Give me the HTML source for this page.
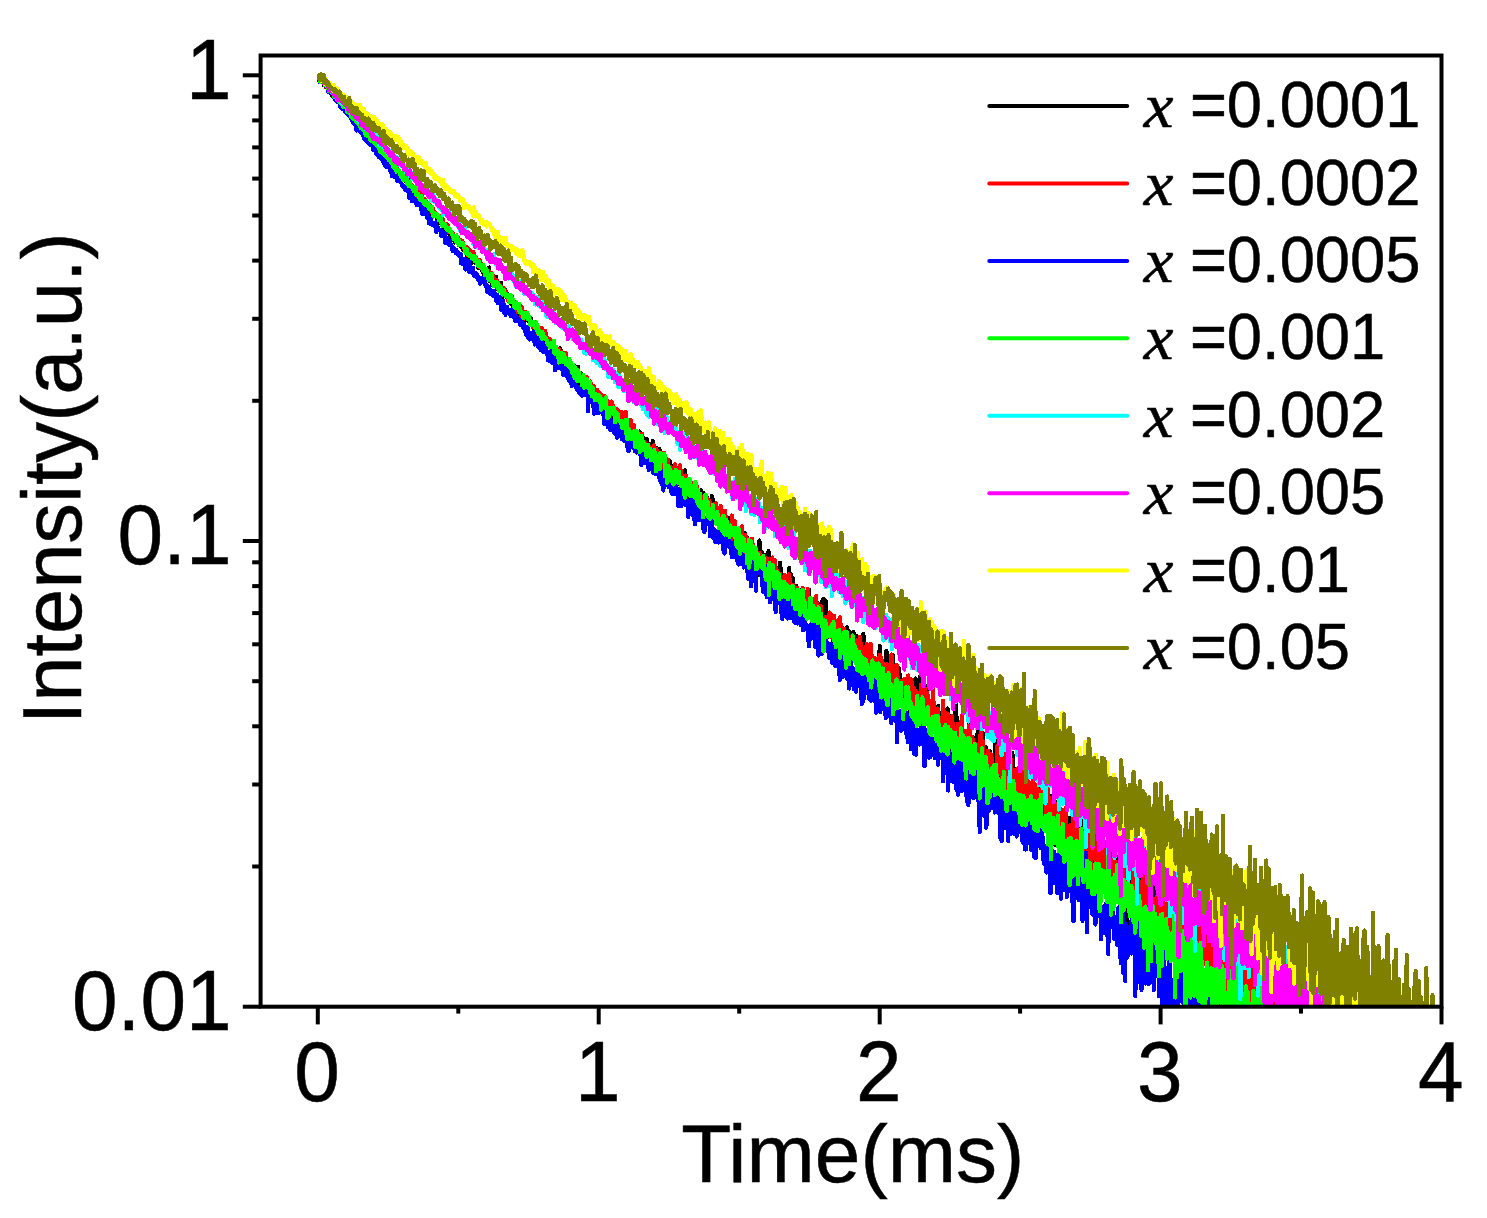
<!DOCTYPE html>
<html lang="en"><head><meta charset="utf-8"><title>Decay curves</title>
<style>
html,body{margin:0;padding:0;background:#fff;}
body{width:1487px;height:1218px;overflow:hidden;}
svg{display:block;}
text{font-family:"Liberation Sans",Arial,sans-serif;fill:#000;stroke:#000;stroke-width:0.5px;}
.it{font-family:"Liberation Serif","Times New Roman",serif;font-style:italic;}
</style></head><body>
<svg width="1487" height="1218" viewBox="0 0 1487 1218">
<rect width="1487" height="1218" fill="#fff"/>
<defs><clipPath id="cp"><rect x="260.6" y="55.5" width="1180.9" height="951.2"/></clipPath></defs>

<g clip-path="url(#cp)" fill="none" stroke-width="4.20" stroke-linejoin="round" stroke-linecap="round" shape-rendering="crispEdges">
<polyline points="318.9,75.3 319.5,75.3 320.0,76.2 320.6,79.4 321.2,79.8 321.7,80.8 322.3,79.8 322.9,81.4 323.4,80.9 324.0,85.5 324.5,81.0 325.1,84.2 325.7,83.7 326.2,85.6 326.8,86.6 327.4,86.0 327.9,86.1 328.5,88.4 329.0,88.9 329.6,88.3 330.2,91.4 330.7,93.1 331.3,90.8 331.8,93.1 332.4,95.8 333.0,94.7 333.5,94.8 334.1,96.6 334.7,97.8 335.2,96.0 335.8,95.3 336.3,97.8 336.9,99.3 337.5,98.2 338.0,98.3 338.6,100.6 339.2,99.9 339.7,99.8 340.3,102.5 340.8,104.1 341.4,102.9 342.0,103.7 342.5,103.0 343.1,107.6 343.6,107.2 344.2,108.2 344.8,110.3 345.3,108.0 345.9,108.0 346.5,110.7 347.0,107.9 347.6,109.5 348.1,110.5 348.7,111.5 349.3,111.3 349.8,115.7 350.4,113.2 350.9,113.9 351.5,118.5 352.1,115.6 352.6,117.3 353.2,116.2 353.8,119.0 354.3,118.9 354.9,119.0 355.4,121.7 356.0,119.9 356.6,121.7 357.1,121.4 357.7,123.8 358.3,121.7 358.8,123.2 359.4,125.2 359.9,124.5 360.5,124.1 361.1,123.9 361.6,130.3 362.2,126.8 362.7,128.1 363.3,129.8 363.9,132.0 364.4,128.8 365.0,133.8 365.6,131.3 366.1,130.7 366.7,136.5 367.2,134.8 367.8,137.3 368.4,135.2 368.9,133.7 369.5,133.5 370.1,140.8 370.6,139.4 371.2,137.8 371.7,136.9 372.3,139.6 372.9,142.4 373.4,141.2 374.0,142.4 374.5,143.4 375.1,145.0 375.7,143.7 376.2,144.5 376.8,145.9 377.4,146.8 377.9,149.4 378.5,148.6 379.0,146.2 379.6,149.4 380.2,152.4 380.7,148.0 381.3,150.1 381.9,147.9 382.4,152.3 383.0,153.9 383.5,156.4 384.1,152.0 384.7,150.4 385.2,157.3 385.8,157.6 386.3,156.0 386.9,159.3 387.5,159.0 388.0,159.8 388.6,159.4 389.2,158.4 389.7,161.1 390.3,160.1 390.8,163.3 391.4,162.5 392.0,167.9 392.5,167.2 393.1,163.7 393.6,167.0 394.2,165.4 394.8,166.1 395.3,165.3 395.9,167.0 396.5,167.3 397.0,170.1 397.6,171.9 398.1,172.6 398.7,172.8 399.3,174.7 399.8,174.3 400.4,174.1 401.0,174.1 401.5,175.9 402.1,179.7 402.6,176.7 403.2,176.8 403.8,175.8 404.3,177.5 404.9,180.5 405.4,181.3 406.0,176.7 406.6,179.8 407.1,178.4 407.7,178.5 408.3,184.9 408.8,183.2 409.4,183.7 409.9,184.2 410.5,184.9 411.1,186.2 411.6,186.9 412.2,191.0 412.8,189.0 413.3,190.8 413.9,189.7 414.4,191.6 415.0,190.1 415.6,190.3 416.1,192.0 416.7,192.7 417.2,193.8 417.8,195.6 418.4,195.7 418.9,197.0 419.5,195.9 420.1,197.3 420.6,196.8 421.2,201.4 421.7,197.6 422.3,201.6 422.9,202.2 423.4,201.8 424.0,203.2 424.6,202.1 425.1,204.6 425.7,206.3 426.2,206.5 426.8,202.7 427.4,206.0 427.9,209.2 428.5,207.4 429.0,211.4 429.6,205.0 430.2,212.7 430.7,209.1 431.3,209.6 431.9,214.5 432.4,211.5 433.0,210.7 433.5,212.4 434.1,213.6 434.7,212.7 435.2,215.1 435.8,215.4 436.4,217.1 436.9,216.1 437.5,220.2 438.0,217.1 438.6,220.6 439.2,222.6 439.7,220.0 440.3,217.8 440.8,220.0 441.4,224.0 442.0,221.9 442.5,225.2 443.1,225.1 443.7,225.3 444.2,231.5 444.8,226.4 445.3,229.9 445.9,229.8 446.5,232.3 447.0,233.1 447.6,232.4 448.1,229.0 448.7,227.7 449.3,232.3 449.8,230.4 450.4,234.2 451.0,238.8 451.5,234.6 452.1,234.5 452.6,237.3 453.2,236.2 453.8,236.2 454.3,240.3 454.9,242.5 455.5,240.1 456.0,240.8 456.6,241.8 457.1,239.2 457.7,238.2 458.3,244.0 458.8,241.9 459.4,241.9 459.9,243.1 460.5,242.9 461.1,247.0 461.6,244.9 462.2,242.4 462.8,246.0 463.3,250.1 463.9,247.7 464.4,246.7 465.0,249.5 465.6,252.5 466.1,247.8 466.7,255.4 467.3,251.6 467.8,253.6 468.4,257.2 468.9,251.7 469.5,254.5 470.1,259.0 470.6,255.1 471.2,258.4 471.7,262.8 472.3,260.3 472.9,258.5 473.4,258.1 474.0,259.9 474.6,260.9 475.1,260.4 475.7,262.8 476.2,259.8 476.8,263.1 477.4,263.3 477.9,263.3 478.5,268.2 479.1,267.9 479.6,262.6 480.2,266.3 480.7,268.6 481.3,267.6 481.9,270.4 482.4,269.0 483.0,272.1 483.5,270.2 484.1,275.9 484.7,268.6 485.2,274.2 485.8,277.8 486.4,274.7 486.9,275.7 487.5,274.9 488.0,279.1 488.6,275.5 489.2,267.5 489.7,281.3 490.3,277.5 490.8,279.9 491.4,279.1 492.0,285.4 492.5,284.1 493.1,280.3 493.7,282.3 494.2,278.3 494.8,285.4 495.3,283.5 495.9,276.6 496.5,287.4 497.0,288.5 497.6,286.6 498.2,287.3 498.7,285.4 499.3,288.0 499.8,291.2 500.4,289.0 501.0,282.8 501.5,287.2 502.1,299.6 502.6,292.5 503.2,295.3 503.8,291.6 504.3,294.5 504.9,289.1 505.5,292.5 506.0,293.3 506.6,295.9 507.1,297.2 507.7,296.7 508.3,294.6 508.8,297.4 509.4,300.6 510.0,296.5 510.5,300.2 511.1,301.7 511.6,304.4 512.2,304.4 512.8,305.2 513.3,312.5 513.9,301.5 514.4,303.5 515.0,306.4 515.6,303.3 516.1,305.7 516.7,306.5 517.3,315.9 517.8,309.6 518.4,307.9 518.9,305.3 519.5,305.2 520.1,307.1 520.6,315.6 521.2,319.5 521.8,311.5 522.3,313.8 522.9,311.5 523.4,315.5 524.0,315.1 524.6,321.1 525.1,315.6 525.7,319.0 526.2,317.1 526.8,317.4 527.4,319.8 527.9,319.1 528.5,320.8 529.1,319.0 529.6,320.4 530.2,324.4 530.7,325.1 531.3,318.4 531.9,324.8 532.4,322.0 533.0,324.5 533.6,328.2 534.1,329.4 534.7,327.3 535.2,327.5 535.8,326.9 536.4,333.7 536.9,332.1 537.5,331.1 538.0,326.3 538.6,339.9 539.2,331.3 539.7,335.1 540.3,332.5 540.9,336.2 541.4,334.0 542.0,330.7 542.5,335.3 543.1,335.7 543.7,336.5 544.2,340.9 544.8,337.2 545.3,340.3 545.9,343.0 546.5,341.0 547.0,342.3 547.6,339.6 548.2,342.9 548.7,345.2 549.3,339.2 549.8,341.3 550.4,341.0 551.0,343.9 551.5,346.9 552.1,348.6 552.7,348.8 553.2,345.2 553.8,348.7 554.3,354.9 554.9,350.5 555.5,355.9 556.0,351.0 556.6,356.5 557.1,357.3 557.7,353.0 558.3,354.4 558.8,360.7 559.4,352.7 560.0,348.3 560.5,362.0 561.1,350.7 561.6,360.4 562.2,360.3 562.8,359.8 563.3,365.2 563.9,355.6 564.5,359.2 565.0,364.5 565.6,363.3 566.1,368.7 566.7,364.9 567.3,360.7 567.8,371.4 568.4,367.1 568.9,365.5 569.5,362.7 570.1,362.2 570.6,369.7 571.2,371.5 571.8,367.5 572.3,371.3 572.9,371.7 573.4,366.9 574.0,365.1 574.6,371.3 575.1,373.8 575.7,371.3 576.3,382.0 576.8,374.9 577.4,379.8 577.9,366.6 578.5,373.8 579.1,376.8 579.6,378.8 580.2,389.3 580.7,376.3 581.3,373.2 581.9,383.6 582.4,378.3 583.0,378.8 583.6,389.1 584.1,379.1 584.7,378.0 585.2,383.3 585.8,385.2 586.4,382.2 586.9,392.9 587.5,386.4 588.0,382.9 588.6,393.6 589.2,384.4 589.7,391.2 590.3,399.3 590.9,391.1 591.4,395.6 592.0,390.5 592.5,397.8 593.1,388.5 593.7,397.1 594.2,392.8 594.8,397.7 595.4,397.1 595.9,390.9 596.5,395.9 597.0,399.4 597.6,404.0 598.2,393.5 598.7,396.1 599.3,401.5 599.8,399.4 600.4,406.0 601.0,406.5 601.5,406.2 602.1,401.2 602.7,402.0 603.2,407.5 603.8,401.1 604.3,401.4 604.9,404.8 605.5,401.3 606.0,408.2 606.6,407.9 607.2,405.7 607.7,408.7 608.3,405.2 608.8,415.8 609.4,403.4 610.0,414.6 610.5,412.1 611.1,418.8 611.6,409.5 612.2,406.8 612.8,408.4 613.3,410.1 613.9,422.6 614.5,419.2 615.0,418.2 615.6,421.2 616.1,411.4 616.7,416.6 617.3,418.2 617.8,416.2 618.4,424.1 619.0,424.5 619.5,424.9 620.1,418.4 620.6,419.8 621.2,419.1 621.8,417.2 622.3,430.4 622.9,426.7 623.4,423.6 624.0,432.1 624.6,428.3 625.1,420.8 625.7,420.9 626.3,421.6 626.8,427.5 627.4,429.4 627.9,423.2 628.5,431.4 629.1,428.2 629.6,423.6 630.2,433.1 630.8,435.0 631.3,432.3 631.9,429.6 632.4,430.8 633.0,433.1 633.6,431.5 634.1,444.0 634.7,440.4 635.2,435.3 635.8,442.0 636.4,444.9 636.9,444.7 637.5,443.6 638.1,440.1 638.6,445.4 639.2,438.9 639.7,431.5 640.3,442.2 640.9,434.9 641.4,440.9 642.0,449.4 642.5,445.1 643.1,449.8 643.7,440.4 644.2,452.0 644.8,438.5 645.4,443.2 645.9,458.9 646.5,443.1 647.0,439.4 647.6,453.3 648.2,443.6 648.7,460.5 649.3,448.9 649.9,460.9 650.4,448.7 651.0,462.8 651.5,468.7 652.1,450.9 652.7,440.8 653.2,457.9 653.8,450.1 654.3,454.8 654.9,458.0 655.5,453.0 656.0,447.6 656.6,465.3 657.2,455.0 657.7,456.8 658.3,468.2 658.8,450.5 659.4,449.1 660.0,467.0 660.5,451.4 661.1,461.9 661.7,463.8 662.2,454.4 662.8,462.6 663.3,462.6 663.9,456.0 664.5,457.9 665.0,460.8 665.6,475.7 666.1,477.4 666.7,461.1 667.3,474.4 667.8,468.2 668.4,476.5 669.0,471.4 669.5,479.0 670.1,461.3 670.6,478.4 671.2,473.2 671.8,474.2 672.3,466.0 672.9,483.3 673.5,474.8 674.0,476.5 674.6,472.4 675.1,473.3 675.7,479.8 676.3,475.9 676.8,480.3 677.4,475.5 677.9,479.7 678.5,483.9 679.1,480.3 679.6,478.4 680.2,467.1 680.8,485.0 681.3,480.4 681.9,473.6 682.4,497.4 683.0,495.7 683.6,492.5 684.1,485.8 684.7,470.3 685.2,483.7 685.8,479.0 686.4,488.8 686.9,504.8 687.5,504.3 688.1,482.3 688.6,488.3 689.2,498.8 689.7,483.3 690.3,501.6 690.9,484.3 691.4,482.8 692.0,498.0 692.6,500.9 693.1,488.4 693.7,501.9 694.2,489.3 694.8,503.8 695.4,490.8 695.9,496.0 696.5,500.2 697.0,503.9 697.6,496.7 698.2,512.1 698.7,501.3 699.3,502.7 699.9,496.0 700.4,509.8 701.0,490.3 701.5,504.3 702.1,510.7 702.7,494.0 703.2,492.8 703.8,505.7 704.4,511.2 704.9,505.4 705.5,510.9 706.0,508.8 706.6,496.7 707.2,505.0 707.7,507.3 708.3,506.4 708.8,509.8 709.4,504.1 710.0,504.4 710.5,513.6 711.1,510.8 711.7,495.9 712.2,509.7 712.8,514.5 713.3,499.9 713.9,514.3 714.5,522.8 715.0,510.7 715.6,522.4 716.2,520.1 716.7,514.8 717.3,518.5 717.8,523.7 718.4,522.7 719.0,523.6 719.5,511.7 720.1,525.6 720.6,525.1 721.2,507.4 721.8,526.1 722.3,512.2 722.9,513.9 723.5,524.8 724.0,534.7 724.6,521.6 725.1,520.5 725.7,519.0 726.3,525.9 726.8,518.5 727.4,517.7 728.0,535.9 728.5,518.5 729.1,527.9 729.6,533.9 730.2,532.7 730.8,517.6 731.3,524.3 731.9,545.5 732.4,531.9 733.0,534.1 733.6,534.9 734.1,538.0 734.7,545.8 735.3,529.0 735.8,542.9 736.4,539.1 736.9,541.5 737.5,543.0 738.1,532.6 738.6,535.7 739.2,544.2 739.7,546.9 740.3,543.8 740.9,533.7 741.4,540.4 742.0,540.2 742.6,544.9 743.1,544.9 743.7,541.9 744.2,558.5 744.8,532.8 745.4,551.3 745.9,550.1 746.5,536.4 747.1,545.2 747.6,547.1 748.2,552.5 748.7,560.8 749.3,547.7 749.9,540.7 750.4,557.2 751.0,540.5 751.5,560.1 752.1,557.5 752.7,548.5 753.2,552.9 753.8,548.2 754.4,559.8 754.9,562.7 755.5,570.1 756.0,565.2 756.6,564.8 757.2,568.2 757.7,554.9 758.3,563.1 758.9,574.6 759.4,540.5 760.0,566.2 760.5,570.2 761.1,551.2 761.7,552.3 762.2,571.0 762.8,574.2 763.3,570.9 763.9,554.7 764.5,566.4 765.0,571.0 765.6,565.3 766.2,556.3 766.7,577.5 767.3,569.8 767.8,578.6 768.4,551.2 769.0,554.4 769.5,561.5 770.1,570.5 770.7,564.8 771.2,588.1 771.8,568.9 772.3,582.7 772.9,583.2 773.5,578.5 774.0,576.2 774.6,569.3 775.1,568.8 775.7,572.9 776.3,583.3 776.8,570.7 777.4,577.6 778.0,567.8 778.5,585.3 779.1,602.1 779.6,582.8 780.2,562.6 780.8,576.1 781.3,582.1 781.9,573.9 782.4,577.5 783.0,578.4 783.6,587.0 784.1,582.6 784.7,582.1 785.3,589.7 785.8,594.4 786.4,584.3 786.9,578.1 787.5,581.3 788.1,583.1 788.6,583.5 789.2,567.8 789.8,586.6 790.3,580.8 790.9,574.2 791.4,590.0 792.0,588.8 792.6,583.0 793.1,578.4 793.7,590.0 794.2,590.1 794.8,593.0 795.4,604.7 795.9,585.6 796.5,597.5 797.1,611.0 797.6,597.7 798.2,612.2 798.7,606.3 799.3,598.0 799.9,606.6 800.4,590.3 801.0,612.7 801.6,598.1 802.1,596.1 802.7,589.2 803.2,594.2 803.8,600.5 804.4,602.3 804.9,604.1 805.5,594.5 806.0,610.4 806.6,600.7 807.2,606.6 807.7,604.2 808.3,609.2 808.9,589.5 809.4,613.8 810.0,606.2 810.5,606.5 811.1,604.1 811.7,606.0 812.2,606.7 812.8,602.4 813.4,625.2 813.9,611.8 814.5,623.6 815.0,610.8 815.6,624.2 816.2,622.6 816.7,614.8 817.3,602.6 817.8,610.1 818.4,613.1 819.0,604.0 819.5,625.5 820.1,637.1 820.7,621.6 821.2,620.7 821.8,607.7 822.3,600.5 822.9,632.2 823.5,598.7 824.0,606.8 824.6,613.6 825.2,618.2 825.7,600.9 826.3,621.8 826.8,627.5 827.4,622.3 828.0,637.1 828.5,620.2 829.1,626.0 829.6,622.4 830.2,622.7 830.8,636.6 831.3,615.0 831.9,637.2 832.5,619.8 833.0,644.0 833.6,625.4 834.1,637.3 834.7,629.5 835.3,636.6 835.8,652.7 836.4,642.2 836.9,631.2 837.5,626.5 838.1,647.3 838.6,654.7 839.2,642.3 839.8,636.3 840.3,640.9 840.9,643.2 841.4,627.7 842.0,627.1 842.6,629.7 843.1,646.5 843.7,636.9 844.3,640.1 844.8,653.0 845.4,630.7 845.9,638.8 846.5,644.9 847.1,627.2 847.6,633.7 848.2,633.4 848.7,630.6 849.3,635.6 849.9,655.9 850.4,647.4 851.0,634.3 851.6,652.3 852.1,644.6 852.7,641.6 853.2,632.1 853.8,633.9 854.4,638.2 854.9,649.3 855.5,639.0 856.1,643.2 856.6,650.6 857.2,636.2 857.7,645.0 858.3,658.2 858.9,638.5 859.4,654.0 860.0,645.9 860.5,668.5 861.1,653.0 861.7,663.2 862.2,664.0 862.8,674.8 863.4,634.0 863.9,656.8 864.5,653.4 865.0,645.2 865.6,658.0 866.2,652.0 866.7,672.3 867.3,656.2 867.9,663.1 868.4,654.1 869.0,657.8 869.5,675.1 870.1,680.9 870.7,672.0 871.2,654.1 871.8,657.7 872.3,658.5 872.9,685.5 873.5,694.1 874.0,670.8 874.6,668.1 875.2,671.6 875.7,661.9 876.3,667.9 876.8,679.5 877.4,676.6 878.0,666.0 878.5,667.3 879.1,669.3 879.7,646.2 880.2,672.3 880.8,668.7 881.3,681.4 881.9,674.8 882.5,665.8 883.0,665.8 883.6,674.0 884.1,668.6 884.7,672.6 885.3,695.2 885.8,713.2 886.4,651.0 887.0,666.3 887.5,676.2 888.1,695.9 888.6,690.9 889.2,662.7 889.8,710.5 890.3,681.5 890.9,669.1 891.4,677.3 892.0,671.2 892.6,681.2 893.1,655.4 893.7,692.4 894.3,696.8 894.8,678.6 895.4,666.8 895.9,683.2 896.5,671.7 897.1,689.5 897.6,697.6 898.2,669.4 898.8,668.1 899.3,668.9 899.9,690.8 900.4,699.7 901.0,700.3 901.6,689.8 902.1,681.2 902.7,682.5 903.2,705.5 903.8,686.9 904.4,689.4 904.9,689.0 905.5,690.8 906.1,693.3 906.6,684.8 907.2,690.4 907.7,689.8 908.3,700.9 908.9,688.8 909.4,695.1 910.0,720.1 910.6,689.2 911.1,698.2 911.7,685.2 912.2,698.0 912.8,697.7 913.4,694.6 913.9,697.6 914.5,703.2 915.0,720.4 915.6,678.5 916.2,718.6 916.7,703.8 917.3,692.8 917.9,696.3 918.4,694.7 919.0,692.9 919.5,687.8 920.1,699.1 920.7,671.5 921.2,715.8 921.8,701.3 922.4,708.8 922.9,711.5 923.5,702.0 924.0,689.3 924.6,714.9 925.2,715.4 925.7,698.8 926.3,701.4 926.8,686.1 927.4,696.8 928.0,706.4 928.5,713.6 929.1,707.5 929.7,712.6 930.2,728.1 930.8,711.3 931.3,714.0 931.9,715.2 932.5,718.1 933.0,693.9 933.6,705.5 934.1,703.2 934.7,722.2 935.3,728.0 935.8,719.1 936.4,713.2 937.0,720.8 937.5,719.3 938.1,706.1 938.6,714.3 939.2,730.8 939.8,724.2 940.3,727.6 940.9,717.6 941.5,735.1 942.0,723.0 942.6,712.9 943.1,721.3 943.7,733.7 944.3,730.4 944.8,721.6 945.4,717.7 945.9,713.9 946.5,726.3 947.1,742.0 947.6,708.5 948.2,722.2 948.8,721.4 949.3,723.1 949.9,740.6 950.4,731.8 951.0,725.0 951.6,716.2 952.1,728.4 952.7,772.9 953.3,733.1 953.8,726.2 954.4,715.4 954.9,722.7 955.5,702.9 956.1,715.3 956.6,716.6 957.2,721.8 957.7,752.0 958.3,723.9 958.9,727.3 959.4,742.0 960.0,728.4 960.6,730.9 961.1,742.6 961.7,738.6 962.2,740.9 962.8,735.1 963.4,743.9 963.9,732.1 964.5,765.4 965.1,743.5 965.6,763.0 966.2,747.0 966.7,734.8 967.3,741.4 967.9,743.6 968.4,741.8 969.0,723.9 969.5,758.3 970.1,733.0 970.7,764.9 971.2,751.1 971.8,743.3 972.4,757.2 972.9,743.7 973.5,737.6 974.0,763.3 974.6,748.8 975.2,753.2 975.7,775.5 976.3,751.6 976.9,760.3 977.4,733.4 978.0,762.3 978.5,730.0 979.1,758.6 979.7,728.2 980.2,745.5 980.8,747.1 981.3,743.1 981.9,742.4 982.5,736.7 983.0,733.2 983.6,759.8 984.2,772.8 984.7,794.7 985.3,761.8 985.8,747.3 986.4,752.6 987.0,756.5 987.5,763.2 988.1,767.6 988.6,763.2 989.2,754.8 989.8,785.2 990.3,751.4 990.9,781.6 991.5,763.9 992.0,770.8 992.6,767.6 993.1,777.6 993.7,779.6 994.3,767.2 994.8,779.6 995.4,734.6 996.0,771.2 996.5,775.0 997.1,774.0 997.6,781.8 998.2,803.4 998.8,771.3 999.3,764.2 999.9,790.1 1000.4,769.2 1001.0,786.7 1001.6,770.7 1002.1,765.9 1002.7,764.7 1003.3,765.8 1003.8,781.8 1004.4,761.0 1004.9,779.2 1005.5,768.8 1006.1,764.6 1006.6,778.6 1007.2,793.2 1007.8,767.2 1008.3,791.6 1008.9,788.8 1009.4,792.4 1010.0,766.0 1010.6,779.9 1011.1,811.5 1011.7,768.8 1012.2,752.6 1012.8,756.3 1013.4,788.0 1013.9,779.4 1014.5,774.1 1015.1,769.5 1015.6,781.4 1016.2,798.0 1016.7,772.7 1017.3,775.0 1017.9,803.0 1018.4,789.4 1019.0,781.0 1019.6,785.2 1020.1,778.5 1020.7,775.4 1021.2,779.3 1021.8,788.7 1022.4,807.3 1022.9,779.7 1023.5,770.0 1024.0,763.3 1024.6,790.1 1025.2,790.6 1025.7,771.4 1026.3,771.9 1026.9,786.9 1027.4,782.4 1028.0,803.6 1028.5,785.1 1029.1,805.6 1029.7,796.2 1030.2,796.4 1030.8,801.8 1031.3,827.8 1031.9,808.1 1032.5,792.0 1033.0,798.0 1033.6,803.3 1034.2,792.1 1034.7,789.1 1035.3,787.4 1035.8,811.4 1036.4,799.8 1037.0,805.4 1037.5,814.0 1038.1,824.2 1038.7,803.5 1039.2,815.5 1039.8,774.5 1040.3,805.0 1040.9,807.4 1041.5,810.4 1042.0,779.9 1042.6,819.6 1043.1,808.4 1043.7,818.0 1044.3,808.9 1044.8,808.1 1045.4,792.9 1046.0,830.1 1046.5,809.4 1047.1,787.5 1047.6,817.6 1048.2,813.2 1048.8,824.4 1049.3,853.6 1049.9,813.6 1050.5,796.2 1051.0,820.0 1051.6,842.4 1052.1,810.2 1052.7,813.4 1053.3,801.0 1053.8,802.7 1054.4,820.1 1054.9,810.8 1055.5,845.3 1056.1,801.9 1056.6,815.4 1057.2,803.3 1057.8,804.0 1058.3,823.8 1058.9,822.3 1059.4,833.8 1060.0,854.0 1060.6,823.5 1061.1,819.8 1061.7,839.2 1062.3,812.8 1062.8,822.1 1063.4,817.4 1063.9,836.3 1064.5,853.0 1065.1,814.3 1065.6,817.2 1066.2,828.2 1066.7,833.4 1067.3,831.7 1067.9,830.1 1068.4,836.3 1069.0,861.6 1069.6,818.1 1070.1,853.8 1070.7,835.6 1071.2,835.7 1071.8,827.6 1072.4,858.0 1072.9,815.0 1073.5,823.3 1074.1,822.1 1074.6,815.6 1075.2,847.0 1075.7,889.5 1076.3,830.4 1076.9,816.8 1077.4,819.3 1078.0,845.3 1078.5,838.8 1079.1,833.5 1079.7,868.3 1080.2,849.4 1080.8,849.4 1081.4,816.7 1081.9,850.6 1082.5,817.8 1083.0,841.1 1083.6,869.7 1084.2,810.4 1084.7,858.5 1085.3,833.8 1085.8,818.6 1086.4,852.7 1087.0,864.9 1087.5,829.5 1088.1,844.6 1088.7,866.5 1089.2,864.5 1089.8,853.4 1090.3,833.0 1090.9,852.8 1091.5,838.5 1092.0,824.5 1092.6,830.4 1093.2,828.5 1093.7,831.9 1094.3,878.6 1094.8,833.0 1095.4,846.9 1096.0,854.6 1096.5,871.3 1097.1,880.9 1097.6,872.9 1098.2,855.0 1098.8,875.0 1099.3,869.3 1099.9,866.4 1100.5,846.1 1101.0,862.0 1101.6,860.0 1102.1,837.6 1102.7,863.9 1103.3,849.6 1103.8,877.7 1104.4,854.8 1105.0,858.6 1105.5,858.2 1106.1,869.4 1106.6,879.8 1107.2,867.6 1107.8,871.0 1108.3,847.2 1108.9,849.6 1109.4,885.5 1110.0,854.9 1110.6,873.7 1111.1,858.6 1111.7,874.7 1112.3,893.2 1112.8,851.3 1113.4,860.6 1113.9,890.2 1114.5,903.5 1115.1,878.7 1115.6,890.9 1116.2,876.8 1116.8,860.9 1117.3,848.2 1117.9,878.2 1118.4,850.5 1119.0,854.2 1119.6,881.0 1120.1,904.5 1120.7,860.5 1121.2,864.9 1121.8,838.9 1122.4,852.9 1122.9,863.5 1123.5,850.0 1124.1,896.3 1124.6,874.7 1125.2,883.2 1125.7,851.0 1126.3,869.9 1126.9,941.0 1127.4,858.0 1128.0,897.2 1128.5,868.3 1129.1,890.3 1129.7,878.1 1130.2,872.1 1130.8,879.9 1131.4,901.1 1131.9,861.2 1132.5,877.9 1133.0,885.5 1133.6,873.7 1134.2,895.8 1134.7,856.1 1135.3,883.3 1135.9,881.3 1136.4,882.1 1137.0,905.4 1137.5,911.0 1138.1,885.8 1138.7,884.0 1139.2,868.1 1139.8,883.3 1140.3,911.9 1140.9,882.9 1141.5,878.4 1142.0,876.0 1142.6,887.7 1143.2,917.2 1143.7,874.8 1144.3,908.6 1144.8,885.5 1145.4,926.5 1146.0,883.3 1146.5,911.7 1147.1,878.9 1147.7,868.5 1148.2,878.5 1148.8,921.4 1149.3,917.4 1149.9,916.5 1150.5,888.9 1151.0,894.9 1151.6,898.7 1152.1,896.5 1152.7,892.3 1153.3,891.5 1153.8,874.8 1154.4,905.1 1155.0,900.9 1155.5,942.4 1156.1,931.5 1156.6,919.3 1157.2,929.7 1157.8,903.1 1158.3,889.3 1158.9,916.4 1159.5,917.8 1160.0,918.9 1160.6,907.3 1161.1,920.6 1161.7,902.9 1162.3,905.6 1162.8,905.3 1163.4,898.4 1163.9,912.0 1164.5,910.4 1165.1,883.1 1165.6,915.0 1166.2,900.1 1166.8,914.1 1167.3,924.4 1167.9,924.9 1168.4,932.7 1169.0,916.8 1169.6,929.3 1170.1,926.2 1170.7,896.6 1171.3,921.5 1171.8,898.9 1172.4,915.0 1172.9,904.7 1173.5,932.9 1174.1,918.6 1174.6,876.9 1175.2,907.1 1175.7,904.5 1176.3,918.9 1176.9,908.0 1177.4,948.0 1178.0,941.9 1178.6,917.2 1179.1,910.6 1179.7,934.4 1180.2,930.4 1180.8,934.4 1181.4,931.4 1181.9,953.0 1182.5,958.7 1183.0,930.8 1183.6,966.8 1184.2,950.3 1184.7,944.0 1185.3,952.9 1185.9,927.1 1186.4,941.2 1187.0,934.3 1187.5,954.1 1188.1,948.9 1188.7,924.4 1189.2,927.7 1189.8,944.6 1190.4,928.7 1190.9,932.6 1191.5,933.6 1192.0,907.9 1192.6,945.9 1193.2,930.1 1193.7,930.5 1194.3,944.0 1194.8,964.4 1195.4,926.9 1196.0,935.6 1196.5,940.2 1197.1,941.3 1197.7,941.8 1198.2,961.6 1198.8,937.5 1199.3,983.9 1199.9,944.8 1200.5,977.7 1201.0,952.6 1201.6,931.7 1202.2,951.7 1202.7,956.9 1203.3,937.0 1203.8,953.4 1204.4,956.9 1205.0,957.1 1205.5,920.1 1206.1,936.5 1206.6,940.5 1207.2,977.4 1207.8,938.7 1208.3,981.0 1208.9,942.5 1209.5,977.9 1210.0,915.7 1210.6,993.1 1211.1,929.9 1211.7,938.4 1212.3,997.3 1212.8,961.0 1213.4,927.5 1214.0,933.7 1214.5,996.6 1215.1,969.3 1215.6,985.4 1216.2,982.3 1216.8,973.7 1217.3,923.1 1217.9,957.3 1218.4,965.7 1219.0,968.7 1219.6,947.5 1220.1,947.5 1220.7,984.1 1221.3,933.0 1221.8,989.2 1222.4,970.4 1222.9,954.8 1223.5,930.1 1224.1,973.5 1224.6,959.8 1225.2,939.2 1225.7,953.5 1226.3,943.6 1226.9,945.8 1227.4,962.7 1228.0,955.1 1228.6,949.6 1229.1,970.6 1229.7,936.8 1230.2,1022.5 1230.8,993.7 1231.4,941.1 1231.9,962.7 1232.5,988.3 1233.1,964.8 1233.6,950.0 1234.2,987.7 1234.7,957.6 1235.3,978.1 1235.9,978.4 1236.4,977.8 1237.0,952.1 1237.5,1005.4 1238.1,986.5 1238.7,963.1 1239.2,1009.8 1239.8,1020.6 1240.4,966.5 1240.9,980.0 1241.5,984.1 1242.0,977.7 1242.6,1006.3 1243.2,921.9 1243.7,1007.7 1244.3,993.8 1244.9,1021.1 1245.4,994.3 1246.0,950.4 1246.5,984.4 1247.1,971.4 1247.7,998.0 1248.2,946.2 1248.8,982.9 1249.3,1020.6 1249.9,969.7 1250.5,997.6 1251.0,974.3 1251.6,985.8 1252.2,983.3 1252.7,986.9 1253.3,1014.6 1253.8,1032.6 1254.4,968.6 1255.0,995.6 1255.5,985.6 1256.1,1005.1 1256.7,1052.4 1257.2,1029.2 1257.8,962.1 1258.3,1016.0 1258.9,1005.5 1259.5,1037.3 1260.0,1010.5 1260.6,1006.8 1261.1,1003.3 1261.7,999.9 1262.3,1015.4 1262.8,1014.3 1263.4,999.8 1264.0,991.8 1264.5,1004.2 1265.1,960.2 1265.6,996.2 1266.2,997.8 1266.8,1020.3 1267.3,977.7 1267.9,1032.2 1268.5,1051.5 1269.0,1031.8 1269.6,989.2 1270.1,1038.1 1270.7,974.3 1271.3,1007.0 1271.8,1051.7 1272.4,1013.5 1272.9,965.2 1273.5,1032.7 1274.1,1047.2 1274.6,996.0 1275.2,977.5 1275.8,984.6 1276.3,1019.8 1276.9,1006.2 1277.4,1003.1 1278.0,982.7 1278.6,961.5 1279.1,1016.1 1279.7,981.1 1280.2,1023.7 1280.8,999.2 1281.4,1042.4 1281.9,1037.7 1282.5,1005.0 1283.1,1042.9 1283.6,994.0 1284.2,1033.3 1284.7,1015.9 1285.3,1020.8 1285.9,1028.5 1286.4,1015.9 1287.0,991.9 1287.6,948.3 1288.1,1057.1 1288.7,1013.2 1289.2,1026.9 1289.8,1049.8 1290.4,1015.0 1290.9,1049.8 1291.5,1026.0 1292.0,992.0 1292.6,1062.6 1293.2,1018.4 1293.7,1013.4 1294.3,1055.5 1294.9,1012.3 1295.4,1017.4 1296.0,1037.9 1296.5,996.1 1297.1,1062.6 1297.7,1011.4 1298.2,1036.5 1298.8,1062.6 1299.4,1035.8 1299.9,1041.5 1300.5,1009.1 1301.0,1062.6 1301.6,1038.3 1302.2,1046.8 1302.7,992.1 1303.3,1062.6 1303.8,1005.6 1304.4,1062.6 1305.0,1025.6 1305.5,1040.1 1306.1,1025.7 1306.7,1059.0 1307.2,1062.6 1307.8,1062.6 1308.3,1002.9 1308.9,1032.9 1309.5,1062.6 1310.0,1014.9 1310.6,1062.6 1311.2,1062.6 1311.7,1062.6 1312.3,1009.5 1312.8,990.8 1313.4,1062.6 1314.0,1035.1 1314.5,1016.6 1315.1,989.0 1315.6,1062.6 1316.2,1041.5 1316.8,1027.5 1317.3,1062.6 1317.9,1035.2 1318.5,1041.8 1319.0,1027.2 1319.6,1062.6 1320.1,1036.8 1320.7,1062.6 1321.3,1032.4 1321.8,1046.0 1322.4,1062.6 1322.9,1062.6 1323.5,1006.6 1324.1,1020.9 1324.6,1027.5 1325.2,1062.6 1325.8,1062.6 1326.3,1008.1 1326.9,1033.1 1327.4,1062.6 1328.0,1054.7 1328.6,1052.3 1329.1,1062.6 1329.7,1062.6 1330.3,1021.8 1330.8,1040.7 1331.4,1062.6 1331.9,1062.6 1332.5,1062.6 1333.1,1060.6 1333.6,1034.9 1334.2,1062.6 1334.7,1029.1 1335.3,1057.8 1335.9,1062.6 1336.4,1062.6 1337.0,1062.6 1337.6,1062.6 1338.1,1062.6 1338.7,1054.5 1339.2,1024.8 1339.8,1062.6 1340.4,1062.6 1340.9,1002.0 1341.5,1057.4 1342.1,1062.6 1342.6,1062.6 1343.2,1062.6 1343.7,1049.4 1344.3,1057.8 1344.9,1023.7 1345.4,1037.3 1346.0,1044.3 1346.5,1033.8 1347.1,1062.6 1347.7,1062.6 1348.2,1062.6 1348.8,1062.6 1349.4,1062.6 1349.9,1062.6 1350.5,1053.6 1351.0,1062.6 1351.6,1062.6 1352.2,1062.6 1352.7,1034.0 1353.3,1062.6 1353.9,1062.6 1354.4,1062.6 1355.0,1062.6 1355.5,1062.6 1356.1,1062.6 1356.7,1062.6 1357.2,1062.6 1357.8,1062.6 1358.3,1062.6 1358.9,1062.6 1359.5,1048.3 1360.0,1062.6 1360.6,1062.6 1361.2,1062.6 1361.7,1062.6 1362.3,1053.3 1362.8,1062.6 1363.4,1062.6 1364.0,1062.6 1364.5,1058.4 1365.1,1060.7 1365.7,1062.6 1366.2,1062.6 1366.8,1045.4 1367.3,1062.6 1367.9,1051.5 1368.5,1048.6 1369.0,1062.6 1369.6,1062.6 1370.1,1062.6 1370.7,1057.0 1371.3,1062.6 1371.8,1062.6 1372.4,1062.6 1373.0,1062.6 1373.5,1062.6 1374.1,1062.6 1374.6,1062.6 1375.2,1062.6 1375.8,1062.6 1376.3,1062.6 1376.9,1062.6 1377.4,1020.2 1378.0,1060.9 1378.6,1062.6 1379.1,1062.6 1379.7,1055.8 1380.3,1062.6 1380.8,1062.6 1381.4,1062.6 1381.9,1062.6 1382.5,1036.0 1383.1,1062.6 1383.6,1052.6 1384.2,1062.6 1384.8,1062.6 1385.3,1062.6 1385.9,1062.6 1386.4,1062.6 1387.0,1062.6 1387.6,1062.6 1388.1,1062.6 1388.7,1062.6 1389.2,1062.6 1389.8,1062.6 1390.4,1062.6 1390.9,1062.6 1391.5,1062.6 1392.1,1062.6 1392.6,1062.6 1393.2,1055.5 1393.7,1062.6 1394.3,1062.6 1394.9,1062.6 1395.4,1062.6 1396.0,1062.6 1396.6,1062.6 1397.1,1062.6 1397.7,1062.6 1398.2,1062.6 1398.8,1062.6 1399.4,1062.6 1399.9,1062.6 1400.5,1062.6 1401.0,1037.1 1401.6,1062.6 1402.2,1062.6 1402.7,1062.6 1403.3,1062.6 1403.9,1062.6 1404.4,1062.6 1405.0,1062.6 1405.5,1062.6 1406.1,1062.6 1406.7,1062.6 1407.2,1062.6 1407.8,1062.6 1408.4,1062.6 1408.9,1062.6 1409.5,1057.9 1410.0,1062.6 1410.6,1062.6 1411.2,1062.6 1411.7,1062.6 1412.3,1062.6 1412.8,1062.6 1413.4,1062.6 1414.0,1062.6 1414.5,1062.6 1415.1,1062.6 1415.7,1062.6 1416.2,1062.6 1416.8,1062.6 1417.3,1062.6 1417.9,1062.6 1418.5,1062.6 1419.0,1062.6 1419.6,1062.6 1420.1,1044.9 1420.7,1062.6 1421.3,1062.6 1421.8,1062.6 1422.4,1062.6 1423.0,1062.6 1423.5,1062.6 1424.1,1062.6 1424.6,1062.6 1425.2,1062.6 1425.8,1062.6 1426.3,1062.6 1426.9,1062.6 1427.5,1062.6 1428.0,1062.6 1428.6,1062.6 1429.1,1062.6 1429.7,1062.6 1430.3,1062.6 1430.8,1062.6 1431.4,1062.6 1431.9,1062.6 1432.5,1062.6 1433.1,1062.6 1433.6,1062.6 1434.2,1062.6" stroke="#000000"/>
<polyline points="318.9,75.3 319.5,76.0 320.0,77.1 320.6,77.7 321.2,77.3 321.7,81.4 322.3,81.4 322.9,82.9 323.4,82.0 324.0,81.4 324.5,83.3 325.1,83.3 325.7,86.9 326.2,85.0 326.8,87.0 327.4,84.3 327.9,86.1 328.5,86.7 329.0,88.6 329.6,88.4 330.2,89.0 330.7,90.9 331.3,91.8 331.8,92.0 332.4,93.3 333.0,93.9 333.5,94.2 334.1,95.4 334.7,94.2 335.2,97.8 335.8,95.4 336.3,97.9 336.9,98.5 337.5,100.2 338.0,99.3 338.6,100.1 339.2,100.2 339.7,101.8 340.3,101.6 340.8,100.1 341.4,102.5 342.0,104.5 342.5,103.2 343.1,105.2 343.6,104.9 344.2,105.6 344.8,107.6 345.3,110.3 345.9,108.8 346.5,108.3 347.0,110.2 347.6,109.8 348.1,109.7 348.7,112.4 349.3,110.7 349.8,110.8 350.4,112.2 350.9,112.8 351.5,113.5 352.1,112.6 352.6,116.0 353.2,117.0 353.8,116.8 354.3,119.5 354.9,121.1 355.4,120.8 356.0,119.8 356.6,120.3 357.1,123.7 357.7,124.9 358.3,123.3 358.8,123.8 359.4,124.3 359.9,124.0 360.5,123.9 361.1,125.9 361.6,126.0 362.2,129.1 362.7,129.9 363.3,128.5 363.9,128.6 364.4,129.2 365.0,130.0 365.6,130.4 366.1,131.0 366.7,135.3 367.2,134.5 367.8,133.5 368.4,134.0 368.9,137.6 369.5,134.5 370.1,137.4 370.6,137.8 371.2,137.7 371.7,137.7 372.3,141.5 372.9,138.7 373.4,140.7 374.0,142.5 374.5,142.5 375.1,145.9 375.7,144.4 376.2,143.8 376.8,145.8 377.4,145.9 377.9,146.3 378.5,146.6 379.0,145.9 379.6,148.1 380.2,149.1 380.7,148.6 381.3,147.0 381.9,151.2 382.4,150.6 383.0,154.4 383.5,150.7 384.1,152.4 384.7,152.0 385.2,154.7 385.8,156.9 386.3,154.7 386.9,155.5 387.5,158.6 388.0,160.2 388.6,157.9 389.2,159.5 389.7,156.0 390.3,161.5 390.8,162.1 391.4,162.1 392.0,165.1 392.5,164.6 393.1,161.4 393.6,164.8 394.2,166.2 394.8,167.9 395.3,165.7 395.9,166.2 396.5,167.5 397.0,169.1 397.6,168.7 398.1,169.3 398.7,171.6 399.3,170.2 399.8,175.2 400.4,174.5 401.0,173.6 401.5,174.0 402.1,176.3 402.6,174.6 403.2,174.2 403.8,175.8 404.3,176.8 404.9,176.5 405.4,177.8 406.0,180.9 406.6,180.1 407.1,178.4 407.7,182.9 408.3,181.7 408.8,183.1 409.4,184.5 409.9,185.4 410.5,184.3 411.1,184.6 411.6,185.2 412.2,188.7 412.8,187.5 413.3,187.2 413.9,186.9 414.4,188.0 415.0,188.4 415.6,188.6 416.1,189.7 416.7,193.0 417.2,192.3 417.8,194.2 418.4,197.6 418.9,197.1 419.5,191.6 420.1,197.5 420.6,200.0 421.2,197.9 421.7,195.1 422.3,198.4 422.9,198.3 423.4,200.1 424.0,200.4 424.6,198.9 425.1,200.3 425.7,202.4 426.2,201.4 426.8,201.8 427.4,204.6 427.9,204.5 428.5,205.1 429.0,207.4 429.6,205.0 430.2,207.8 430.7,209.3 431.3,211.8 431.9,211.7 432.4,207.6 433.0,212.8 433.5,210.8 434.1,212.8 434.7,212.0 435.2,212.5 435.8,215.5 436.4,215.3 436.9,215.3 437.5,216.0 438.0,216.9 438.6,218.0 439.2,217.0 439.7,216.5 440.3,218.5 440.8,221.5 441.4,220.1 442.0,221.3 442.5,221.3 443.1,219.5 443.7,223.8 444.2,224.1 444.8,226.4 445.3,225.9 445.9,227.1 446.5,223.8 447.0,226.8 447.6,229.1 448.1,225.2 448.7,231.9 449.3,228.4 449.8,228.8 450.4,230.3 451.0,232.5 451.5,232.9 452.1,234.0 452.6,232.5 453.2,239.1 453.8,236.3 454.3,235.7 454.9,237.8 455.5,240.8 456.0,238.4 456.6,240.1 457.1,237.8 457.7,237.3 458.3,240.5 458.8,245.1 459.4,242.2 459.9,244.3 460.5,241.8 461.1,240.4 461.6,243.7 462.2,241.0 462.8,242.6 463.3,244.8 463.9,248.5 464.4,247.0 465.0,250.8 465.6,246.4 466.1,248.8 466.7,246.9 467.3,249.7 467.8,254.9 468.4,250.2 468.9,250.2 469.5,249.4 470.1,255.3 470.6,255.9 471.2,254.5 471.7,257.4 472.3,258.7 472.9,258.7 473.4,251.8 474.0,259.0 474.6,260.5 475.1,259.9 475.7,259.6 476.2,257.6 476.8,258.9 477.4,259.8 477.9,262.0 478.5,262.4 479.1,264.7 479.6,267.2 480.2,260.3 480.7,266.2 481.3,263.7 481.9,267.1 482.4,267.3 483.0,268.0 483.5,271.3 484.1,269.1 484.7,268.8 485.2,268.4 485.8,269.7 486.4,269.2 486.9,271.4 487.5,272.7 488.0,277.7 488.6,275.1 489.2,271.2 489.7,274.9 490.3,274.0 490.8,276.9 491.4,278.5 492.0,273.1 492.5,277.5 493.1,275.6 493.7,278.3 494.2,280.8 494.8,285.9 495.3,281.2 495.9,285.6 496.5,287.7 497.0,280.4 497.6,282.2 498.2,283.0 498.7,285.0 499.3,285.8 499.8,285.4 500.4,286.6 501.0,287.4 501.5,286.5 502.1,294.6 502.6,287.4 503.2,291.5 503.8,288.7 504.3,288.6 504.9,293.9 505.5,290.7 506.0,291.4 506.6,295.5 507.1,295.7 507.7,294.9 508.3,301.1 508.8,297.5 509.4,296.6 510.0,298.7 510.5,302.1 511.1,299.8 511.6,295.9 512.2,297.0 512.8,301.1 513.3,303.3 513.9,302.1 514.4,302.6 515.0,304.9 515.6,304.7 516.1,303.0 516.7,302.9 517.3,311.8 517.8,304.0 518.4,306.7 518.9,304.8 519.5,308.3 520.1,307.8 520.6,305.5 521.2,317.6 521.8,306.8 522.3,310.9 522.9,316.5 523.4,319.3 524.0,312.4 524.6,316.4 525.1,311.9 525.7,314.5 526.2,316.0 526.8,313.8 527.4,316.4 527.9,315.7 528.5,316.1 529.1,318.0 529.6,317.4 530.2,318.0 530.7,324.2 531.3,322.0 531.9,322.2 532.4,323.5 533.0,327.3 533.6,325.3 534.1,323.6 534.7,324.6 535.2,321.8 535.8,327.9 536.4,328.1 536.9,329.1 537.5,329.0 538.0,330.4 538.6,334.4 539.2,329.2 539.7,328.1 540.3,328.4 540.9,334.9 541.4,333.1 542.0,328.4 542.5,334.1 543.1,333.6 543.7,335.5 544.2,333.1 544.8,333.8 545.3,330.9 545.9,336.3 546.5,337.0 547.0,342.2 547.6,340.6 548.2,342.0 548.7,341.7 549.3,345.0 549.8,338.7 550.4,345.5 551.0,342.5 551.5,347.4 552.1,343.6 552.7,340.7 553.2,348.0 553.8,345.4 554.3,347.2 554.9,346.9 555.5,347.1 556.0,350.7 556.6,350.1 557.1,351.8 557.7,353.1 558.3,354.9 558.8,349.3 559.4,354.8 560.0,351.4 560.5,352.4 561.1,357.5 561.6,352.2 562.2,358.4 562.8,354.6 563.3,352.8 563.9,359.8 564.5,361.1 565.0,361.8 565.6,352.9 566.1,361.4 566.7,364.7 567.3,359.0 567.8,362.6 568.4,362.8 568.9,366.4 569.5,371.0 570.1,366.9 570.6,368.5 571.2,371.0 571.8,369.9 572.3,370.1 572.9,365.3 573.4,366.2 574.0,367.4 574.6,371.4 575.1,374.4 575.7,370.0 576.3,370.1 576.8,369.0 577.4,372.9 577.9,373.9 578.5,373.1 579.1,377.8 579.6,378.0 580.2,373.8 580.7,380.8 581.3,377.5 581.9,375.2 582.4,377.7 583.0,377.6 583.6,383.5 584.1,380.8 584.7,381.9 585.2,379.5 585.8,380.8 586.4,382.7 586.9,377.0 587.5,382.2 588.0,385.7 588.6,387.4 589.2,386.0 589.7,388.5 590.3,381.5 590.9,385.8 591.4,389.5 592.0,391.4 592.5,393.5 593.1,391.3 593.7,386.3 594.2,388.5 594.8,392.4 595.4,392.3 595.9,400.3 596.5,391.3 597.0,395.5 597.6,390.3 598.2,396.6 598.7,398.3 599.3,396.3 599.8,400.0 600.4,393.3 601.0,397.7 601.5,398.0 602.1,398.6 602.7,401.8 603.2,399.2 603.8,400.9 604.3,395.6 604.9,402.5 605.5,401.8 606.0,405.5 606.6,405.8 607.2,406.1 607.7,400.5 608.3,405.7 608.8,402.8 609.4,408.1 610.0,409.1 610.5,415.9 611.1,405.5 611.6,401.4 612.2,410.8 612.8,404.8 613.3,407.6 613.9,414.3 614.5,409.1 615.0,416.3 615.6,414.4 616.1,409.0 616.7,413.7 617.3,419.7 617.8,409.8 618.4,420.6 619.0,417.3 619.5,418.6 620.1,418.4 620.6,421.8 621.2,425.7 621.8,411.9 622.3,424.0 622.9,424.3 623.4,431.5 624.0,421.3 624.6,417.0 625.1,417.1 625.7,412.1 626.3,417.8 626.8,422.8 627.4,425.0 627.9,419.7 628.5,426.3 629.1,425.9 629.6,431.5 630.2,427.5 630.8,420.2 631.3,429.3 631.9,427.9 632.4,440.8 633.0,425.0 633.6,429.7 634.1,425.8 634.7,431.4 635.2,436.8 635.8,439.7 636.4,432.0 636.9,434.9 637.5,439.7 638.1,436.3 638.6,439.4 639.2,434.0 639.7,439.6 640.3,443.9 640.9,439.3 641.4,442.1 642.0,433.6 642.5,442.8 643.1,447.4 643.7,442.2 644.2,443.7 644.8,441.9 645.4,442.7 645.9,449.1 646.5,445.1 647.0,446.0 647.6,451.7 648.2,449.3 648.7,446.3 649.3,455.4 649.9,453.5 650.4,451.2 651.0,450.0 651.5,447.8 652.1,457.3 652.7,449.9 653.2,449.0 653.8,445.3 654.3,455.1 654.9,458.1 655.5,461.7 656.0,452.2 656.6,449.3 657.2,459.3 657.7,454.3 658.3,452.9 658.8,453.0 659.4,460.0 660.0,455.5 660.5,459.3 661.1,464.3 661.7,458.9 662.2,458.9 662.8,466.0 663.3,459.6 663.9,452.7 664.5,470.4 665.0,459.9 665.6,459.5 666.1,464.2 666.7,463.4 667.3,467.0 667.8,459.5 668.4,471.6 669.0,468.1 669.5,478.0 670.1,466.9 670.6,467.3 671.2,478.4 671.8,474.8 672.3,468.5 672.9,474.0 673.5,478.3 674.0,485.8 674.6,471.4 675.1,464.1 675.7,476.7 676.3,472.7 676.8,473.4 677.4,476.5 677.9,476.1 678.5,476.6 679.1,482.3 679.6,465.7 680.2,465.2 680.8,477.8 681.3,470.9 681.9,484.9 682.4,482.3 683.0,475.8 683.6,488.4 684.1,489.8 684.7,481.5 685.2,494.6 685.8,475.5 686.4,481.0 686.9,484.2 687.5,482.5 688.1,491.4 688.6,492.2 689.2,483.2 689.7,483.2 690.3,488.0 690.9,489.5 691.4,492.7 692.0,483.0 692.6,499.1 693.1,496.2 693.7,495.0 694.2,501.0 694.8,500.5 695.4,499.4 695.9,488.8 696.5,485.2 697.0,493.5 697.6,504.9 698.2,499.8 698.7,497.8 699.3,499.1 699.9,500.2 700.4,495.9 701.0,510.2 701.5,503.0 702.1,499.2 702.7,497.0 703.2,499.9 703.8,501.9 704.4,503.3 704.9,506.8 705.5,503.2 706.0,505.3 706.6,508.7 707.2,498.7 707.7,499.3 708.3,508.5 708.8,503.5 709.4,500.9 710.0,506.5 710.5,507.9 711.1,506.3 711.7,519.2 712.2,518.5 712.8,507.8 713.3,509.8 713.9,504.3 714.5,515.3 715.0,506.8 715.6,507.6 716.2,503.2 716.7,519.3 717.3,517.2 717.8,514.2 718.4,514.8 719.0,522.7 719.5,520.7 720.1,525.6 720.6,505.7 721.2,519.5 721.8,519.7 722.3,523.8 722.9,520.6 723.5,516.8 724.0,523.8 724.6,522.6 725.1,510.7 725.7,518.3 726.3,522.7 726.8,527.2 727.4,525.4 728.0,530.2 728.5,524.8 729.1,530.9 729.6,531.8 730.2,530.5 730.8,535.1 731.3,528.1 731.9,515.5 732.4,534.1 733.0,541.1 733.6,526.0 734.1,532.8 734.7,521.3 735.3,531.1 735.8,528.5 736.4,539.2 736.9,544.9 737.5,536.8 738.1,532.3 738.6,542.1 739.2,547.3 739.7,541.6 740.3,541.3 740.9,541.2 741.4,540.0 742.0,526.3 742.6,540.7 743.1,544.5 743.7,548.8 744.2,537.8 744.8,553.1 745.4,535.1 745.9,544.4 746.5,554.3 747.1,544.3 747.6,546.7 748.2,539.2 748.7,556.6 749.3,546.4 749.9,548.4 750.4,543.2 751.0,556.5 751.5,554.8 752.1,538.6 752.7,547.6 753.2,561.0 753.8,550.2 754.4,557.7 754.9,557.6 755.5,561.6 756.0,548.3 756.6,558.4 757.2,554.3 757.7,555.6 758.3,566.4 758.9,561.9 759.4,553.0 760.0,568.4 760.5,557.3 761.1,560.1 761.7,555.9 762.2,556.2 762.8,555.9 763.3,561.2 763.9,560.5 764.5,567.3 765.0,566.8 765.6,558.1 766.2,568.2 766.7,558.5 767.3,559.2 767.8,571.2 768.4,563.0 769.0,572.4 769.5,565.5 770.1,573.3 770.7,566.6 771.2,568.2 771.8,576.7 772.3,557.5 772.9,564.8 773.5,582.2 774.0,569.8 774.6,575.4 775.1,560.2 775.7,574.1 776.3,571.7 776.8,576.0 777.4,571.2 778.0,579.4 778.5,582.4 779.1,580.3 779.6,580.3 780.2,574.0 780.8,578.1 781.3,582.1 781.9,582.4 782.4,586.4 783.0,580.0 783.6,595.3 784.1,583.4 784.7,574.8 785.3,585.5 785.8,588.0 786.4,583.9 786.9,591.0 787.5,590.4 788.1,581.3 788.6,590.7 789.2,574.2 789.8,583.9 790.3,588.7 790.9,592.8 791.4,590.9 792.0,605.6 792.6,588.6 793.1,584.9 793.7,587.5 794.2,594.8 794.8,588.3 795.4,588.7 795.9,594.5 796.5,591.7 797.1,587.7 797.6,592.1 798.2,598.4 798.7,596.2 799.3,595.8 799.9,608.7 800.4,597.1 801.0,599.4 801.6,614.6 802.1,611.8 802.7,588.1 803.2,600.1 803.8,592.2 804.4,604.5 804.9,592.0 805.5,599.0 806.0,608.4 806.6,602.1 807.2,593.9 807.7,589.0 808.3,602.1 808.9,609.4 809.4,613.0 810.0,602.5 810.5,600.1 811.1,607.2 811.7,609.5 812.2,603.5 812.8,606.2 813.4,607.4 813.9,621.9 814.5,613.5 815.0,598.5 815.6,612.2 816.2,595.8 816.7,610.3 817.3,615.7 817.8,612.0 818.4,610.2 819.0,620.4 819.5,613.8 820.1,619.1 820.7,606.2 821.2,620.4 821.8,616.7 822.3,629.4 822.9,628.9 823.5,619.7 824.0,626.4 824.6,622.2 825.2,618.8 825.7,616.9 826.3,632.3 826.8,623.4 827.4,617.6 828.0,628.1 828.5,633.5 829.1,629.3 829.6,612.6 830.2,624.9 830.8,614.1 831.3,628.3 831.9,617.7 832.5,638.2 833.0,629.4 833.6,627.3 834.1,615.5 834.7,625.4 835.3,621.1 835.8,633.2 836.4,633.6 836.9,621.4 837.5,620.7 838.1,622.6 838.6,623.3 839.2,637.0 839.8,617.3 840.3,632.5 840.9,624.7 841.4,629.1 842.0,649.5 842.6,651.6 843.1,649.3 843.7,637.2 844.3,628.7 844.8,639.8 845.4,631.8 845.9,648.8 846.5,644.3 847.1,647.1 847.6,640.1 848.2,650.2 848.7,642.1 849.3,637.1 849.9,646.0 850.4,650.1 851.0,647.0 851.6,653.8 852.1,652.8 852.7,638.4 853.2,642.6 853.8,657.8 854.4,648.6 854.9,643.1 855.5,640.9 856.1,642.6 856.6,640.4 857.2,649.1 857.7,649.4 858.3,651.7 858.9,641.4 859.4,643.8 860.0,637.1 860.5,642.7 861.1,659.0 861.7,665.2 862.2,665.0 862.8,661.2 863.4,649.1 863.9,666.7 864.5,672.8 865.0,657.2 865.6,649.6 866.2,650.3 866.7,643.7 867.3,658.0 867.9,663.0 868.4,661.4 869.0,670.9 869.5,665.6 870.1,649.7 870.7,643.8 871.2,650.8 871.8,659.3 872.3,664.4 872.9,660.8 873.5,680.2 874.0,659.0 874.6,657.8 875.2,666.0 875.7,665.2 876.3,681.0 876.8,659.7 877.4,660.2 878.0,692.8 878.5,673.0 879.1,665.4 879.7,654.9 880.2,677.0 880.8,670.2 881.3,657.9 881.9,666.7 882.5,673.2 883.0,675.6 883.6,671.9 884.1,679.7 884.7,664.4 885.3,681.3 885.8,669.0 886.4,666.3 887.0,664.4 887.5,674.1 888.1,675.3 888.6,672.9 889.2,675.5 889.8,667.1 890.3,678.0 890.9,661.0 891.4,654.5 892.0,684.2 892.6,675.3 893.1,690.0 893.7,673.2 894.3,676.6 894.8,682.7 895.4,690.9 895.9,681.5 896.5,664.9 897.1,668.7 897.6,679.8 898.2,689.4 898.8,684.4 899.3,692.1 899.9,697.9 900.4,694.6 901.0,680.7 901.6,683.9 902.1,685.6 902.7,698.1 903.2,701.6 903.8,679.6 904.4,692.5 904.9,679.0 905.5,697.1 906.1,681.8 906.6,688.9 907.2,695.6 907.7,696.1 908.3,675.4 908.9,684.5 909.4,695.9 910.0,692.4 910.6,709.5 911.1,679.4 911.7,682.7 912.2,699.7 912.8,692.0 913.4,724.6 913.9,688.3 914.5,693.3 915.0,695.8 915.6,691.0 916.2,696.4 916.7,709.2 917.3,707.0 917.9,702.5 918.4,692.9 919.0,701.5 919.5,708.8 920.1,699.4 920.7,715.4 921.2,684.7 921.8,701.3 922.4,714.4 922.9,703.6 923.5,695.5 924.0,701.0 924.6,687.8 925.2,721.3 925.7,692.7 926.3,708.3 926.8,700.1 927.4,693.0 928.0,721.5 928.5,724.2 929.1,714.2 929.7,727.8 930.2,732.1 930.8,711.0 931.3,701.2 931.9,717.5 932.5,708.4 933.0,680.4 933.6,710.9 934.1,717.7 934.7,716.7 935.3,711.4 935.8,718.9 936.4,709.8 937.0,714.8 937.5,708.5 938.1,716.4 938.6,719.2 939.2,728.3 939.8,733.6 940.3,722.7 940.9,724.2 941.5,717.9 942.0,722.0 942.6,725.6 943.1,700.7 943.7,719.5 944.3,711.2 944.8,734.2 945.4,714.1 945.9,713.0 946.5,720.5 947.1,734.6 947.6,713.6 948.2,733.9 948.8,743.3 949.3,744.5 949.9,727.2 950.4,733.4 951.0,720.8 951.6,722.6 952.1,716.3 952.7,726.8 953.3,729.6 953.8,731.1 954.4,739.9 954.9,740.8 955.5,740.3 956.1,730.8 956.6,742.5 957.2,735.0 957.7,723.8 958.3,761.3 958.9,744.8 959.4,746.6 960.0,736.7 960.6,753.1 961.1,744.7 961.7,715.7 962.2,753.3 962.8,740.0 963.4,737.4 963.9,743.2 964.5,753.5 965.1,730.9 965.6,762.6 966.2,752.4 966.7,745.0 967.3,749.8 967.9,731.7 968.4,747.5 969.0,725.6 969.5,745.4 970.1,730.2 970.7,741.9 971.2,749.5 971.8,750.4 972.4,737.3 972.9,754.2 973.5,749.3 974.0,758.0 974.6,772.8 975.2,744.7 975.7,744.2 976.3,764.6 976.9,746.8 977.4,754.9 978.0,774.2 978.5,763.5 979.1,746.7 979.7,743.3 980.2,750.4 980.8,727.1 981.3,751.7 981.9,764.1 982.5,772.9 983.0,741.4 983.6,762.4 984.2,761.8 984.7,767.2 985.3,767.6 985.8,763.0 986.4,754.5 987.0,754.1 987.5,756.6 988.1,750.7 988.6,766.5 989.2,773.0 989.8,762.6 990.3,786.2 990.9,753.9 991.5,757.9 992.0,758.1 992.6,776.4 993.1,770.2 993.7,765.0 994.3,777.0 994.8,778.4 995.4,768.9 996.0,765.5 996.5,775.0 997.1,757.1 997.6,745.6 998.2,762.7 998.8,771.5 999.3,773.5 999.9,753.4 1000.4,767.5 1001.0,764.7 1001.6,769.3 1002.1,778.6 1002.7,756.7 1003.3,775.9 1003.8,772.0 1004.4,799.4 1004.9,752.0 1005.5,766.9 1006.1,776.7 1006.6,785.1 1007.2,783.5 1007.8,797.0 1008.3,772.4 1008.9,788.0 1009.4,773.8 1010.0,774.0 1010.6,759.0 1011.1,777.5 1011.7,777.0 1012.2,775.2 1012.8,788.3 1013.4,784.4 1013.9,778.5 1014.5,769.9 1015.1,774.8 1015.6,786.4 1016.2,770.6 1016.7,788.6 1017.3,802.6 1017.9,768.2 1018.4,785.3 1019.0,791.2 1019.6,800.5 1020.1,791.8 1020.7,769.1 1021.2,788.4 1021.8,764.5 1022.4,788.3 1022.9,776.7 1023.5,789.2 1024.0,795.3 1024.6,795.5 1025.2,794.1 1025.7,805.8 1026.3,806.6 1026.9,788.5 1027.4,779.3 1028.0,791.7 1028.5,793.4 1029.1,805.2 1029.7,782.4 1030.2,783.8 1030.8,809.7 1031.3,795.6 1031.9,800.8 1032.5,815.3 1033.0,780.2 1033.6,785.2 1034.2,795.3 1034.7,783.7 1035.3,805.9 1035.8,797.2 1036.4,785.9 1037.0,804.8 1037.5,798.4 1038.1,813.9 1038.7,795.5 1039.2,790.4 1039.8,815.7 1040.3,813.9 1040.9,805.9 1041.5,789.9 1042.0,812.2 1042.6,816.7 1043.1,808.5 1043.7,794.9 1044.3,827.0 1044.8,810.8 1045.4,794.6 1046.0,810.3 1046.5,813.8 1047.1,801.2 1047.6,826.2 1048.2,789.2 1048.8,807.0 1049.3,817.7 1049.9,812.7 1050.5,815.0 1051.0,818.2 1051.6,830.3 1052.1,818.8 1052.7,837.9 1053.3,801.2 1053.8,831.3 1054.4,826.9 1054.9,828.2 1055.5,810.7 1056.1,822.0 1056.6,803.7 1057.2,826.2 1057.8,819.4 1058.3,822.5 1058.9,826.3 1059.4,809.7 1060.0,809.0 1060.6,808.5 1061.1,841.5 1061.7,820.6 1062.3,839.2 1062.8,840.1 1063.4,849.2 1063.9,838.5 1064.5,820.1 1065.1,811.6 1065.6,808.2 1066.2,840.1 1066.7,837.0 1067.3,826.9 1067.9,828.5 1068.4,828.1 1069.0,854.0 1069.6,834.1 1070.1,825.3 1070.7,829.6 1071.2,834.8 1071.8,843.0 1072.4,835.5 1072.9,816.0 1073.5,829.2 1074.1,823.2 1074.6,816.7 1075.2,850.9 1075.7,829.2 1076.3,832.2 1076.9,822.5 1077.4,842.0 1078.0,842.2 1078.5,848.4 1079.1,838.3 1079.7,844.7 1080.2,843.6 1080.8,838.0 1081.4,847.6 1081.9,855.3 1082.5,849.0 1083.0,851.4 1083.6,839.4 1084.2,830.0 1084.7,850.2 1085.3,880.3 1085.8,839.5 1086.4,848.2 1087.0,860.3 1087.5,851.6 1088.1,826.3 1088.7,869.6 1089.2,865.5 1089.8,851.3 1090.3,896.0 1090.9,857.6 1091.5,839.7 1092.0,845.6 1092.6,848.2 1093.2,858.0 1093.7,856.2 1094.3,821.5 1094.8,852.0 1095.4,838.6 1096.0,873.3 1096.5,853.3 1097.1,852.3 1097.6,855.5 1098.2,889.0 1098.8,864.2 1099.3,840.6 1099.9,852.4 1100.5,870.7 1101.0,849.3 1101.6,887.8 1102.1,854.0 1102.7,857.5 1103.3,871.0 1103.8,877.3 1104.4,887.3 1105.0,867.2 1105.5,842.6 1106.1,853.9 1106.6,860.2 1107.2,854.1 1107.8,874.9 1108.3,860.2 1108.9,911.7 1109.4,875.0 1110.0,875.4 1110.6,870.2 1111.1,872.2 1111.7,862.5 1112.3,879.6 1112.8,859.1 1113.4,875.4 1113.9,860.8 1114.5,871.4 1115.1,862.1 1115.6,867.8 1116.2,883.1 1116.8,872.5 1117.3,894.5 1117.9,875.4 1118.4,871.4 1119.0,881.0 1119.6,880.0 1120.1,864.9 1120.7,862.5 1121.2,860.3 1121.8,887.8 1122.4,886.3 1122.9,869.9 1123.5,869.1 1124.1,909.1 1124.6,856.1 1125.2,867.0 1125.7,901.6 1126.3,868.0 1126.9,890.1 1127.4,886.3 1128.0,899.5 1128.5,897.5 1129.1,891.6 1129.7,885.3 1130.2,903.5 1130.8,888.5 1131.4,898.4 1131.9,896.2 1132.5,902.1 1133.0,898.7 1133.6,868.2 1134.2,915.2 1134.7,910.9 1135.3,892.5 1135.9,899.4 1136.4,908.3 1137.0,887.3 1137.5,911.3 1138.1,894.2 1138.7,881.3 1139.2,887.1 1139.8,899.9 1140.3,896.1 1140.9,894.2 1141.5,888.6 1142.0,912.2 1142.6,880.4 1143.2,887.9 1143.7,873.5 1144.3,887.7 1144.8,885.6 1145.4,949.7 1146.0,907.9 1146.5,875.9 1147.1,896.6 1147.7,909.6 1148.2,893.2 1148.8,902.4 1149.3,898.4 1149.9,915.8 1150.5,897.5 1151.0,884.3 1151.6,902.7 1152.1,900.2 1152.7,918.0 1153.3,900.6 1153.8,914.5 1154.4,930.4 1155.0,915.7 1155.5,913.4 1156.1,902.1 1156.6,896.9 1157.2,914.4 1157.8,917.4 1158.3,902.9 1158.9,927.1 1159.5,918.6 1160.0,917.6 1160.6,917.0 1161.1,924.3 1161.7,891.9 1162.3,901.7 1162.8,919.0 1163.4,940.2 1163.9,925.3 1164.5,908.9 1165.1,950.9 1165.6,883.7 1166.2,920.5 1166.8,920.6 1167.3,910.6 1167.9,944.2 1168.4,920.2 1169.0,921.8 1169.6,911.4 1170.1,939.0 1170.7,913.6 1171.3,905.8 1171.8,919.5 1172.4,933.2 1172.9,938.8 1173.5,955.5 1174.1,935.2 1174.6,918.7 1175.2,904.6 1175.7,911.7 1176.3,909.8 1176.9,936.0 1177.4,935.8 1178.0,955.2 1178.6,940.8 1179.1,949.1 1179.7,934.8 1180.2,920.8 1180.8,933.6 1181.4,937.6 1181.9,922.0 1182.5,910.4 1183.0,917.1 1183.6,963.3 1184.2,908.5 1184.7,942.3 1185.3,960.2 1185.9,941.9 1186.4,921.1 1187.0,985.2 1187.5,917.4 1188.1,934.5 1188.7,929.6 1189.2,962.4 1189.8,948.6 1190.4,959.2 1190.9,922.1 1191.5,953.9 1192.0,935.4 1192.6,952.9 1193.2,971.5 1193.7,928.9 1194.3,924.7 1194.8,920.4 1195.4,953.7 1196.0,944.0 1196.5,934.1 1197.1,940.3 1197.7,942.7 1198.2,911.1 1198.8,954.3 1199.3,933.4 1199.9,957.3 1200.5,926.1 1201.0,953.6 1201.6,967.0 1202.2,937.7 1202.7,949.7 1203.3,957.7 1203.8,955.4 1204.4,962.9 1205.0,943.8 1205.5,947.4 1206.1,926.6 1206.6,966.1 1207.2,931.1 1207.8,945.5 1208.3,981.6 1208.9,931.3 1209.5,990.0 1210.0,948.1 1210.6,992.9 1211.1,953.0 1211.7,964.8 1212.3,963.5 1212.8,996.2 1213.4,973.6 1214.0,940.0 1214.5,949.5 1215.1,961.9 1215.6,963.5 1216.2,973.5 1216.8,937.5 1217.3,962.9 1217.9,944.0 1218.4,991.9 1219.0,993.7 1219.6,940.7 1220.1,981.0 1220.7,968.4 1221.3,956.7 1221.8,949.5 1222.4,954.8 1222.9,956.6 1223.5,939.1 1224.1,962.7 1224.6,951.8 1225.2,967.5 1225.7,965.8 1226.3,936.8 1226.9,974.5 1227.4,1024.0 1228.0,969.3 1228.6,967.7 1229.1,940.0 1229.7,979.4 1230.2,995.8 1230.8,970.9 1231.4,941.5 1231.9,981.0 1232.5,952.0 1233.1,966.0 1233.6,963.9 1234.2,993.2 1234.7,975.7 1235.3,993.9 1235.9,978.1 1236.4,992.8 1237.0,959.0 1237.5,990.6 1238.1,985.2 1238.7,1030.4 1239.2,1002.1 1239.8,939.2 1240.4,990.9 1240.9,1018.2 1241.5,984.4 1242.0,989.3 1242.6,995.5 1243.2,991.7 1243.7,995.9 1244.3,968.8 1244.9,1012.9 1245.4,983.4 1246.0,971.9 1246.5,1007.6 1247.1,947.8 1247.7,988.5 1248.2,992.2 1248.8,1002.3 1249.3,975.7 1249.9,1027.2 1250.5,980.5 1251.0,951.6 1251.6,985.9 1252.2,976.7 1252.7,1013.4 1253.3,978.4 1253.8,1010.9 1254.4,1004.1 1255.0,995.1 1255.5,959.3 1256.1,1008.6 1256.7,1041.5 1257.2,994.1 1257.8,981.6 1258.3,984.2 1258.9,993.3 1259.5,971.5 1260.0,980.9 1260.6,982.2 1261.1,1008.7 1261.7,1033.4 1262.3,968.8 1262.8,1020.1 1263.4,975.7 1264.0,978.1 1264.5,1028.6 1265.1,1016.8 1265.6,994.2 1266.2,983.7 1266.8,1025.5 1267.3,1010.7 1267.9,1028.3 1268.5,1033.4 1269.0,1003.9 1269.6,1017.0 1270.1,1056.5 1270.7,998.9 1271.3,1016.7 1271.8,1017.4 1272.4,1040.5 1272.9,994.5 1273.5,1003.6 1274.1,1004.2 1274.6,1012.6 1275.2,1003.9 1275.8,979.8 1276.3,1008.6 1276.9,1007.9 1277.4,1023.8 1278.0,999.9 1278.6,1019.9 1279.1,1031.8 1279.7,991.6 1280.2,1019.7 1280.8,1036.9 1281.4,1033.5 1281.9,1029.6 1282.5,1043.8 1283.1,988.1 1283.6,1005.9 1284.2,1052.8 1284.7,994.8 1285.3,1028.9 1285.9,1014.9 1286.4,1030.2 1287.0,1012.4 1287.6,1013.7 1288.1,1006.0 1288.7,1005.1 1289.2,1062.6 1289.8,1036.6 1290.4,1026.1 1290.9,1031.1 1291.5,1062.6 1292.0,1036.6 1292.6,1032.8 1293.2,1062.6 1293.7,1051.2 1294.3,1013.9 1294.9,1049.5 1295.4,1036.0 1296.0,1032.2 1296.5,1021.1 1297.1,1016.5 1297.7,1009.9 1298.2,1031.0 1298.8,1029.4 1299.4,1037.8 1299.9,1030.1 1300.5,1038.0 1301.0,1018.4 1301.6,1019.8 1302.2,1062.6 1302.7,1062.6 1303.3,1027.3 1303.8,1051.0 1304.4,1062.6 1305.0,1017.1 1305.5,1005.9 1306.1,1062.6 1306.7,1062.6 1307.2,1058.4 1307.8,1062.2 1308.3,1045.2 1308.9,1062.6 1309.5,1043.8 1310.0,1053.9 1310.6,1020.1 1311.2,1047.4 1311.7,1024.5 1312.3,1011.7 1312.8,1033.8 1313.4,1031.3 1314.0,1059.8 1314.5,1047.6 1315.1,998.0 1315.6,1017.0 1316.2,1048.3 1316.8,1060.0 1317.3,1054.2 1317.9,1025.0 1318.5,1062.6 1319.0,1045.6 1319.6,1062.6 1320.1,1019.6 1320.7,1062.6 1321.3,1031.7 1321.8,1061.8 1322.4,1054.3 1322.9,1016.8 1323.5,1055.9 1324.1,1039.3 1324.6,1046.9 1325.2,1062.6 1325.8,1058.6 1326.3,1034.2 1326.9,1049.6 1327.4,1053.8 1328.0,1062.6 1328.6,1023.0 1329.1,1062.6 1329.7,1018.5 1330.3,1056.2 1330.8,1043.9 1331.4,1062.6 1331.9,1059.5 1332.5,1062.6 1333.1,1061.1 1333.6,1034.3 1334.2,1055.0 1334.7,1058.1 1335.3,1040.9 1335.9,1062.6 1336.4,1062.6 1337.0,1062.6 1337.6,1039.4 1338.1,1062.6 1338.7,1028.5 1339.2,1019.8 1339.8,1062.6 1340.4,1062.6 1340.9,1062.6 1341.5,1038.9 1342.1,1062.6 1342.6,1054.2 1343.2,1062.6 1343.7,1062.6 1344.3,1062.6 1344.9,1044.2 1345.4,1062.6 1346.0,1062.6 1346.5,1038.4 1347.1,1062.6 1347.7,1062.6 1348.2,1062.6 1348.8,1062.6 1349.4,1062.6 1349.9,1062.6 1350.5,1062.6 1351.0,1062.6 1351.6,1062.6 1352.2,1062.6 1352.7,1057.9 1353.3,1062.6 1353.9,1030.7 1354.4,1051.4 1355.0,1062.6 1355.5,1062.6 1356.1,1062.6 1356.7,1050.9 1357.2,1062.6 1357.8,1046.7 1358.3,1062.6 1358.9,1062.6 1359.5,1062.4 1360.0,1042.2 1360.6,1062.6 1361.2,1037.1 1361.7,1062.6 1362.3,1062.6 1362.8,1062.6 1363.4,1052.0 1364.0,1062.6 1364.5,1046.7 1365.1,1062.6 1365.7,1041.7 1366.2,1062.6 1366.8,1033.9 1367.3,1062.6 1367.9,1062.6 1368.5,1062.6 1369.0,1062.6 1369.6,1062.6 1370.1,1062.6 1370.7,1062.6 1371.3,1062.6 1371.8,1062.6 1372.4,1062.5 1373.0,1062.6 1373.5,1062.6 1374.1,1062.6 1374.6,1062.6 1375.2,1062.6 1375.8,1062.6 1376.3,1062.6 1376.9,1062.6 1377.4,1062.6 1378.0,1062.6 1378.6,1062.6 1379.1,1062.6 1379.7,1062.6 1380.3,1062.6 1380.8,1062.6 1381.4,1062.6 1381.9,1062.6 1382.5,1062.6 1383.1,1062.6 1383.6,1062.6 1384.2,1062.6 1384.8,1062.6 1385.3,1062.6 1385.9,1062.6 1386.4,1062.6 1387.0,1062.6 1387.6,1062.6 1388.1,1062.6 1388.7,1062.6 1389.2,1062.6 1389.8,1062.6 1390.4,1062.6 1390.9,1062.6 1391.5,1062.6 1392.1,1062.6 1392.6,1062.6 1393.2,1062.6 1393.7,1062.6 1394.3,1062.6 1394.9,1060.9 1395.4,1062.6 1396.0,1062.6 1396.6,1062.6 1397.1,1062.6 1397.7,1062.0 1398.2,1062.6 1398.8,1062.6 1399.4,1062.6 1399.9,1062.6 1400.5,1062.6 1401.0,1062.6 1401.6,1062.6 1402.2,1062.6 1402.7,1062.6 1403.3,1062.6 1403.9,1062.6 1404.4,1062.6 1405.0,1062.6 1405.5,1062.6 1406.1,1062.6 1406.7,1062.6 1407.2,1062.6 1407.8,1062.6 1408.4,1062.6 1408.9,1062.6 1409.5,1062.6 1410.0,1062.6 1410.6,1062.6 1411.2,1062.6 1411.7,1062.6 1412.3,1062.6 1412.8,1062.6 1413.4,1062.6 1414.0,1062.6 1414.5,1062.6 1415.1,1062.6 1415.7,1062.6 1416.2,1062.6 1416.8,1062.6 1417.3,1062.6 1417.9,1062.6 1418.5,1062.6 1419.0,1062.6 1419.6,1062.6 1420.1,1062.6 1420.7,1062.6 1421.3,1062.6 1421.8,1062.6 1422.4,1062.6 1423.0,1062.6 1423.5,1062.6 1424.1,1062.6 1424.6,1062.6 1425.2,1062.6 1425.8,1062.6 1426.3,1062.6 1426.9,1062.6 1427.5,1062.6 1428.0,1062.6 1428.6,1062.6 1429.1,1062.6 1429.7,1062.6 1430.3,1062.6 1430.8,1062.6 1431.4,1062.6 1431.9,1062.6 1432.5,1062.6 1433.1,1062.6 1433.6,1062.6 1434.2,1062.6" stroke="#ff0000"/>
<polyline points="318.9,75.3 319.5,82.0 320.0,76.8 320.6,78.9 321.2,77.8 321.7,79.9 322.3,78.5 322.9,81.9 323.4,83.4 324.0,82.5 324.5,83.5 325.1,85.4 325.7,85.9 326.2,85.2 326.8,86.0 327.4,88.5 327.9,89.1 328.5,92.0 329.0,87.5 329.6,91.1 330.2,89.4 330.7,91.5 331.3,90.0 331.8,91.3 332.4,93.9 333.0,92.9 333.5,97.3 334.1,94.7 334.7,99.6 335.2,97.5 335.8,97.1 336.3,99.2 336.9,100.8 337.5,102.2 338.0,102.3 338.6,100.8 339.2,101.8 339.7,104.3 340.3,106.6 340.8,104.3 341.4,108.4 342.0,107.7 342.5,108.8 343.1,107.2 343.6,108.7 344.2,109.1 344.8,110.1 345.3,112.4 345.9,111.1 346.5,110.5 347.0,113.5 347.6,113.2 348.1,115.1 348.7,114.0 349.3,115.3 349.8,115.7 350.4,117.3 350.9,115.9 351.5,119.9 352.1,120.6 352.6,121.8 353.2,120.5 353.8,123.3 354.3,124.1 354.9,122.5 355.4,122.6 356.0,124.3 356.6,130.5 357.1,128.3 357.7,129.2 358.3,130.2 358.8,129.6 359.4,126.6 359.9,130.9 360.5,132.3 361.1,130.6 361.6,132.4 362.2,133.1 362.7,135.2 363.3,134.8 363.9,134.7 364.4,139.5 365.0,139.7 365.6,135.8 366.1,137.0 366.7,140.0 367.2,141.7 367.8,140.9 368.4,143.4 368.9,142.7 369.5,140.0 370.1,143.3 370.6,142.3 371.2,145.4 371.7,145.1 372.3,144.1 372.9,149.6 373.4,148.6 374.0,149.0 374.5,148.9 375.1,147.4 375.7,149.7 376.2,154.3 376.8,152.8 377.4,154.7 377.9,155.5 378.5,151.0 379.0,157.2 379.6,155.6 380.2,158.1 380.7,156.0 381.3,157.6 381.9,158.7 382.4,159.8 383.0,158.4 383.5,162.9 384.1,163.2 384.7,164.7 385.2,160.9 385.8,164.6 386.3,166.8 386.9,166.3 387.5,161.8 388.0,167.2 388.6,166.2 389.2,167.6 389.7,169.2 390.3,171.1 390.8,171.1 391.4,171.9 392.0,176.1 392.5,167.8 393.1,171.6 393.6,173.8 394.2,175.1 394.8,176.9 395.3,174.3 395.9,177.1 396.5,176.6 397.0,180.8 397.6,178.2 398.1,175.8 398.7,180.8 399.3,179.5 399.8,181.6 400.4,180.3 401.0,181.0 401.5,183.6 402.1,185.5 402.6,184.6 403.2,185.8 403.8,187.7 404.3,186.4 404.9,187.1 405.4,190.4 406.0,189.6 406.6,184.4 407.1,189.1 407.7,191.2 408.3,187.3 408.8,193.7 409.4,198.4 409.9,198.0 410.5,197.9 411.1,195.1 411.6,194.4 412.2,201.3 412.8,195.5 413.3,200.8 413.9,198.6 414.4,198.9 415.0,199.6 415.6,201.2 416.1,201.5 416.7,204.9 417.2,202.7 417.8,202.0 418.4,202.8 418.9,200.2 419.5,203.9 420.1,205.3 420.6,204.1 421.2,207.7 421.7,211.5 422.3,214.2 422.9,207.6 423.4,209.8 424.0,209.9 424.6,213.0 425.1,212.3 425.7,209.8 426.2,213.7 426.8,217.5 427.4,216.7 427.9,213.6 428.5,219.5 429.0,223.5 429.6,223.6 430.2,222.2 430.7,218.3 431.3,220.5 431.9,223.0 432.4,224.9 433.0,223.0 433.5,223.8 434.1,225.4 434.7,225.4 435.2,227.2 435.8,222.3 436.4,232.3 436.9,227.4 437.5,230.6 438.0,227.5 438.6,230.3 439.2,229.6 439.7,229.9 440.3,231.4 440.8,230.3 441.4,236.4 442.0,231.8 442.5,235.1 443.1,234.4 443.7,232.5 444.2,234.1 444.8,232.9 445.3,243.4 445.9,241.0 446.5,237.3 447.0,242.8 447.6,241.3 448.1,237.6 448.7,240.2 449.3,245.3 449.8,242.6 450.4,242.9 451.0,244.9 451.5,246.0 452.1,246.1 452.6,250.8 453.2,247.6 453.8,250.9 454.3,248.3 454.9,248.9 455.5,252.8 456.0,249.9 456.6,251.2 457.1,252.8 457.7,251.7 458.3,254.9 458.8,255.5 459.4,255.2 459.9,256.2 460.5,253.8 461.1,263.3 461.6,258.7 462.2,263.6 462.8,260.5 463.3,259.2 463.9,260.5 464.4,258.7 465.0,261.0 465.6,269.5 466.1,265.9 466.7,259.8 467.3,260.4 467.8,264.7 468.4,269.6 468.9,260.7 469.5,272.3 470.1,266.7 470.6,268.3 471.2,268.1 471.7,272.5 472.3,271.1 472.9,267.9 473.4,272.6 474.0,275.6 474.6,272.6 475.1,273.0 475.7,274.2 476.2,276.6 476.8,273.7 477.4,276.1 477.9,279.6 478.5,276.4 479.1,277.7 479.6,277.9 480.2,283.6 480.7,281.6 481.3,278.9 481.9,278.3 482.4,280.5 483.0,281.6 483.5,280.7 484.1,280.6 484.7,279.1 485.2,283.2 485.8,286.7 486.4,284.4 486.9,291.8 487.5,286.8 488.0,288.8 488.6,288.3 489.2,287.5 489.7,289.3 490.3,294.2 490.8,291.7 491.4,293.6 492.0,292.0 492.5,291.6 493.1,295.9 493.7,291.8 494.2,290.8 494.8,295.8 495.3,293.6 495.9,300.6 496.5,298.5 497.0,294.9 497.6,303.3 498.2,300.3 498.7,302.1 499.3,296.8 499.8,297.5 500.4,303.2 501.0,301.6 501.5,310.4 502.1,300.8 502.6,302.9 503.2,300.7 503.8,312.2 504.3,304.8 504.9,307.4 505.5,314.9 506.0,309.7 506.6,308.5 507.1,306.6 507.7,309.0 508.3,311.7 508.8,309.5 509.4,311.8 510.0,314.0 510.5,315.8 511.1,312.9 511.6,313.5 512.2,309.1 512.8,316.6 513.3,311.1 513.9,315.4 514.4,313.6 515.0,320.5 515.6,321.0 516.1,319.9 516.7,316.9 517.3,319.7 517.8,318.6 518.4,320.5 518.9,319.0 519.5,322.2 520.1,325.0 520.6,322.4 521.2,324.4 521.8,319.9 522.3,326.4 522.9,326.2 523.4,328.1 524.0,324.2 524.6,325.7 525.1,327.0 525.7,333.6 526.2,335.2 526.8,330.1 527.4,329.3 527.9,327.6 528.5,338.6 529.1,334.0 529.6,339.5 530.2,337.8 530.7,336.0 531.3,332.8 531.9,338.2 532.4,339.4 533.0,338.8 533.6,334.3 534.1,331.3 534.7,344.6 535.2,341.1 535.8,342.2 536.4,337.6 536.9,340.6 537.5,337.6 538.0,346.6 538.6,343.8 539.2,345.9 539.7,348.7 540.3,346.2 540.9,350.2 541.4,339.8 542.0,346.1 542.5,351.5 543.1,350.7 543.7,343.6 544.2,351.6 544.8,348.2 545.3,349.2 545.9,348.1 546.5,350.2 547.0,353.7 547.6,355.7 548.2,360.5 548.7,355.0 549.3,355.0 549.8,357.3 550.4,357.2 551.0,361.6 551.5,350.3 552.1,360.3 552.7,362.8 553.2,361.9 553.8,360.9 554.3,358.3 554.9,370.5 555.5,360.3 556.0,365.0 556.6,364.0 557.1,360.3 557.7,361.8 558.3,367.7 558.8,366.2 559.4,359.6 560.0,362.0 560.5,364.4 561.1,368.2 561.6,365.3 562.2,368.0 562.8,372.2 563.3,374.6 563.9,369.3 564.5,370.4 565.0,367.9 565.6,375.0 566.1,368.3 566.7,375.8 567.3,370.1 567.8,373.4 568.4,378.5 568.9,380.6 569.5,377.9 570.1,379.1 570.6,374.9 571.2,382.1 571.8,385.9 572.3,380.6 572.9,373.4 573.4,375.1 574.0,384.9 574.6,384.0 575.1,382.2 575.7,386.9 576.3,385.8 576.8,386.5 577.4,390.4 577.9,389.2 578.5,389.2 579.1,386.8 579.6,393.5 580.2,388.6 580.7,393.9 581.3,393.7 581.9,395.7 582.4,374.9 583.0,386.7 583.6,386.9 584.1,389.8 584.7,394.9 585.2,394.2 585.8,393.9 586.4,393.8 586.9,393.8 587.5,390.3 588.0,411.2 588.6,400.7 589.2,395.8 589.7,401.0 590.3,400.7 590.9,394.0 591.4,400.4 592.0,393.9 592.5,402.7 593.1,402.0 593.7,408.6 594.2,413.7 594.8,406.9 595.4,405.2 595.9,407.8 596.5,413.1 597.0,404.3 597.6,407.6 598.2,408.5 598.7,412.9 599.3,402.2 599.8,403.5 600.4,409.5 601.0,412.2 601.5,411.0 602.1,404.8 602.7,400.3 603.2,413.9 603.8,416.7 604.3,424.2 604.9,402.6 605.5,421.9 606.0,412.8 606.6,415.2 607.2,411.7 607.7,423.1 608.3,427.6 608.8,419.3 609.4,418.6 610.0,415.5 610.5,430.4 611.1,424.7 611.6,424.3 612.2,430.5 612.8,425.0 613.3,420.8 613.9,425.6 614.5,433.5 615.0,424.8 615.6,422.8 616.1,425.1 616.7,424.4 617.3,437.7 617.8,427.2 618.4,427.1 619.0,432.8 619.5,431.7 620.1,436.1 620.6,426.2 621.2,434.8 621.8,438.8 622.3,433.4 622.9,434.4 623.4,432.1 624.0,440.7 624.6,440.4 625.1,435.3 625.7,426.3 626.3,436.1 626.8,446.7 627.4,438.9 627.9,444.7 628.5,451.3 629.1,445.3 629.6,445.4 630.2,440.5 630.8,436.3 631.3,437.8 631.9,440.2 632.4,447.6 633.0,444.9 633.6,446.6 634.1,439.3 634.7,451.3 635.2,451.3 635.8,440.5 636.4,446.2 636.9,452.5 637.5,449.6 638.1,450.3 638.6,450.7 639.2,447.9 639.7,450.9 640.3,454.6 640.9,457.1 641.4,465.0 642.0,457.9 642.5,449.5 643.1,455.3 643.7,461.0 644.2,459.2 644.8,463.4 645.4,457.3 645.9,448.1 646.5,449.8 647.0,453.8 647.6,456.8 648.2,463.3 648.7,470.0 649.3,463.1 649.9,466.4 650.4,459.4 651.0,464.0 651.5,469.0 652.1,463.4 652.7,449.8 653.2,472.9 653.8,461.2 654.3,464.9 654.9,469.7 655.5,474.4 656.0,470.2 656.6,469.6 657.2,466.8 657.7,467.8 658.3,470.7 658.8,477.5 659.4,472.0 660.0,477.4 660.5,481.7 661.1,470.2 661.7,480.5 662.2,484.5 662.8,477.0 663.3,490.5 663.9,479.1 664.5,476.5 665.0,482.6 665.6,479.0 666.1,468.0 666.7,472.9 667.3,476.5 667.8,479.2 668.4,486.8 669.0,485.0 669.5,486.5 670.1,485.1 670.6,485.1 671.2,491.6 671.8,476.9 672.3,494.3 672.9,485.8 673.5,482.2 674.0,489.5 674.6,494.2 675.1,490.2 675.7,478.8 676.3,487.5 676.8,494.0 677.4,488.9 677.9,494.5 678.5,506.4 679.1,492.8 679.6,488.3 680.2,488.1 680.8,496.5 681.3,506.1 681.9,489.5 682.4,498.8 683.0,493.5 683.6,491.6 684.1,497.3 684.7,500.5 685.2,504.8 685.8,504.1 686.4,501.6 686.9,505.4 687.5,500.5 688.1,516.9 688.6,510.9 689.2,504.8 689.7,509.9 690.3,509.4 690.9,514.1 691.4,502.4 692.0,496.8 692.6,515.0 693.1,501.0 693.7,519.3 694.2,508.8 694.8,524.4 695.4,507.6 695.9,511.3 696.5,511.1 697.0,504.5 697.6,509.2 698.2,514.0 698.7,520.0 699.3,514.6 699.9,520.3 700.4,519.0 701.0,506.7 701.5,511.3 702.1,515.8 702.7,514.1 703.2,529.2 703.8,518.8 704.4,532.2 704.9,525.3 705.5,518.7 706.0,519.2 706.6,517.5 707.2,521.9 707.7,523.2 708.3,524.2 708.8,515.1 709.4,516.3 710.0,536.4 710.5,525.5 711.1,518.1 711.7,529.4 712.2,526.6 712.8,533.1 713.3,538.1 713.9,529.0 714.5,533.5 715.0,532.3 715.6,542.4 716.2,540.9 716.7,533.9 717.3,536.8 717.8,530.3 718.4,542.6 719.0,530.4 719.5,532.0 720.1,536.0 720.6,532.6 721.2,538.4 721.8,539.8 722.3,539.2 722.9,549.1 723.5,540.5 724.0,535.1 724.6,553.5 725.1,537.0 725.7,547.3 726.3,545.8 726.8,543.0 727.4,542.5 728.0,535.0 728.5,546.5 729.1,533.7 729.6,546.2 730.2,543.5 730.8,542.7 731.3,553.2 731.9,557.2 732.4,548.5 733.0,544.7 733.6,544.0 734.1,553.6 734.7,538.7 735.3,552.9 735.8,557.6 736.4,544.4 736.9,544.4 737.5,561.2 738.1,548.3 738.6,564.6 739.2,555.1 739.7,539.5 740.3,546.9 740.9,551.6 741.4,552.5 742.0,564.2 742.6,555.9 743.1,555.6 743.7,567.5 744.2,558.5 744.8,556.5 745.4,559.5 745.9,558.5 746.5,564.0 747.1,571.6 747.6,563.1 748.2,579.2 748.7,570.1 749.3,556.9 749.9,552.4 750.4,563.1 751.0,586.3 751.5,557.3 752.1,563.7 752.7,569.9 753.2,563.3 753.8,565.4 754.4,579.7 754.9,581.1 755.5,563.4 756.0,590.6 756.6,567.8 757.2,570.6 757.7,566.1 758.3,560.9 758.9,564.5 759.4,563.4 760.0,569.5 760.5,572.4 761.1,568.7 761.7,577.6 762.2,585.4 762.8,579.3 763.3,592.3 763.9,584.2 764.5,564.6 765.0,576.9 765.6,582.9 766.2,587.0 766.7,597.3 767.3,587.6 767.8,590.2 768.4,584.5 769.0,584.4 769.5,586.2 770.1,602.2 770.7,575.5 771.2,583.9 771.8,588.0 772.3,591.3 772.9,585.7 773.5,580.0 774.0,585.5 774.6,600.6 775.1,602.0 775.7,612.4 776.3,591.8 776.8,587.7 777.4,584.3 778.0,593.5 778.5,588.7 779.1,603.5 779.6,592.2 780.2,598.1 780.8,603.2 781.3,612.6 781.9,589.5 782.4,619.0 783.0,594.9 783.6,607.4 784.1,596.2 784.7,606.4 785.3,596.1 785.8,604.8 786.4,612.5 786.9,608.5 787.5,618.7 788.1,602.9 788.6,597.2 789.2,602.9 789.8,606.1 790.3,596.9 790.9,618.3 791.4,604.0 792.0,609.2 792.6,614.0 793.1,605.8 793.7,621.1 794.2,612.8 794.8,609.3 795.4,623.1 795.9,615.4 796.5,609.4 797.1,606.3 797.6,623.5 798.2,607.9 798.7,618.8 799.3,616.0 799.9,622.3 800.4,611.2 801.0,624.9 801.6,616.6 802.1,616.3 802.7,613.6 803.2,630.3 803.8,614.6 804.4,621.7 804.9,609.9 805.5,626.3 806.0,628.9 806.6,624.8 807.2,627.7 807.7,627.0 808.3,637.9 808.9,646.5 809.4,641.1 810.0,633.3 810.5,624.5 811.1,631.8 811.7,638.5 812.2,631.5 812.8,630.0 813.4,607.1 813.9,620.2 814.5,630.6 815.0,646.8 815.6,635.1 816.2,636.8 816.7,629.4 817.3,616.2 817.8,636.3 818.4,655.6 819.0,637.9 819.5,653.8 820.1,630.1 820.7,628.3 821.2,635.9 821.8,654.2 822.3,641.8 822.9,629.5 823.5,651.1 824.0,647.6 824.6,639.9 825.2,638.2 825.7,642.7 826.3,640.8 826.8,642.6 827.4,650.9 828.0,646.5 828.5,643.6 829.1,657.7 829.6,645.5 830.2,647.0 830.8,644.1 831.3,645.7 831.9,660.2 832.5,663.0 833.0,648.3 833.6,652.8 834.1,650.9 834.7,658.1 835.3,666.1 835.8,651.0 836.4,655.5 836.9,648.7 837.5,644.7 838.1,645.2 838.6,646.8 839.2,666.8 839.8,679.9 840.3,664.4 840.9,671.3 841.4,673.0 842.0,653.3 842.6,677.4 843.1,651.9 843.7,650.7 844.3,636.7 844.8,652.4 845.4,642.9 845.9,670.5 846.5,671.5 847.1,655.1 847.6,679.5 848.2,654.6 848.7,669.5 849.3,688.6 849.9,649.4 850.4,680.3 851.0,644.5 851.6,685.4 852.1,679.0 852.7,668.3 853.2,671.0 853.8,688.9 854.4,671.1 854.9,670.8 855.5,668.6 856.1,691.6 856.6,681.0 857.2,676.2 857.7,667.3 858.3,674.4 858.9,680.4 859.4,681.9 860.0,662.9 860.5,687.3 861.1,675.8 861.7,704.2 862.2,662.6 862.8,675.8 863.4,701.1 863.9,675.4 864.5,667.9 865.0,674.3 865.6,682.7 866.2,675.1 866.7,692.8 867.3,687.9 867.9,689.6 868.4,685.5 869.0,698.6 869.5,672.9 870.1,689.3 870.7,700.7 871.2,691.5 871.8,685.7 872.3,689.7 872.9,679.0 873.5,695.3 874.0,700.6 874.6,687.0 875.2,679.3 875.7,704.7 876.3,712.7 876.8,702.0 877.4,696.1 878.0,707.7 878.5,694.6 879.1,706.9 879.7,687.8 880.2,711.9 880.8,709.2 881.3,698.4 881.9,692.2 882.5,690.0 883.0,708.7 883.6,701.1 884.1,695.8 884.7,686.7 885.3,713.3 885.8,718.2 886.4,698.5 887.0,707.4 887.5,690.1 888.1,705.3 888.6,702.4 889.2,715.9 889.8,703.9 890.3,694.0 890.9,711.1 891.4,723.0 892.0,699.2 892.6,713.4 893.1,709.6 893.7,719.3 894.3,700.6 894.8,720.8 895.4,718.1 895.9,712.9 896.5,715.9 897.1,742.3 897.6,709.1 898.2,729.3 898.8,712.6 899.3,720.8 899.9,718.1 900.4,726.1 901.0,730.7 901.6,716.5 902.1,716.2 902.7,707.6 903.2,713.5 903.8,728.9 904.4,707.4 904.9,696.6 905.5,713.5 906.1,724.8 906.6,734.9 907.2,722.5 907.7,742.1 908.3,715.2 908.9,729.7 909.4,732.7 910.0,723.1 910.6,742.3 911.1,749.5 911.7,733.1 912.2,714.0 912.8,739.4 913.4,719.0 913.9,753.6 914.5,731.2 915.0,724.8 915.6,710.8 916.2,754.7 916.7,733.3 917.3,744.5 917.9,729.9 918.4,741.0 919.0,733.4 919.5,744.7 920.1,742.6 920.7,731.4 921.2,719.2 921.8,734.7 922.4,736.3 922.9,744.1 923.5,720.2 924.0,765.0 924.6,766.2 925.2,750.3 925.7,735.6 926.3,730.0 926.8,735.1 927.4,733.4 928.0,741.0 928.5,749.5 929.1,757.8 929.7,739.1 930.2,757.4 930.8,740.5 931.3,737.1 931.9,754.6 932.5,753.0 933.0,754.8 933.6,739.9 934.1,746.9 934.7,758.0 935.3,746.6 935.8,732.3 936.4,747.4 937.0,749.9 937.5,757.1 938.1,764.7 938.6,753.0 939.2,752.7 939.8,758.1 940.3,740.1 940.9,758.1 941.5,757.7 942.0,753.7 942.6,750.1 943.1,781.5 943.7,754.4 944.3,742.9 944.8,773.6 945.4,754.4 945.9,766.5 946.5,773.5 947.1,757.5 947.6,762.7 948.2,790.6 948.8,770.2 949.3,752.8 949.9,771.2 950.4,773.8 951.0,769.4 951.6,770.9 952.1,756.2 952.7,777.4 953.3,782.3 953.8,761.6 954.4,755.2 954.9,759.3 955.5,758.1 956.1,777.8 956.6,789.9 957.2,779.6 957.7,771.1 958.3,794.7 958.9,775.8 959.4,764.9 960.0,782.1 960.6,749.0 961.1,764.3 961.7,791.0 962.2,790.4 962.8,785.0 963.4,766.9 963.9,770.5 964.5,784.6 965.1,775.3 965.6,767.8 966.2,771.8 966.7,801.5 967.3,794.6 967.9,792.7 968.4,805.0 969.0,770.2 969.5,790.5 970.1,791.2 970.7,794.2 971.2,779.4 971.8,776.5 972.4,775.6 972.9,769.1 973.5,798.3 974.0,765.4 974.6,755.8 975.2,794.2 975.7,792.4 976.3,780.1 976.9,772.6 977.4,792.7 978.0,800.8 978.5,763.9 979.1,797.5 979.7,832.0 980.2,784.6 980.8,779.1 981.3,770.8 981.9,770.5 982.5,755.6 983.0,802.0 983.6,808.6 984.2,816.1 984.7,773.7 985.3,802.4 985.8,821.2 986.4,827.8 987.0,796.2 987.5,804.4 988.1,794.7 988.6,811.6 989.2,810.4 989.8,794.2 990.3,803.9 990.9,793.8 991.5,803.9 992.0,806.6 992.6,798.2 993.1,808.3 993.7,801.8 994.3,798.6 994.8,812.5 995.4,807.4 996.0,804.9 996.5,797.7 997.1,804.1 997.6,804.5 998.2,802.1 998.8,813.4 999.3,804.6 999.9,820.6 1000.4,837.9 1001.0,805.4 1001.6,841.1 1002.1,814.3 1002.7,792.2 1003.3,803.3 1003.8,828.6 1004.4,804.2 1004.9,811.5 1005.5,827.5 1006.1,817.2 1006.6,824.0 1007.2,821.3 1007.8,812.8 1008.3,841.2 1008.9,806.8 1009.4,792.3 1010.0,821.7 1010.6,834.3 1011.1,826.4 1011.7,804.3 1012.2,828.9 1012.8,815.4 1013.4,792.4 1013.9,833.7 1014.5,822.2 1015.1,832.4 1015.6,830.0 1016.2,823.4 1016.7,836.6 1017.3,819.7 1017.9,824.2 1018.4,811.1 1019.0,818.1 1019.6,822.8 1020.1,808.1 1020.7,832.1 1021.2,820.9 1021.8,839.9 1022.4,811.1 1022.9,842.3 1023.5,818.2 1024.0,843.2 1024.6,829.7 1025.2,849.6 1025.7,845.5 1026.3,848.9 1026.9,828.6 1027.4,827.8 1028.0,825.1 1028.5,830.6 1029.1,840.0 1029.7,827.8 1030.2,816.1 1030.8,844.1 1031.3,850.4 1031.9,831.2 1032.5,811.6 1033.0,841.7 1033.6,845.9 1034.2,857.2 1034.7,853.2 1035.3,857.2 1035.8,858.2 1036.4,828.3 1037.0,825.9 1037.5,843.2 1038.1,843.7 1038.7,833.7 1039.2,845.9 1039.8,845.1 1040.3,838.4 1040.9,848.4 1041.5,829.6 1042.0,804.6 1042.6,849.4 1043.1,845.7 1043.7,863.6 1044.3,858.0 1044.8,850.2 1045.4,845.7 1046.0,855.6 1046.5,872.5 1047.1,847.8 1047.6,862.7 1048.2,848.6 1048.8,858.9 1049.3,858.0 1049.9,857.7 1050.5,893.3 1051.0,839.2 1051.6,873.0 1052.1,853.2 1052.7,850.8 1053.3,869.0 1053.8,883.1 1054.4,852.1 1054.9,877.3 1055.5,863.4 1056.1,855.6 1056.6,871.0 1057.2,893.2 1057.8,875.6 1058.3,857.3 1058.9,879.1 1059.4,852.7 1060.0,893.1 1060.6,883.6 1061.1,898.6 1061.7,884.8 1062.3,846.3 1062.8,861.0 1063.4,875.1 1063.9,881.8 1064.5,854.1 1065.1,874.6 1065.6,890.1 1066.2,849.9 1066.7,897.2 1067.3,871.9 1067.9,865.3 1068.4,860.9 1069.0,846.6 1069.6,864.0 1070.1,889.9 1070.7,860.3 1071.2,874.2 1071.8,901.2 1072.4,899.2 1072.9,895.0 1073.5,921.4 1074.1,875.1 1074.6,873.6 1075.2,875.3 1075.7,898.4 1076.3,885.5 1076.9,865.9 1077.4,879.4 1078.0,888.8 1078.5,899.9 1079.1,888.2 1079.7,867.4 1080.2,888.2 1080.8,853.3 1081.4,852.0 1081.9,878.4 1082.5,921.0 1083.0,895.9 1083.6,871.2 1084.2,902.5 1084.7,905.4 1085.3,893.3 1085.8,852.4 1086.4,903.3 1087.0,932.5 1087.5,891.1 1088.1,889.8 1088.7,884.6 1089.2,896.4 1089.8,892.4 1090.3,907.3 1090.9,883.2 1091.5,900.5 1092.0,891.7 1092.6,914.6 1093.2,878.5 1093.7,898.0 1094.3,910.6 1094.8,902.6 1095.4,924.6 1096.0,915.6 1096.5,890.9 1097.1,895.2 1097.6,891.8 1098.2,894.5 1098.8,912.5 1099.3,906.1 1099.9,877.1 1100.5,911.1 1101.0,939.5 1101.6,910.6 1102.1,918.6 1102.7,913.5 1103.3,911.9 1103.8,932.5 1104.4,905.9 1105.0,917.1 1105.5,904.2 1106.1,928.5 1106.6,934.9 1107.2,924.6 1107.8,888.8 1108.3,954.1 1108.9,899.1 1109.4,919.9 1110.0,899.3 1110.6,927.6 1111.1,913.7 1111.7,914.7 1112.3,885.9 1112.8,924.9 1113.4,918.8 1113.9,938.6 1114.5,918.8 1115.1,939.4 1115.6,927.6 1116.2,919.0 1116.8,916.4 1117.3,945.0 1117.9,945.2 1118.4,907.4 1119.0,939.1 1119.6,926.0 1120.1,935.4 1120.7,962.9 1121.2,933.1 1121.8,934.0 1122.4,901.1 1122.9,972.7 1123.5,943.7 1124.1,922.5 1124.6,945.0 1125.2,981.2 1125.7,924.1 1126.3,933.0 1126.9,953.7 1127.4,957.5 1128.0,951.6 1128.5,934.8 1129.1,942.6 1129.7,952.8 1130.2,933.7 1130.8,921.5 1131.4,953.5 1131.9,913.7 1132.5,942.0 1133.0,931.8 1133.6,935.8 1134.2,934.8 1134.7,940.4 1135.3,996.0 1135.9,965.9 1136.4,930.1 1137.0,969.4 1137.5,945.8 1138.1,982.5 1138.7,962.0 1139.2,921.1 1139.8,945.6 1140.3,969.4 1140.9,965.0 1141.5,990.1 1142.0,943.8 1142.6,958.6 1143.2,939.8 1143.7,939.2 1144.3,961.7 1144.8,977.0 1145.4,983.6 1146.0,966.0 1146.5,957.7 1147.1,931.7 1147.7,980.4 1148.2,950.6 1148.8,983.9 1149.3,973.8 1149.9,945.9 1150.5,951.6 1151.0,974.6 1151.6,977.9 1152.1,941.7 1152.7,968.6 1153.3,972.0 1153.8,990.1 1154.4,918.1 1155.0,930.3 1155.5,956.3 1156.1,924.2 1156.6,957.7 1157.2,976.2 1157.8,957.4 1158.3,940.4 1158.9,996.2 1159.5,944.6 1160.0,946.0 1160.6,940.3 1161.1,961.0 1161.7,948.5 1162.3,1015.2 1162.8,974.1 1163.4,951.4 1163.9,961.7 1164.5,968.2 1165.1,1004.9 1165.6,979.0 1166.2,1019.2 1166.8,981.8 1167.3,969.3 1167.9,989.4 1168.4,967.1 1169.0,978.1 1169.6,959.3 1170.1,987.6 1170.7,1020.7 1171.3,1011.8 1171.8,999.4 1172.4,981.4 1172.9,979.6 1173.5,1000.4 1174.1,980.3 1174.6,999.4 1175.2,969.3 1175.7,1018.3 1176.3,959.1 1176.9,978.7 1177.4,995.2 1178.0,1013.3 1178.6,973.8 1179.1,1001.6 1179.7,972.5 1180.2,948.2 1180.8,984.1 1181.4,982.9 1181.9,976.3 1182.5,1002.5 1183.0,947.8 1183.6,995.1 1184.2,974.3 1184.7,982.6 1185.3,1005.4 1185.9,960.8 1186.4,982.7 1187.0,1008.2 1187.5,1008.5 1188.1,1045.4 1188.7,1020.7 1189.2,974.1 1189.8,974.2 1190.4,1018.2 1190.9,980.0 1191.5,972.6 1192.0,977.4 1192.6,967.5 1193.2,1049.5 1193.7,992.1 1194.3,1022.5 1194.8,982.1 1195.4,1017.8 1196.0,996.7 1196.5,979.1 1197.1,1043.9 1197.7,1017.9 1198.2,1020.0 1198.8,1003.2 1199.3,1047.0 1199.9,984.8 1200.5,960.8 1201.0,1012.4 1201.6,993.1 1202.2,1062.6 1202.7,1040.6 1203.3,991.7 1203.8,1001.3 1204.4,992.9 1205.0,978.2 1205.5,1008.2 1206.1,1017.7 1206.6,1024.5 1207.2,1009.9 1207.8,1062.6 1208.3,978.3 1208.9,1062.6 1209.5,1062.3 1210.0,1014.2 1210.6,993.1 1211.1,1003.2 1211.7,981.4 1212.3,1030.6 1212.8,1037.3 1213.4,1005.4 1214.0,1053.2 1214.5,1015.4 1215.1,1008.1 1215.6,1014.2 1216.2,1062.6 1216.8,1029.8 1217.3,1062.6 1217.9,1002.3 1218.4,1037.5 1219.0,1000.0 1219.6,992.8 1220.1,1062.6 1220.7,1003.5 1221.3,1017.1 1221.8,990.7 1222.4,1062.6 1222.9,1062.6 1223.5,1053.3 1224.1,1062.6 1224.6,1027.6 1225.2,1053.1 1225.7,1026.8 1226.3,1023.4 1226.9,1011.0 1227.4,1062.6 1228.0,1014.8 1228.6,1015.5 1229.1,1062.6 1229.7,1054.8 1230.2,1062.6 1230.8,1005.2 1231.4,1002.9 1231.9,1062.6 1232.5,1042.4 1233.1,1028.6 1233.6,1021.1 1234.2,1043.1 1234.7,998.5 1235.3,1062.6 1235.9,1019.1 1236.4,1040.5 1237.0,1035.4 1237.5,1062.6 1238.1,1062.6 1238.7,1061.3 1239.2,1032.5 1239.8,1062.6 1240.4,1062.6 1240.9,1052.7 1241.5,1048.8 1242.0,1062.6 1242.6,1052.7 1243.2,1037.8 1243.7,1044.2 1244.3,1025.1 1244.9,1018.7 1245.4,1053.0 1246.0,1062.6 1246.5,1062.6 1247.1,1025.4 1247.7,1044.0 1248.2,1026.2 1248.8,1062.6 1249.3,1052.0 1249.9,1062.6 1250.5,1062.6 1251.0,1062.6 1251.6,1062.6 1252.2,1044.5 1252.7,1036.6 1253.3,1052.5 1253.8,1062.6 1254.4,1006.6 1255.0,1018.4 1255.5,1032.5 1256.1,1057.8 1256.7,1026.9 1257.2,1062.6 1257.8,1062.6 1258.3,1045.8 1258.9,1059.8 1259.5,1035.2 1260.0,1062.6 1260.6,1057.7 1261.1,1062.6 1261.7,1062.6 1262.3,1054.1 1262.8,1062.6 1263.4,1062.6 1264.0,1062.6 1264.5,1062.6 1265.1,1062.6 1265.6,1062.6 1266.2,1062.6 1266.8,1062.6 1267.3,1036.0 1267.9,1016.2 1268.5,1041.1 1269.0,1000.3 1269.6,1062.6 1270.1,1062.6 1270.7,1062.6 1271.3,1062.6 1271.8,1062.6 1272.4,1051.1 1272.9,1054.5 1273.5,1049.5 1274.1,1062.6 1274.6,1062.6 1275.2,1062.6 1275.8,1062.6 1276.3,1053.2 1276.9,1062.6 1277.4,1062.6 1278.0,1062.6 1278.6,1054.3 1279.1,1062.6 1279.7,1062.6 1280.2,1062.6 1280.8,1062.6 1281.4,1062.6 1281.9,1062.6 1282.5,1062.6 1283.1,1062.6 1283.6,1050.2 1284.2,1062.6 1284.7,1062.6 1285.3,1062.6 1285.9,1062.6 1286.4,1062.6 1287.0,1062.6 1287.6,1062.6 1288.1,1062.6 1288.7,1059.1 1289.2,1062.6 1289.8,1062.6 1290.4,1062.6 1290.9,1062.6 1291.5,1060.4 1292.0,1062.6 1292.6,1062.6 1293.2,1062.6 1293.7,1052.0 1294.3,1062.6 1294.9,1062.6 1295.4,1062.6 1296.0,1062.6 1296.5,1062.6 1297.1,1062.6 1297.7,1062.6 1298.2,1062.6 1298.8,1052.1 1299.4,1062.6 1299.9,1062.6 1300.5,1062.6 1301.0,1062.6 1301.6,1062.6 1302.2,1062.6 1302.7,1062.6 1303.3,1062.6 1303.8,1062.6 1304.4,1062.6 1305.0,1062.6 1305.5,1062.6 1306.1,1055.9 1306.7,1062.6 1307.2,1062.6 1307.8,1062.6 1308.3,1062.6 1308.9,1062.6 1309.5,1062.6 1310.0,1062.6 1310.6,1062.6 1311.2,1062.6 1311.7,1048.0 1312.3,1062.6 1312.8,1062.6 1313.4,1062.6 1314.0,1062.6 1314.5,1062.6 1315.1,1062.6 1315.6,1062.6 1316.2,1062.6 1316.8,1062.6 1317.3,1062.6 1317.9,1062.6 1318.5,1062.6 1319.0,1062.6 1319.6,1020.8 1320.1,1062.6 1320.7,1062.6 1321.3,1062.6 1321.8,1062.6 1322.4,1062.6 1322.9,1062.6 1323.5,1062.6 1324.1,1062.6 1324.6,1062.6 1325.2,1062.6 1325.8,1062.6 1326.3,1062.6 1326.9,1062.6 1327.4,1062.6 1328.0,1062.6 1328.6,1062.6 1329.1,1062.6 1329.7,1062.6 1330.3,1062.6 1330.8,1062.6 1331.4,1062.6 1331.9,1062.6 1332.5,1062.6 1333.1,1062.6 1333.6,1062.6 1334.2,1062.6 1334.7,1062.6 1335.3,1062.6 1335.9,1062.6 1336.4,1062.6 1337.0,1062.6 1337.6,1062.6 1338.1,1062.6 1338.7,1062.6 1339.2,1062.6 1339.8,1062.6 1340.4,1062.6 1340.9,1062.6 1341.5,1062.6 1342.1,1062.6 1342.6,1062.6 1343.2,1062.6 1343.7,1062.6 1344.3,1062.6 1344.9,1062.6 1345.4,1062.6 1346.0,1062.6 1346.5,1062.6 1347.1,1062.6 1347.7,1062.6 1348.2,1062.6 1348.8,1062.6 1349.4,1062.6 1349.9,1062.6 1350.5,1062.6 1351.0,1062.6 1351.6,1062.6 1352.2,1062.6 1352.7,1062.6 1353.3,1062.6 1353.9,1062.6 1354.4,1062.6 1355.0,1062.6 1355.5,1062.6 1356.1,1062.6 1356.7,1062.6 1357.2,1062.6 1357.8,1062.6 1358.3,1062.6 1358.9,1062.6 1359.5,1062.6 1360.0,1062.6 1360.6,1062.6 1361.2,1062.6 1361.7,1062.6 1362.3,1062.6 1362.8,1062.6 1363.4,1062.6 1364.0,1062.6 1364.5,1062.6 1365.1,1062.6 1365.7,1062.6 1366.2,1062.6 1366.8,1062.6 1367.3,1062.6 1367.9,1062.6 1368.5,1062.6 1369.0,1062.6 1369.6,1062.6 1370.1,1062.6 1370.7,1062.6 1371.3,1062.6 1371.8,1062.6 1372.4,1062.6 1373.0,1062.6 1373.5,1062.6 1374.1,1062.6 1374.6,1062.6 1375.2,1062.6 1375.8,1062.6 1376.3,1062.6 1376.9,1062.6 1377.4,1062.6 1378.0,1062.6 1378.6,1062.6 1379.1,1062.6 1379.7,1062.6 1380.3,1062.6 1380.8,1062.6 1381.4,1062.6 1381.9,1062.6 1382.5,1062.6 1383.1,1062.6 1383.6,1062.6 1384.2,1062.6 1384.8,1062.6 1385.3,1062.6 1385.9,1062.6 1386.4,1062.6 1387.0,1062.6 1387.6,1062.6 1388.1,1062.6 1388.7,1062.6 1389.2,1062.6 1389.8,1062.6 1390.4,1062.6 1390.9,1062.6 1391.5,1062.6 1392.1,1062.6 1392.6,1062.6 1393.2,1062.6 1393.7,1062.6 1394.3,1062.6 1394.9,1062.6 1395.4,1062.6 1396.0,1062.6 1396.6,1062.6 1397.1,1062.6 1397.7,1062.6 1398.2,1062.6 1398.8,1062.6 1399.4,1062.6 1399.9,1062.6 1400.5,1062.6 1401.0,1062.6 1401.6,1062.6 1402.2,1062.6 1402.7,1062.6 1403.3,1062.6 1403.9,1062.6 1404.4,1062.6 1405.0,1062.6 1405.5,1062.6 1406.1,1062.6 1406.7,1062.6 1407.2,1062.6 1407.8,1062.6 1408.4,1062.6 1408.9,1062.6 1409.5,1062.6 1410.0,1062.6 1410.6,1062.6 1411.2,1062.6 1411.7,1062.6 1412.3,1062.6 1412.8,1062.6 1413.4,1062.6 1414.0,1062.6 1414.5,1062.6 1415.1,1062.6 1415.7,1062.6 1416.2,1062.6 1416.8,1062.6 1417.3,1062.6 1417.9,1062.6 1418.5,1062.6 1419.0,1062.6 1419.6,1062.6 1420.1,1062.6 1420.7,1062.6 1421.3,1062.6 1421.8,1062.6 1422.4,1062.6 1423.0,1062.6 1423.5,1062.6 1424.1,1062.6 1424.6,1062.6 1425.2,1062.6 1425.8,1062.6 1426.3,1062.6 1426.9,1062.6 1427.5,1062.6 1428.0,1062.6 1428.6,1062.6 1429.1,1062.6 1429.7,1062.6 1430.3,1062.6 1430.8,1062.6 1431.4,1062.6 1431.9,1062.6 1432.5,1062.6 1433.1,1062.6 1433.6,1062.6 1434.2,1062.6" stroke="#0000ff"/>
<polyline points="318.9,75.3 319.5,78.5 320.0,79.9 320.6,82.3 321.2,79.7 321.7,78.4 322.3,80.6 322.9,80.7 323.4,80.7 324.0,83.8 324.5,80.0 325.1,85.1 325.7,84.2 326.2,81.8 326.8,86.1 327.4,86.5 327.9,88.0 328.5,87.5 329.0,91.4 329.6,90.1 330.2,87.8 330.7,90.4 331.3,91.6 331.8,91.5 332.4,92.1 333.0,93.1 333.5,93.2 334.1,96.8 334.7,94.5 335.2,96.9 335.8,95.6 336.3,97.3 336.9,99.3 337.5,98.7 338.0,100.7 338.6,98.6 339.2,100.7 339.7,100.2 340.3,103.5 340.8,100.5 341.4,103.7 342.0,102.1 342.5,103.5 343.1,106.8 343.6,105.5 344.2,107.4 344.8,106.8 345.3,106.0 345.9,107.7 346.5,107.9 347.0,111.6 347.6,110.4 348.1,110.8 348.7,110.5 349.3,113.5 349.8,112.5 350.4,113.4 350.9,116.8 351.5,116.8 352.1,115.4 352.6,118.3 353.2,119.0 353.8,116.7 354.3,118.2 354.9,119.6 355.4,119.8 356.0,121.2 356.6,122.1 357.1,122.6 357.7,122.1 358.3,121.4 358.8,124.7 359.4,124.7 359.9,125.6 360.5,127.8 361.1,126.3 361.6,126.1 362.2,129.2 362.7,127.5 363.3,130.1 363.9,128.3 364.4,128.9 365.0,131.9 365.6,134.9 366.1,133.2 366.7,135.4 367.2,135.9 367.8,135.0 368.4,133.3 368.9,136.1 369.5,137.0 370.1,140.1 370.6,138.9 371.2,140.7 371.7,138.6 372.3,140.8 372.9,140.7 373.4,141.3 374.0,142.3 374.5,141.2 375.1,142.6 375.7,144.5 376.2,144.4 376.8,144.5 377.4,143.9 377.9,146.5 378.5,145.1 379.0,148.9 379.6,149.0 380.2,151.6 380.7,148.7 381.3,152.2 381.9,152.9 382.4,150.7 383.0,153.5 383.5,154.5 384.1,152.5 384.7,154.9 385.2,153.9 385.8,156.6 386.3,155.5 386.9,155.7 387.5,157.9 388.0,155.9 388.6,159.9 389.2,160.3 389.7,160.5 390.3,159.8 390.8,162.4 391.4,163.3 392.0,162.9 392.5,162.0 393.1,165.3 393.6,167.4 394.2,166.2 394.8,165.7 395.3,168.2 395.9,167.8 396.5,171.7 397.0,169.3 397.6,169.8 398.1,169.7 398.7,170.8 399.3,170.8 399.8,174.3 400.4,172.3 401.0,176.7 401.5,175.6 402.1,173.5 402.6,174.6 403.2,179.7 403.8,176.4 404.3,178.7 404.9,179.9 405.4,179.0 406.0,179.8 406.6,178.4 407.1,183.7 407.7,182.7 408.3,182.9 408.8,186.4 409.4,182.1 409.9,181.8 410.5,186.4 411.1,185.4 411.6,187.1 412.2,186.9 412.8,189.1 413.3,187.3 413.9,191.3 414.4,187.7 415.0,190.1 415.6,187.3 416.1,194.8 416.7,192.8 417.2,195.5 417.8,194.2 418.4,193.9 418.9,196.9 419.5,198.5 420.1,199.6 420.6,197.0 421.2,195.8 421.7,196.7 422.3,199.3 422.9,201.7 423.4,201.3 424.0,204.0 424.6,204.7 425.1,200.8 425.7,203.8 426.2,203.5 426.8,205.1 427.4,203.1 427.9,203.5 428.5,208.0 429.0,208.0 429.6,209.2 430.2,206.4 430.7,207.2 431.3,210.5 431.9,206.6 432.4,211.3 433.0,214.2 433.5,216.4 434.1,213.6 434.7,213.4 435.2,215.7 435.8,214.7 436.4,213.9 436.9,216.8 437.5,215.8 438.0,215.0 438.6,217.8 439.2,220.4 439.7,219.2 440.3,219.7 440.8,217.4 441.4,222.8 442.0,225.6 442.5,222.8 443.1,223.4 443.7,225.5 444.2,224.3 444.8,225.4 445.3,224.4 445.9,228.9 446.5,229.4 447.0,228.7 447.6,230.3 448.1,227.6 448.7,229.6 449.3,231.4 449.8,229.1 450.4,231.7 451.0,231.4 451.5,232.4 452.1,235.0 452.6,235.6 453.2,236.0 453.8,238.9 454.3,238.0 454.9,236.3 455.5,238.1 456.0,241.2 456.6,235.3 457.1,242.8 457.7,240.1 458.3,240.6 458.8,240.1 459.4,245.0 459.9,243.8 460.5,244.9 461.1,242.8 461.6,244.9 462.2,245.5 462.8,245.8 463.3,243.6 463.9,246.8 464.4,247.0 465.0,251.4 465.6,248.6 466.1,253.3 466.7,249.3 467.3,251.5 467.8,254.3 468.4,255.5 468.9,253.9 469.5,254.1 470.1,256.1 470.6,256.2 471.2,256.8 471.7,257.9 472.3,257.8 472.9,257.4 473.4,255.8 474.0,257.9 474.6,261.1 475.1,257.0 475.7,258.5 476.2,262.2 476.8,260.1 477.4,264.1 477.9,265.2 478.5,265.7 479.1,261.2 479.6,265.1 480.2,265.3 480.7,266.4 481.3,268.1 481.9,266.7 482.4,266.9 483.0,264.7 483.5,271.6 484.1,266.9 484.7,269.4 485.2,275.4 485.8,269.9 486.4,269.1 486.9,270.9 487.5,273.4 488.0,274.2 488.6,279.8 489.2,275.1 489.7,276.0 490.3,279.2 490.8,277.2 491.4,279.8 492.0,273.8 492.5,282.4 493.1,282.3 493.7,285.9 494.2,282.4 494.8,281.8 495.3,282.7 495.9,284.9 496.5,281.9 497.0,284.1 497.6,282.5 498.2,286.1 498.7,290.7 499.3,287.5 499.8,290.2 500.4,286.4 501.0,290.5 501.5,290.2 502.1,290.3 502.6,294.6 503.2,292.5 503.8,290.1 504.3,294.2 504.9,293.8 505.5,293.6 506.0,296.3 506.6,296.0 507.1,294.8 507.7,297.5 508.3,297.0 508.8,298.1 509.4,301.0 510.0,302.3 510.5,294.8 511.1,296.9 511.6,301.2 512.2,299.2 512.8,299.4 513.3,300.4 513.9,304.3 514.4,307.6 515.0,307.8 515.6,305.9 516.1,302.5 516.7,302.6 517.3,307.7 517.8,308.6 518.4,305.3 518.9,303.8 519.5,311.9 520.1,309.0 520.6,310.4 521.2,312.3 521.8,312.9 522.3,313.5 522.9,313.3 523.4,317.9 524.0,314.5 524.6,313.1 525.1,313.8 525.7,314.3 526.2,316.1 526.8,317.1 527.4,313.2 527.9,319.3 528.5,319.1 529.1,316.9 529.6,320.6 530.2,324.8 530.7,323.5 531.3,323.8 531.9,323.7 532.4,325.1 533.0,321.9 533.6,323.3 534.1,324.5 534.7,327.5 535.2,324.4 535.8,325.1 536.4,322.5 536.9,330.6 537.5,329.9 538.0,326.5 538.6,333.8 539.2,330.8 539.7,331.5 540.3,332.6 540.9,336.0 541.4,333.9 542.0,338.8 542.5,332.1 543.1,337.3 543.7,336.2 544.2,337.3 544.8,337.4 545.3,338.2 545.9,338.0 546.5,340.8 547.0,340.3 547.6,344.2 548.2,344.6 548.7,344.7 549.3,345.8 549.8,347.5 550.4,346.0 551.0,343.1 551.5,344.4 552.1,347.4 552.7,345.9 553.2,346.4 553.8,340.6 554.3,353.3 554.9,348.6 555.5,353.8 556.0,347.0 556.6,351.9 557.1,350.6 557.7,351.9 558.3,351.1 558.8,362.6 559.4,357.8 560.0,354.8 560.5,359.7 561.1,354.6 561.6,353.2 562.2,361.5 562.8,359.5 563.3,356.9 563.9,354.0 564.5,357.0 565.0,358.5 565.6,364.1 566.1,361.9 566.7,362.2 567.3,365.2 567.8,362.6 568.4,365.5 568.9,366.6 569.5,359.1 570.1,367.0 570.6,361.2 571.2,369.0 571.8,368.6 572.3,373.1 572.9,371.5 573.4,365.2 574.0,370.9 574.6,378.3 575.1,367.6 575.7,375.8 576.3,374.9 576.8,374.3 577.4,381.2 577.9,370.3 578.5,371.8 579.1,377.8 579.6,376.1 580.2,379.0 580.7,380.7 581.3,380.1 581.9,385.0 582.4,382.0 583.0,383.1 583.6,375.2 584.1,387.7 584.7,378.7 585.2,381.2 585.8,383.8 586.4,387.1 586.9,379.3 587.5,381.1 588.0,387.0 588.6,388.2 589.2,387.5 589.7,382.3 590.3,392.8 590.9,389.8 591.4,386.6 592.0,396.5 592.5,392.3 593.1,388.5 593.7,394.9 594.2,394.3 594.8,400.4 595.4,393.7 595.9,400.3 596.5,397.9 597.0,395.8 597.6,399.8 598.2,395.0 598.7,396.2 599.3,397.7 599.8,396.3 600.4,401.3 601.0,409.8 601.5,398.5 602.1,399.4 602.7,404.8 603.2,406.8 603.8,399.6 604.3,406.6 604.9,406.8 605.5,407.6 606.0,397.3 606.6,409.9 607.2,418.2 607.7,408.6 608.3,413.1 608.8,416.7 609.4,409.6 610.0,412.9 610.5,407.8 611.1,413.3 611.6,407.7 612.2,409.1 612.8,413.6 613.3,411.1 613.9,407.5 614.5,412.6 615.0,422.0 615.6,416.2 616.1,416.3 616.7,412.5 617.3,418.8 617.8,414.1 618.4,419.9 619.0,419.9 619.5,421.6 620.1,421.1 620.6,422.3 621.2,420.8 621.8,426.2 622.3,428.0 622.9,424.4 623.4,424.0 624.0,426.9 624.6,424.0 625.1,424.9 625.7,419.7 626.3,434.0 626.8,419.6 627.4,439.3 627.9,437.3 628.5,428.8 629.1,434.8 629.6,432.5 630.2,433.7 630.8,438.3 631.3,439.2 631.9,435.3 632.4,432.5 633.0,432.0 633.6,434.5 634.1,437.3 634.7,431.1 635.2,447.2 635.8,437.4 636.4,432.4 636.9,431.4 637.5,433.8 638.1,433.7 638.6,435.7 639.2,440.3 639.7,452.2 640.3,444.4 640.9,443.9 641.4,435.9 642.0,445.8 642.5,446.0 643.1,441.8 643.7,450.1 644.2,445.8 644.8,443.9 645.4,448.7 645.9,448.0 646.5,456.9 647.0,454.9 647.6,450.6 648.2,444.6 648.7,453.4 649.3,455.7 649.9,455.7 650.4,449.1 651.0,460.0 651.5,452.6 652.1,455.8 652.7,454.3 653.2,458.9 653.8,455.3 654.3,449.7 654.9,458.3 655.5,459.9 656.0,471.2 656.6,456.2 657.2,462.4 657.7,457.8 658.3,459.7 658.8,464.9 659.4,464.7 660.0,468.9 660.5,452.7 661.1,458.4 661.7,459.5 662.2,458.2 662.8,457.8 663.3,460.9 663.9,460.6 664.5,454.0 665.0,476.0 665.6,466.4 666.1,471.3 666.7,468.3 667.3,482.7 667.8,475.4 668.4,466.0 669.0,477.5 669.5,468.4 670.1,476.3 670.6,473.3 671.2,481.1 671.8,476.8 672.3,482.2 672.9,471.7 673.5,484.6 674.0,473.9 674.6,479.1 675.1,477.6 675.7,469.8 676.3,479.2 676.8,481.8 677.4,478.8 677.9,475.7 678.5,482.9 679.1,471.5 679.6,480.1 680.2,483.5 680.8,485.6 681.3,483.4 681.9,480.1 682.4,478.0 683.0,483.8 683.6,488.0 684.1,485.6 684.7,497.7 685.2,480.4 685.8,482.4 686.4,488.5 686.9,484.2 687.5,494.0 688.1,479.3 688.6,490.2 689.2,492.2 689.7,479.0 690.3,495.8 690.9,488.5 691.4,496.0 692.0,494.8 692.6,493.8 693.1,496.0 693.7,485.4 694.2,487.8 694.8,497.6 695.4,482.1 695.9,495.7 696.5,497.0 697.0,494.4 697.6,503.0 698.2,490.3 698.7,503.5 699.3,506.1 699.9,493.6 700.4,505.3 701.0,502.1 701.5,508.3 702.1,504.5 702.7,502.0 703.2,517.3 703.8,504.2 704.4,509.1 704.9,497.2 705.5,494.4 706.0,503.2 706.6,503.4 707.2,501.4 707.7,501.9 708.3,517.0 708.8,516.9 709.4,512.7 710.0,518.7 710.5,513.0 711.1,511.1 711.7,517.0 712.2,510.2 712.8,505.2 713.3,513.7 713.9,512.1 714.5,515.4 715.0,516.2 715.6,519.4 716.2,523.6 716.7,514.2 717.3,511.8 717.8,518.9 718.4,518.6 719.0,528.1 719.5,521.8 720.1,519.2 720.6,522.1 721.2,521.8 721.8,528.7 722.3,531.0 722.9,525.3 723.5,515.7 724.0,527.3 724.6,534.7 725.1,530.1 725.7,527.9 726.3,520.1 726.8,521.4 727.4,533.2 728.0,535.1 728.5,531.0 729.1,530.1 729.6,536.8 730.2,525.5 730.8,534.5 731.3,530.8 731.9,534.1 732.4,530.4 733.0,534.8 733.6,533.1 734.1,527.8 734.7,534.3 735.3,527.7 735.8,544.8 736.4,538.7 736.9,544.6 737.5,547.6 738.1,539.5 738.6,528.3 739.2,538.8 739.7,534.8 740.3,553.7 740.9,540.7 741.4,550.0 742.0,541.9 742.6,537.6 743.1,547.5 743.7,538.4 744.2,550.7 744.8,545.7 745.4,550.9 745.9,547.0 746.5,549.2 747.1,563.1 747.6,551.7 748.2,553.2 748.7,540.2 749.3,567.7 749.9,551.3 750.4,547.2 751.0,541.2 751.5,545.4 752.1,554.4 752.7,545.6 753.2,556.1 753.8,557.0 754.4,558.6 754.9,559.4 755.5,548.0 756.0,569.0 756.6,569.0 757.2,553.3 757.7,557.0 758.3,555.1 758.9,562.8 759.4,557.5 760.0,563.9 760.5,566.3 761.1,566.5 761.7,563.3 762.2,564.3 762.8,568.0 763.3,555.8 763.9,563.6 764.5,569.4 765.0,576.6 765.6,568.8 766.2,580.0 766.7,575.5 767.3,577.9 767.8,576.7 768.4,570.2 769.0,594.9 769.5,563.1 770.1,570.4 770.7,576.9 771.2,578.7 771.8,570.4 772.3,576.5 772.9,564.9 773.5,577.9 774.0,583.9 774.6,588.0 775.1,579.3 775.7,572.4 776.3,588.3 776.8,571.9 777.4,575.3 778.0,583.7 778.5,573.5 779.1,595.0 779.6,598.8 780.2,581.9 780.8,581.5 781.3,582.4 781.9,585.8 782.4,596.5 783.0,582.9 783.6,589.8 784.1,581.8 784.7,586.9 785.3,597.2 785.8,585.3 786.4,584.6 786.9,585.2 787.5,596.2 788.1,599.2 788.6,586.9 789.2,593.4 789.8,594.3 790.3,587.2 790.9,587.4 791.4,591.7 792.0,597.3 792.6,586.0 793.1,604.4 793.7,597.5 794.2,595.8 794.8,608.7 795.4,604.4 795.9,593.6 796.5,600.9 797.1,608.6 797.6,589.9 798.2,600.7 798.7,601.9 799.3,590.4 799.9,614.7 800.4,608.2 801.0,611.7 801.6,596.1 802.1,612.1 802.7,590.1 803.2,603.7 803.8,605.5 804.4,601.2 804.9,610.5 805.5,616.3 806.0,614.6 806.6,610.4 807.2,618.6 807.7,610.8 808.3,617.2 808.9,614.5 809.4,614.1 810.0,602.4 810.5,597.9 811.1,601.2 811.7,616.1 812.2,620.6 812.8,607.8 813.4,606.2 813.9,609.5 814.5,621.4 815.0,615.0 815.6,619.8 816.2,610.6 816.7,611.8 817.3,617.6 817.8,623.0 818.4,607.3 819.0,619.3 819.5,615.0 820.1,617.5 820.7,616.3 821.2,613.9 821.8,626.0 822.3,627.3 822.9,619.6 823.5,651.5 824.0,625.9 824.6,629.7 825.2,620.8 825.7,624.3 826.3,629.0 826.8,637.4 827.4,630.0 828.0,631.7 828.5,629.1 829.1,628.5 829.6,636.5 830.2,627.2 830.8,636.1 831.3,629.2 831.9,630.7 832.5,623.7 833.0,634.2 833.6,622.1 834.1,638.0 834.7,642.9 835.3,631.1 835.8,647.1 836.4,634.4 836.9,634.8 837.5,636.9 838.1,635.7 838.6,637.9 839.2,629.8 839.8,641.6 840.3,657.7 840.9,644.6 841.4,635.4 842.0,634.7 842.6,637.7 843.1,643.5 843.7,652.1 844.3,632.3 844.8,650.2 845.4,655.2 845.9,667.8 846.5,631.7 847.1,647.7 847.6,664.3 848.2,641.6 848.7,643.8 849.3,664.4 849.9,643.9 850.4,650.7 851.0,645.8 851.6,640.7 852.1,656.1 852.7,635.4 853.2,654.5 853.8,659.3 854.4,644.9 854.9,661.1 855.5,658.9 856.1,649.5 856.6,664.8 857.2,669.6 857.7,655.8 858.3,659.0 858.9,664.5 859.4,652.1 860.0,671.3 860.5,654.9 861.1,671.5 861.7,658.4 862.2,674.1 862.8,658.1 863.4,664.8 863.9,668.7 864.5,664.9 865.0,667.4 865.6,659.5 866.2,673.3 866.7,664.0 867.3,671.3 867.9,674.6 868.4,674.2 869.0,680.3 869.5,667.9 870.1,670.5 870.7,668.7 871.2,687.5 871.8,677.1 872.3,660.5 872.9,663.5 873.5,675.8 874.0,675.1 874.6,673.9 875.2,666.7 875.7,663.7 876.3,674.4 876.8,675.3 877.4,678.2 878.0,675.5 878.5,663.4 879.1,685.7 879.7,674.2 880.2,691.4 880.8,691.3 881.3,697.6 881.9,687.7 882.5,669.4 883.0,668.6 883.6,676.4 884.1,684.4 884.7,675.0 885.3,695.2 885.8,699.4 886.4,694.6 887.0,688.8 887.5,705.2 888.1,695.4 888.6,673.1 889.2,690.8 889.8,693.2 890.3,696.1 890.9,683.8 891.4,684.9 892.0,690.7 892.6,693.7 893.1,714.1 893.7,707.7 894.3,697.7 894.8,699.8 895.4,697.9 895.9,700.0 896.5,679.5 897.1,685.9 897.6,707.8 898.2,690.4 898.8,694.3 899.3,698.9 899.9,701.5 900.4,696.1 901.0,682.8 901.6,705.8 902.1,702.6 902.7,702.7 903.2,719.2 903.8,702.4 904.4,711.2 904.9,700.9 905.5,700.0 906.1,687.4 906.6,706.9 907.2,708.0 907.7,698.6 908.3,687.5 908.9,704.8 909.4,702.2 910.0,701.9 910.6,703.1 911.1,713.5 911.7,716.7 912.2,716.2 912.8,713.6 913.4,707.4 913.9,719.6 914.5,719.2 915.0,711.9 915.6,713.7 916.2,711.9 916.7,726.3 917.3,695.9 917.9,716.6 918.4,717.4 919.0,724.2 919.5,711.5 920.1,706.5 920.7,717.3 921.2,718.6 921.8,720.6 922.4,697.3 922.9,713.3 923.5,723.8 924.0,718.4 924.6,710.1 925.2,719.3 925.7,718.3 926.3,720.1 926.8,724.2 927.4,717.2 928.0,707.4 928.5,718.9 929.1,727.2 929.7,733.3 930.2,725.9 930.8,731.3 931.3,735.0 931.9,720.2 932.5,724.0 933.0,716.8 933.6,723.2 934.1,732.5 934.7,719.7 935.3,725.4 935.8,716.1 936.4,740.7 937.0,734.5 937.5,730.6 938.1,716.4 938.6,727.5 939.2,744.8 939.8,742.7 940.3,728.3 940.9,750.8 941.5,741.8 942.0,736.6 942.6,739.4 943.1,733.3 943.7,728.7 944.3,734.6 944.8,751.4 945.4,725.2 945.9,728.4 946.5,748.0 947.1,743.4 947.6,754.7 948.2,726.9 948.8,746.3 949.3,737.5 949.9,737.3 950.4,730.0 951.0,742.1 951.6,747.4 952.1,738.0 952.7,734.8 953.3,750.8 953.8,746.5 954.4,762.6 954.9,732.5 955.5,754.1 956.1,737.6 956.6,739.2 957.2,740.7 957.7,739.4 958.3,758.0 958.9,747.8 959.4,758.0 960.0,752.4 960.6,759.4 961.1,728.3 961.7,749.9 962.2,742.5 962.8,760.2 963.4,735.5 963.9,755.0 964.5,756.3 965.1,758.0 965.6,772.4 966.2,778.5 966.7,754.2 967.3,768.5 967.9,760.0 968.4,737.7 969.0,761.6 969.5,738.4 970.1,756.1 970.7,772.0 971.2,754.3 971.8,749.4 972.4,753.2 972.9,769.5 973.5,774.4 974.0,753.9 974.6,744.2 975.2,745.9 975.7,768.4 976.3,767.4 976.9,762.4 977.4,754.3 978.0,761.5 978.5,762.1 979.1,767.1 979.7,798.5 980.2,781.9 980.8,767.0 981.3,786.8 981.9,748.4 982.5,779.0 983.0,763.3 983.6,761.0 984.2,759.3 984.7,785.1 985.3,774.5 985.8,756.8 986.4,772.7 987.0,765.1 987.5,803.4 988.1,770.7 988.6,773.8 989.2,777.5 989.8,797.3 990.3,785.5 990.9,780.7 991.5,782.4 992.0,791.4 992.6,767.4 993.1,769.3 993.7,784.1 994.3,764.9 994.8,794.9 995.4,778.2 996.0,764.5 996.5,776.2 997.1,784.8 997.6,778.0 998.2,785.4 998.8,790.8 999.3,794.1 999.9,785.4 1000.4,787.8 1001.0,783.1 1001.6,796.9 1002.1,784.6 1002.7,777.7 1003.3,795.8 1003.8,772.0 1004.4,798.5 1004.9,799.0 1005.5,798.2 1006.1,806.1 1006.6,810.9 1007.2,806.7 1007.8,796.2 1008.3,803.5 1008.9,778.0 1009.4,797.2 1010.0,800.3 1010.6,802.7 1011.1,791.2 1011.7,795.8 1012.2,793.6 1012.8,788.4 1013.4,781.2 1013.9,809.3 1014.5,791.2 1015.1,798.9 1015.6,797.0 1016.2,807.2 1016.7,793.8 1017.3,794.4 1017.9,797.7 1018.4,811.5 1019.0,794.9 1019.6,814.7 1020.1,822.3 1020.7,795.3 1021.2,806.3 1021.8,824.7 1022.4,814.2 1022.9,806.3 1023.5,796.1 1024.0,810.2 1024.6,817.7 1025.2,821.2 1025.7,825.5 1026.3,811.1 1026.9,819.5 1027.4,803.6 1028.0,819.7 1028.5,799.7 1029.1,814.8 1029.7,812.4 1030.2,814.6 1030.8,815.5 1031.3,796.2 1031.9,823.4 1032.5,821.5 1033.0,818.7 1033.6,808.8 1034.2,828.9 1034.7,801.1 1035.3,829.7 1035.8,825.2 1036.4,817.9 1037.0,817.7 1037.5,831.4 1038.1,810.4 1038.7,800.5 1039.2,821.9 1039.8,813.4 1040.3,814.0 1040.9,794.5 1041.5,820.9 1042.0,818.7 1042.6,827.6 1043.1,820.6 1043.7,828.5 1044.3,830.1 1044.8,829.1 1045.4,816.3 1046.0,831.2 1046.5,817.9 1047.1,830.2 1047.6,815.3 1048.2,844.5 1048.8,844.2 1049.3,823.3 1049.9,813.8 1050.5,837.4 1051.0,859.4 1051.6,819.6 1052.1,827.5 1052.7,842.9 1053.3,817.8 1053.8,818.8 1054.4,842.9 1054.9,840.7 1055.5,828.3 1056.1,828.8 1056.6,821.2 1057.2,831.9 1057.8,815.5 1058.3,843.9 1058.9,851.2 1059.4,848.2 1060.0,850.7 1060.6,843.2 1061.1,852.8 1061.7,832.9 1062.3,828.7 1062.8,824.2 1063.4,850.8 1063.9,861.7 1064.5,850.5 1065.1,845.5 1065.6,852.9 1066.2,841.4 1066.7,841.6 1067.3,844.1 1067.9,860.5 1068.4,839.2 1069.0,861.7 1069.6,885.1 1070.1,854.1 1070.7,838.1 1071.2,853.9 1071.8,876.7 1072.4,860.0 1072.9,841.5 1073.5,854.6 1074.1,859.0 1074.6,874.7 1075.2,859.5 1075.7,868.4 1076.3,841.0 1076.9,856.3 1077.4,850.3 1078.0,884.0 1078.5,862.1 1079.1,851.9 1079.7,841.5 1080.2,846.8 1080.8,874.9 1081.4,829.0 1081.9,867.1 1082.5,869.4 1083.0,870.1 1083.6,881.9 1084.2,871.5 1084.7,876.8 1085.3,874.3 1085.8,878.1 1086.4,872.7 1087.0,860.6 1087.5,880.0 1088.1,887.5 1088.7,863.7 1089.2,872.4 1089.8,863.2 1090.3,885.8 1090.9,875.0 1091.5,885.6 1092.0,893.6 1092.6,882.1 1093.2,877.5 1093.7,872.1 1094.3,893.9 1094.8,867.3 1095.4,863.6 1096.0,873.9 1096.5,884.9 1097.1,891.6 1097.6,866.7 1098.2,892.2 1098.8,863.7 1099.3,908.9 1099.9,911.0 1100.5,876.6 1101.0,901.6 1101.6,870.0 1102.1,890.3 1102.7,892.0 1103.3,880.7 1103.8,870.7 1104.4,874.5 1105.0,889.0 1105.5,891.6 1106.1,876.1 1106.6,899.0 1107.2,902.1 1107.8,901.9 1108.3,847.3 1108.9,869.1 1109.4,882.3 1110.0,894.4 1110.6,882.5 1111.1,914.8 1111.7,894.4 1112.3,878.5 1112.8,888.6 1113.4,909.2 1113.9,893.4 1114.5,895.7 1115.1,874.5 1115.6,882.1 1116.2,891.7 1116.8,865.2 1117.3,901.8 1117.9,878.8 1118.4,888.6 1119.0,897.0 1119.6,903.4 1120.1,889.1 1120.7,876.2 1121.2,922.3 1121.8,896.5 1122.4,885.5 1122.9,910.7 1123.5,910.2 1124.1,880.3 1124.6,903.9 1125.2,906.5 1125.7,895.2 1126.3,897.5 1126.9,894.0 1127.4,894.4 1128.0,883.0 1128.5,898.0 1129.1,891.1 1129.7,916.4 1130.2,901.7 1130.8,913.4 1131.4,885.8 1131.9,901.9 1132.5,890.0 1133.0,910.6 1133.6,922.1 1134.2,897.4 1134.7,911.4 1135.3,932.7 1135.9,914.7 1136.4,922.6 1137.0,891.5 1137.5,913.0 1138.1,902.1 1138.7,905.1 1139.2,895.8 1139.8,906.8 1140.3,906.5 1140.9,908.5 1141.5,936.3 1142.0,915.7 1142.6,935.7 1143.2,936.1 1143.7,917.1 1144.3,947.7 1144.8,923.6 1145.4,906.4 1146.0,922.8 1146.5,911.5 1147.1,940.4 1147.7,924.9 1148.2,970.3 1148.8,944.0 1149.3,937.7 1149.9,901.6 1150.5,899.0 1151.0,961.3 1151.6,935.5 1152.1,941.5 1152.7,906.3 1153.3,917.3 1153.8,936.4 1154.4,918.9 1155.0,913.7 1155.5,942.8 1156.1,917.6 1156.6,924.2 1157.2,921.7 1157.8,962.6 1158.3,935.5 1158.9,976.5 1159.5,930.3 1160.0,948.7 1160.6,915.8 1161.1,914.8 1161.7,966.2 1162.3,914.1 1162.8,945.2 1163.4,923.1 1163.9,936.4 1164.5,944.9 1165.1,943.7 1165.6,948.2 1166.2,918.8 1166.8,939.9 1167.3,958.8 1167.9,931.8 1168.4,950.8 1169.0,935.1 1169.6,957.1 1170.1,938.8 1170.7,960.9 1171.3,959.1 1171.8,940.8 1172.4,932.4 1172.9,944.2 1173.5,948.7 1174.1,908.3 1174.6,950.3 1175.2,997.6 1175.7,939.8 1176.3,959.8 1176.9,977.6 1177.4,934.1 1178.0,937.7 1178.6,958.7 1179.1,961.4 1179.7,953.4 1180.2,936.7 1180.8,971.0 1181.4,932.6 1181.9,950.8 1182.5,948.4 1183.0,930.5 1183.6,961.2 1184.2,945.9 1184.7,956.6 1185.3,1018.9 1185.9,961.5 1186.4,958.7 1187.0,963.0 1187.5,939.9 1188.1,970.6 1188.7,953.1 1189.2,956.5 1189.8,955.3 1190.4,997.5 1190.9,972.9 1191.5,974.0 1192.0,938.4 1192.6,972.7 1193.2,955.8 1193.7,963.0 1194.3,995.7 1194.8,990.9 1195.4,964.6 1196.0,956.8 1196.5,943.0 1197.1,976.1 1197.7,997.4 1198.2,973.7 1198.8,1000.7 1199.3,949.3 1199.9,980.5 1200.5,975.7 1201.0,942.6 1201.6,968.0 1202.2,1002.8 1202.7,968.6 1203.3,990.9 1203.8,1004.1 1204.4,996.0 1205.0,1009.1 1205.5,970.2 1206.1,998.3 1206.6,989.4 1207.2,962.4 1207.8,986.3 1208.3,992.5 1208.9,980.7 1209.5,995.4 1210.0,982.8 1210.6,988.8 1211.1,968.4 1211.7,992.8 1212.3,1004.5 1212.8,994.6 1213.4,1036.0 1214.0,990.9 1214.5,972.7 1215.1,952.7 1215.6,981.7 1216.2,965.7 1216.8,1031.7 1217.3,964.8 1217.9,982.2 1218.4,968.2 1219.0,1002.4 1219.6,984.1 1220.1,989.3 1220.7,1002.6 1221.3,996.4 1221.8,966.1 1222.4,1029.5 1222.9,1002.9 1223.5,986.8 1224.1,969.7 1224.6,1021.8 1225.2,1028.0 1225.7,1046.1 1226.3,993.0 1226.9,1003.8 1227.4,1001.2 1228.0,1003.1 1228.6,1043.1 1229.1,980.3 1229.7,983.6 1230.2,1033.7 1230.8,1019.7 1231.4,1026.1 1231.9,1022.5 1232.5,969.3 1233.1,986.0 1233.6,1030.5 1234.2,967.0 1234.7,996.9 1235.3,1003.4 1235.9,1026.0 1236.4,1024.9 1237.0,1012.1 1237.5,954.2 1238.1,1033.8 1238.7,1026.3 1239.2,991.8 1239.8,1006.8 1240.4,1029.4 1240.9,959.2 1241.5,1017.6 1242.0,1026.6 1242.6,1017.8 1243.2,1001.5 1243.7,999.7 1244.3,993.9 1244.9,1008.5 1245.4,1025.2 1246.0,986.2 1246.5,1020.0 1247.1,1029.7 1247.7,1001.1 1248.2,992.2 1248.8,1028.9 1249.3,1029.8 1249.9,1023.2 1250.5,1037.8 1251.0,1029.0 1251.6,1004.2 1252.2,1007.1 1252.7,1062.6 1253.3,991.0 1253.8,993.4 1254.4,1050.7 1255.0,993.0 1255.5,1057.7 1256.1,993.9 1256.7,1038.1 1257.2,1014.2 1257.8,1021.0 1258.3,1012.6 1258.9,1060.2 1259.5,994.5 1260.0,1011.0 1260.6,1024.2 1261.1,1001.4 1261.7,1030.8 1262.3,986.5 1262.8,999.7 1263.4,987.6 1264.0,1049.4 1264.5,1026.3 1265.1,1062.6 1265.6,1028.0 1266.2,1052.8 1266.8,1055.3 1267.3,1014.8 1267.9,1038.4 1268.5,1011.8 1269.0,1062.6 1269.6,1058.1 1270.1,1032.1 1270.7,1062.6 1271.3,1062.6 1271.8,1043.1 1272.4,1062.6 1272.9,1034.1 1273.5,1062.6 1274.1,1027.0 1274.6,1062.6 1275.2,1012.5 1275.8,1062.6 1276.3,1019.6 1276.9,1062.6 1277.4,1016.3 1278.0,1050.6 1278.6,1062.6 1279.1,1035.0 1279.7,1062.6 1280.2,1055.7 1280.8,1052.6 1281.4,1031.5 1281.9,1062.6 1282.5,1037.7 1283.1,1062.6 1283.6,1062.6 1284.2,1041.6 1284.7,1023.8 1285.3,1053.7 1285.9,1061.5 1286.4,1043.9 1287.0,1041.4 1287.6,1062.6 1288.1,990.6 1288.7,1062.6 1289.2,1062.6 1289.8,1058.0 1290.4,1047.0 1290.9,1059.5 1291.5,1062.6 1292.0,1060.7 1292.6,1046.4 1293.2,1062.6 1293.7,1062.6 1294.3,1057.6 1294.9,1058.2 1295.4,1062.6 1296.0,1007.6 1296.5,1039.0 1297.1,1023.4 1297.7,1037.5 1298.2,1062.6 1298.8,1016.2 1299.4,1062.6 1299.9,1062.6 1300.5,1058.9 1301.0,1062.6 1301.6,1049.1 1302.2,1044.6 1302.7,1062.6 1303.3,1026.6 1303.8,1062.6 1304.4,1055.5 1305.0,1050.2 1305.5,1023.4 1306.1,1047.7 1306.7,1062.6 1307.2,1055.8 1307.8,1062.6 1308.3,1062.6 1308.9,1059.2 1309.5,1042.6 1310.0,1062.6 1310.6,1061.1 1311.2,1047.3 1311.7,1052.5 1312.3,1052.4 1312.8,1062.6 1313.4,1062.6 1314.0,1049.1 1314.5,1062.6 1315.1,1062.6 1315.6,1062.6 1316.2,1061.1 1316.8,1062.6 1317.3,1062.6 1317.9,1062.6 1318.5,1062.6 1319.0,1062.6 1319.6,1062.6 1320.1,1062.6 1320.7,1062.6 1321.3,1057.2 1321.8,1062.6 1322.4,1062.6 1322.9,1062.6 1323.5,1062.6 1324.1,1062.6 1324.6,1062.6 1325.2,1062.6 1325.8,1062.6 1326.3,1048.1 1326.9,1062.6 1327.4,1062.6 1328.0,1062.6 1328.6,1062.6 1329.1,1062.6 1329.7,1062.6 1330.3,1062.6 1330.8,1062.6 1331.4,1062.6 1331.9,1062.6 1332.5,1062.6 1333.1,1062.6 1333.6,1062.6 1334.2,1062.6 1334.7,1062.6 1335.3,1062.6 1335.9,1062.6 1336.4,1062.6 1337.0,1062.6 1337.6,1062.6 1338.1,1062.6 1338.7,1062.6 1339.2,1062.6 1339.8,1062.6 1340.4,1058.5 1340.9,1062.6 1341.5,1062.6 1342.1,1062.6 1342.6,1062.6 1343.2,1062.6 1343.7,1062.6 1344.3,1062.6 1344.9,1062.6 1345.4,1062.6 1346.0,1062.6 1346.5,1062.6 1347.1,1062.6 1347.7,1062.6 1348.2,1062.6 1348.8,1062.6 1349.4,1062.6 1349.9,1062.6 1350.5,1062.6 1351.0,1062.6 1351.6,1046.3 1352.2,1062.6 1352.7,1062.6 1353.3,1062.6 1353.9,1062.6 1354.4,1062.6 1355.0,1062.6 1355.5,1062.6 1356.1,1062.6 1356.7,1062.6 1357.2,1062.6 1357.8,1062.6 1358.3,1062.6 1358.9,1062.6 1359.5,1062.6 1360.0,1062.6 1360.6,1062.6 1361.2,1062.6 1361.7,1062.6 1362.3,1062.6 1362.8,1062.6 1363.4,1062.6 1364.0,1062.6 1364.5,1062.6 1365.1,1062.6 1365.7,1062.6 1366.2,1062.6 1366.8,1062.6 1367.3,1062.6 1367.9,1062.6 1368.5,1062.6 1369.0,1062.6 1369.6,1062.6 1370.1,1062.6 1370.7,1062.6 1371.3,1062.6 1371.8,1062.6 1372.4,1062.6 1373.0,1062.6 1373.5,1062.6 1374.1,1062.6 1374.6,1062.6 1375.2,1062.6 1375.8,1062.6 1376.3,1062.6 1376.9,1062.6 1377.4,1062.6 1378.0,1062.6 1378.6,1062.6 1379.1,1062.6 1379.7,1062.6 1380.3,1062.6 1380.8,1062.6 1381.4,1062.6 1381.9,1062.6 1382.5,1062.6 1383.1,1062.6 1383.6,1062.6 1384.2,1062.6 1384.8,1062.6 1385.3,1062.6 1385.9,1062.6 1386.4,1062.6 1387.0,1062.6 1387.6,1062.6 1388.1,1062.6 1388.7,1062.6 1389.2,1062.6 1389.8,1062.6 1390.4,1062.6 1390.9,1062.6 1391.5,1062.6 1392.1,1062.6 1392.6,1062.6 1393.2,1062.6 1393.7,1062.6 1394.3,1062.6 1394.9,1062.6 1395.4,1062.6 1396.0,1062.6 1396.6,1062.6 1397.1,1062.6 1397.7,1062.6 1398.2,1062.6 1398.8,1062.6 1399.4,1062.6 1399.9,1062.6 1400.5,1062.6 1401.0,1062.6 1401.6,1062.6 1402.2,1062.6 1402.7,1062.6 1403.3,1062.6 1403.9,1062.6 1404.4,1062.6 1405.0,1062.6 1405.5,1062.6 1406.1,1062.6 1406.7,1062.6 1407.2,1062.6 1407.8,1062.6 1408.4,1062.6 1408.9,1062.6 1409.5,1062.6 1410.0,1062.6 1410.6,1062.6 1411.2,1062.6 1411.7,1062.6 1412.3,1062.6 1412.8,1062.6 1413.4,1062.6 1414.0,1062.6 1414.5,1062.6 1415.1,1062.6 1415.7,1062.6 1416.2,1062.6 1416.8,1062.6 1417.3,1062.6 1417.9,1062.6 1418.5,1062.6 1419.0,1062.6 1419.6,1062.6 1420.1,1062.6 1420.7,1062.6 1421.3,1062.6 1421.8,1062.6 1422.4,1062.6 1423.0,1062.6 1423.5,1062.6 1424.1,1062.6 1424.6,1062.6 1425.2,1062.6 1425.8,1062.6 1426.3,1062.6 1426.9,1062.6 1427.5,1062.6 1428.0,1062.6 1428.6,1062.6 1429.1,1062.6 1429.7,1062.6 1430.3,1062.6 1430.8,1062.6 1431.4,1062.6 1431.9,1062.6 1432.5,1062.6 1433.1,1062.6 1433.6,1062.6 1434.2,1062.6" stroke="#00ff00"/>
<polyline points="318.9,75.3 319.5,78.4 320.0,77.2 320.6,79.0 321.2,78.2 321.7,78.4 322.3,82.1 322.9,79.3 323.4,82.2 324.0,79.1 324.5,81.5 325.1,83.9 325.7,83.5 326.2,84.1 326.8,84.5 327.4,83.6 327.9,85.4 328.5,84.4 329.0,86.5 329.6,88.2 330.2,90.7 330.7,91.4 331.3,89.5 331.8,89.4 332.4,88.9 333.0,92.5 333.5,92.1 334.1,94.0 334.7,94.0 335.2,97.3 335.8,93.6 336.3,96.3 336.9,95.9 337.5,95.8 338.0,96.5 338.6,99.6 339.2,96.0 339.7,97.7 340.3,98.7 340.8,101.0 341.4,103.0 342.0,103.7 342.5,102.2 343.1,102.2 343.6,104.1 344.2,101.0 344.8,103.8 345.3,103.4 345.9,104.1 346.5,107.7 347.0,105.2 347.6,106.6 348.1,109.8 348.7,107.4 349.3,107.5 349.8,108.2 350.4,108.7 350.9,113.0 351.5,111.9 352.1,112.9 352.6,112.6 353.2,113.2 353.8,112.2 354.3,113.4 354.9,116.4 355.4,114.4 356.0,113.9 356.6,116.5 357.1,119.9 357.7,119.1 358.3,119.0 358.8,121.9 359.4,120.2 359.9,122.5 360.5,119.9 361.1,120.7 361.6,122.5 362.2,124.9 362.7,123.1 363.3,125.2 363.9,125.9 364.4,123.7 365.0,127.2 365.6,128.8 366.1,126.0 366.7,125.0 367.2,125.9 367.8,127.8 368.4,126.3 368.9,130.8 369.5,127.4 370.1,128.1 370.6,132.6 371.2,132.0 371.7,135.3 372.3,135.5 372.9,133.5 373.4,136.9 374.0,135.3 374.5,135.5 375.1,136.6 375.7,135.9 376.2,134.9 376.8,138.4 377.4,137.6 377.9,137.4 378.5,141.2 379.0,142.2 379.6,145.7 380.2,141.6 380.7,141.1 381.3,142.7 381.9,140.6 382.4,142.2 383.0,143.9 383.5,145.9 384.1,147.9 384.7,146.9 385.2,146.8 385.8,148.4 386.3,149.4 386.9,150.1 387.5,148.9 388.0,153.6 388.6,151.8 389.2,151.8 389.7,151.3 390.3,151.9 390.8,154.1 391.4,155.3 392.0,156.9 392.5,153.5 393.1,155.1 393.6,156.3 394.2,158.5 394.8,159.8 395.3,156.4 395.9,159.0 396.5,158.8 397.0,157.1 397.6,163.5 398.1,162.7 398.7,161.4 399.3,161.5 399.8,165.0 400.4,163.9 401.0,165.4 401.5,166.0 402.1,164.9 402.6,165.8 403.2,164.7 403.8,166.3 404.3,165.3 404.9,170.0 405.4,168.4 406.0,172.3 406.6,173.3 407.1,173.4 407.7,170.3 408.3,171.8 408.8,175.7 409.4,171.0 409.9,172.2 410.5,174.9 411.1,175.6 411.6,175.8 412.2,178.5 412.8,172.8 413.3,178.4 413.9,178.5 414.4,179.3 415.0,180.5 415.6,181.5 416.1,179.9 416.7,183.3 417.2,183.6 417.8,183.8 418.4,181.4 418.9,185.3 419.5,185.9 420.1,184.1 420.6,187.3 421.2,186.5 421.7,184.8 422.3,186.3 422.9,187.6 423.4,185.5 424.0,189.6 424.6,190.6 425.1,193.3 425.7,190.6 426.2,190.1 426.8,193.1 427.4,189.0 427.9,191.1 428.5,191.9 429.0,196.5 429.6,194.3 430.2,194.7 430.7,199.8 431.3,196.6 431.9,197.6 432.4,201.1 433.0,197.4 433.5,195.1 434.1,198.1 434.7,201.8 435.2,201.2 435.8,199.2 436.4,203.5 436.9,201.9 437.5,203.1 438.0,203.4 438.6,201.2 439.2,207.8 439.7,203.3 440.3,205.6 440.8,206.9 441.4,210.5 442.0,207.3 442.5,209.3 443.1,214.9 443.7,212.3 444.2,212.6 444.8,212.8 445.3,212.7 445.9,213.7 446.5,209.6 447.0,211.1 447.6,214.0 448.1,211.7 448.7,210.8 449.3,214.6 449.8,218.9 450.4,216.0 451.0,214.5 451.5,220.0 452.1,218.6 452.6,217.3 453.2,217.4 453.8,218.6 454.3,220.2 454.9,221.8 455.5,223.3 456.0,220.7 456.6,221.4 457.1,224.9 457.7,226.0 458.3,222.5 458.8,223.6 459.4,227.8 459.9,230.2 460.5,227.1 461.1,226.2 461.6,226.4 462.2,227.2 462.8,232.8 463.3,229.9 463.9,231.4 464.4,232.7 465.0,226.1 465.6,232.2 466.1,232.2 466.7,234.0 467.3,232.4 467.8,231.9 468.4,235.6 468.9,235.5 469.5,237.0 470.1,238.8 470.6,237.5 471.2,236.9 471.7,238.2 472.3,239.3 472.9,243.5 473.4,239.1 474.0,240.0 474.6,237.6 475.1,242.9 475.7,245.2 476.2,246.9 476.8,244.6 477.4,243.9 477.9,243.7 478.5,248.4 479.1,246.6 479.6,243.6 480.2,246.3 480.7,247.7 481.3,248.4 481.9,251.7 482.4,251.8 483.0,250.4 483.5,246.9 484.1,247.6 484.7,251.2 485.2,249.9 485.8,250.9 486.4,249.8 486.9,254.6 487.5,252.9 488.0,251.9 488.6,257.6 489.2,255.3 489.7,255.1 490.3,255.3 490.8,255.6 491.4,255.9 492.0,255.5 492.5,255.1 493.1,258.0 493.7,254.3 494.2,261.1 494.8,261.0 495.3,260.3 495.9,263.5 496.5,265.7 497.0,265.9 497.6,260.5 498.2,265.4 498.7,267.6 499.3,260.4 499.8,264.6 500.4,265.5 501.0,268.9 501.5,266.4 502.1,268.9 502.6,267.6 503.2,268.8 503.8,269.9 504.3,269.3 504.9,272.6 505.5,272.0 506.0,273.5 506.6,271.1 507.1,270.8 507.7,271.1 508.3,278.5 508.8,270.0 509.4,275.3 510.0,275.6 510.5,276.0 511.1,276.6 511.6,273.8 512.2,277.2 512.8,277.3 513.3,276.2 513.9,275.8 514.4,282.3 515.0,283.3 515.6,285.7 516.1,286.2 516.7,281.1 517.3,282.1 517.8,283.0 518.4,282.6 518.9,283.2 519.5,281.5 520.1,280.7 520.6,287.7 521.2,282.3 521.8,283.9 522.3,289.3 522.9,287.3 523.4,289.4 524.0,293.3 524.6,289.3 525.1,294.3 525.7,290.4 526.2,293.8 526.8,292.5 527.4,290.0 527.9,292.4 528.5,295.3 529.1,293.1 529.6,292.4 530.2,292.2 530.7,297.6 531.3,292.9 531.9,296.9 532.4,298.4 533.0,294.3 533.6,296.3 534.1,296.7 534.7,298.7 535.2,304.5 535.8,298.9 536.4,299.1 536.9,301.5 537.5,297.2 538.0,301.9 538.6,298.2 539.2,300.1 539.7,305.7 540.3,306.6 540.9,305.7 541.4,305.5 542.0,304.0 542.5,308.1 543.1,309.9 543.7,301.7 544.2,307.9 544.8,307.8 545.3,304.3 545.9,309.3 546.5,316.7 547.0,309.3 547.6,312.9 548.2,308.9 548.7,317.4 549.3,312.3 549.8,311.1 550.4,309.9 551.0,311.6 551.5,312.3 552.1,315.4 552.7,316.0 553.2,319.4 553.8,314.3 554.3,313.2 554.9,316.3 555.5,321.1 556.0,323.2 556.6,321.2 557.1,315.7 557.7,320.3 558.3,324.1 558.8,322.8 559.4,320.0 560.0,324.8 560.5,324.8 561.1,325.5 561.6,327.1 562.2,319.4 562.8,327.9 563.3,325.3 563.9,323.2 564.5,327.4 565.0,328.8 565.6,328.6 566.1,328.7 566.7,329.9 567.3,331.1 567.8,331.5 568.4,330.5 568.9,326.2 569.5,333.1 570.1,330.1 570.6,333.5 571.2,336.4 571.8,337.5 572.3,333.6 572.9,339.0 573.4,334.3 574.0,337.2 574.6,331.7 575.1,340.4 575.7,334.5 576.3,334.1 576.8,336.3 577.4,341.0 577.9,338.8 578.5,340.0 579.1,341.4 579.6,338.7 580.2,342.2 580.7,341.8 581.3,339.8 581.9,343.9 582.4,345.2 583.0,344.0 583.6,346.7 584.1,353.0 584.7,347.8 585.2,347.3 585.8,351.0 586.4,353.8 586.9,347.0 587.5,351.0 588.0,347.5 588.6,348.5 589.2,345.7 589.7,349.2 590.3,348.7 590.9,347.8 591.4,353.7 592.0,349.6 592.5,349.8 593.1,360.2 593.7,358.3 594.2,354.8 594.8,350.3 595.4,357.5 595.9,361.2 596.5,362.8 597.0,357.0 597.6,357.8 598.2,361.3 598.7,358.6 599.3,361.4 599.8,356.9 600.4,366.1 601.0,363.5 601.5,358.6 602.1,365.1 602.7,366.5 603.2,365.0 603.8,358.3 604.3,364.2 604.9,360.8 605.5,369.4 606.0,367.4 606.6,364.9 607.2,366.9 607.7,370.3 608.3,377.0 608.8,367.6 609.4,367.3 610.0,368.9 610.5,377.3 611.1,376.9 611.6,374.4 612.2,376.6 612.8,369.5 613.3,377.9 613.9,375.7 614.5,379.1 615.0,382.1 615.6,372.4 616.1,376.0 616.7,379.8 617.3,377.6 617.8,386.6 618.4,372.9 619.0,383.3 619.5,387.3 620.1,384.5 620.6,380.1 621.2,381.5 621.8,379.5 622.3,379.9 622.9,383.0 623.4,379.7 624.0,391.5 624.6,383.0 625.1,383.5 625.7,384.5 626.3,387.0 626.8,389.1 627.4,389.9 627.9,394.9 628.5,390.6 629.1,384.9 629.6,384.0 630.2,392.2 630.8,393.0 631.3,393.4 631.9,392.4 632.4,392.4 633.0,391.0 633.6,387.7 634.1,402.5 634.7,399.0 635.2,397.1 635.8,395.9 636.4,394.6 636.9,389.5 637.5,401.2 638.1,395.1 638.6,398.7 639.2,398.6 639.7,398.1 640.3,396.4 640.9,400.0 641.4,405.8 642.0,399.6 642.5,400.0 643.1,409.4 643.7,401.3 644.2,404.1 644.8,405.0 645.4,404.4 645.9,398.0 646.5,413.3 647.0,405.7 647.6,415.4 648.2,407.5 648.7,404.1 649.3,416.8 649.9,404.2 650.4,407.6 651.0,410.8 651.5,411.6 652.1,411.4 652.7,411.5 653.2,412.5 653.8,408.2 654.3,409.8 654.9,418.0 655.5,409.6 656.0,406.8 656.6,408.2 657.2,414.6 657.7,423.8 658.3,419.4 658.8,418.1 659.4,418.4 660.0,425.5 660.5,416.3 661.1,415.5 661.7,426.5 662.2,424.2 662.8,425.9 663.3,421.5 663.9,416.9 664.5,432.8 665.0,415.9 665.6,419.2 666.1,430.6 666.7,417.2 667.3,419.8 667.8,423.3 668.4,424.8 669.0,431.3 669.5,425.1 670.1,432.0 670.6,428.2 671.2,424.0 671.8,431.3 672.3,433.2 672.9,428.0 673.5,426.5 674.0,426.8 674.6,433.2 675.1,425.9 675.7,425.2 676.3,435.4 676.8,431.3 677.4,443.8 677.9,436.1 678.5,441.1 679.1,435.7 679.6,440.0 680.2,449.6 680.8,434.9 681.3,443.7 681.9,433.1 682.4,432.3 683.0,437.1 683.6,441.0 684.1,439.9 684.7,449.1 685.2,441.7 685.8,437.8 686.4,439.6 686.9,449.2 687.5,436.6 688.1,442.2 688.6,450.3 689.2,443.5 689.7,451.4 690.3,449.5 690.9,447.2 691.4,438.4 692.0,435.8 692.6,457.2 693.1,449.9 693.7,451.0 694.2,447.2 694.8,449.3 695.4,455.0 695.9,450.6 696.5,456.4 697.0,457.9 697.6,450.9 698.2,453.5 698.7,458.3 699.3,452.0 699.9,458.3 700.4,460.9 701.0,457.8 701.5,454.3 702.1,461.6 702.7,451.0 703.2,460.6 703.8,458.2 704.4,456.0 704.9,460.8 705.5,464.9 706.0,463.0 706.6,457.2 707.2,456.1 707.7,460.0 708.3,466.5 708.8,470.0 709.4,468.2 710.0,468.2 710.5,464.8 711.1,466.7 711.7,471.5 712.2,463.7 712.8,472.3 713.3,468.2 713.9,473.5 714.5,463.8 715.0,467.9 715.6,469.6 716.2,465.0 716.7,466.4 717.3,479.8 717.8,471.6 718.4,479.3 719.0,477.3 719.5,476.9 720.1,483.4 720.6,482.7 721.2,475.5 721.8,475.9 722.3,474.1 722.9,478.5 723.5,480.5 724.0,480.6 724.6,481.1 725.1,484.4 725.7,479.8 726.3,486.5 726.8,487.5 727.4,491.1 728.0,481.9 728.5,487.3 729.1,485.2 729.6,483.7 730.2,490.2 730.8,484.2 731.3,485.6 731.9,486.5 732.4,498.4 733.0,481.5 733.6,484.9 734.1,485.0 734.7,479.0 735.3,495.7 735.8,478.8 736.4,491.7 736.9,485.7 737.5,484.6 738.1,498.1 738.6,490.8 739.2,496.5 739.7,490.9 740.3,502.9 740.9,484.6 741.4,492.5 742.0,497.0 742.6,501.3 743.1,488.7 743.7,500.2 744.2,492.9 744.8,505.4 745.4,495.4 745.9,510.9 746.5,497.6 747.1,506.4 747.6,507.1 748.2,495.8 748.7,497.7 749.3,506.2 749.9,507.7 750.4,497.0 751.0,513.6 751.5,506.4 752.1,509.7 752.7,505.6 753.2,506.6 753.8,507.8 754.4,514.9 754.9,506.2 755.5,505.3 756.0,511.5 756.6,498.9 757.2,512.7 757.7,510.3 758.3,498.9 758.9,513.2 759.4,512.6 760.0,521.9 760.5,512.9 761.1,516.2 761.7,512.1 762.2,521.4 762.8,507.6 763.3,512.3 763.9,510.5 764.5,518.9 765.0,528.6 765.6,515.4 766.2,518.3 766.7,521.8 767.3,509.0 767.8,517.8 768.4,519.2 769.0,517.8 769.5,518.9 770.1,519.0 770.7,517.1 771.2,521.9 771.8,526.0 772.3,529.0 772.9,522.8 773.5,521.6 774.0,520.2 774.6,531.0 775.1,536.3 775.7,536.4 776.3,518.0 776.8,524.0 777.4,528.5 778.0,530.8 778.5,515.6 779.1,524.7 779.6,525.8 780.2,534.4 780.8,523.9 781.3,534.6 781.9,537.6 782.4,524.1 783.0,531.2 783.6,529.5 784.1,544.6 784.7,537.6 785.3,541.4 785.8,534.7 786.4,537.4 786.9,537.4 787.5,543.0 788.1,529.3 788.6,547.8 789.2,536.5 789.8,540.3 790.3,533.8 790.9,547.7 791.4,534.9 792.0,547.9 792.6,541.0 793.1,544.6 793.7,528.3 794.2,553.4 794.8,549.5 795.4,558.3 795.9,553.4 796.5,548.0 797.1,549.9 797.6,553.7 798.2,553.1 798.7,550.5 799.3,548.7 799.9,538.9 800.4,547.8 801.0,551.3 801.6,554.1 802.1,547.5 802.7,543.7 803.2,555.0 803.8,547.1 804.4,550.6 804.9,569.9 805.5,542.1 806.0,549.2 806.6,566.1 807.2,570.7 807.7,555.7 808.3,561.2 808.9,554.6 809.4,561.4 810.0,550.6 810.5,563.6 811.1,557.0 811.7,555.8 812.2,563.0 812.8,555.1 813.4,561.0 813.9,562.4 814.5,564.3 815.0,581.0 815.6,571.2 816.2,551.6 816.7,567.5 817.3,571.1 817.8,567.2 818.4,567.8 819.0,552.3 819.5,575.4 820.1,572.9 820.7,563.7 821.2,582.0 821.8,581.2 822.3,579.1 822.9,575.4 823.5,563.5 824.0,561.8 824.6,568.1 825.2,558.4 825.7,586.9 826.3,565.6 826.8,578.8 827.4,570.7 828.0,576.7 828.5,585.9 829.1,567.4 829.6,565.8 830.2,574.7 830.8,583.2 831.3,563.2 831.9,596.1 832.5,577.0 833.0,585.7 833.6,584.8 834.1,572.9 834.7,583.9 835.3,573.7 835.8,579.6 836.4,571.9 836.9,575.5 837.5,576.7 838.1,583.2 838.6,584.4 839.2,591.8 839.8,581.7 840.3,580.1 840.9,591.2 841.4,583.6 842.0,592.9 842.6,587.8 843.1,596.3 843.7,588.4 844.3,581.1 844.8,587.4 845.4,603.6 845.9,585.6 846.5,593.6 847.1,582.1 847.6,586.8 848.2,587.4 848.7,595.4 849.3,592.4 849.9,599.9 850.4,593.9 851.0,589.2 851.6,607.3 852.1,598.6 852.7,591.0 853.2,605.1 853.8,598.8 854.4,594.4 854.9,596.1 855.5,594.5 856.1,593.8 856.6,591.0 857.2,603.0 857.7,597.3 858.3,598.5 858.9,611.4 859.4,605.8 860.0,597.5 860.5,600.8 861.1,598.8 861.7,604.7 862.2,605.4 862.8,598.3 863.4,622.0 863.9,620.1 864.5,606.8 865.0,605.6 865.6,603.0 866.2,603.4 866.7,607.6 867.3,619.1 867.9,606.1 868.4,609.0 869.0,619.3 869.5,625.6 870.1,615.8 870.7,607.4 871.2,613.1 871.8,604.7 872.3,617.3 872.9,620.6 873.5,620.2 874.0,615.4 874.6,614.1 875.2,609.6 875.7,618.3 876.3,627.7 876.8,625.0 877.4,616.8 878.0,620.4 878.5,618.5 879.1,625.2 879.7,624.4 880.2,625.4 880.8,626.9 881.3,621.0 881.9,609.6 882.5,623.3 883.0,622.7 883.6,640.7 884.1,620.6 884.7,627.4 885.3,615.1 885.8,622.0 886.4,615.2 887.0,635.5 887.5,621.9 888.1,620.8 888.6,631.8 889.2,619.4 889.8,641.4 890.3,628.0 890.9,634.3 891.4,624.2 892.0,648.9 892.6,624.8 893.1,618.8 893.7,642.0 894.3,625.7 894.8,641.5 895.4,626.9 895.9,625.3 896.5,645.7 897.1,622.0 897.6,637.2 898.2,636.3 898.8,630.6 899.3,629.7 899.9,637.7 900.4,633.1 901.0,633.4 901.6,649.3 902.1,637.6 902.7,638.6 903.2,640.8 903.8,635.5 904.4,646.6 904.9,658.6 905.5,637.5 906.1,640.1 906.6,644.0 907.2,648.9 907.7,626.3 908.3,644.6 908.9,655.4 909.4,643.8 910.0,642.5 910.6,660.3 911.1,642.3 911.7,668.3 912.2,652.8 912.8,642.0 913.4,640.4 913.9,647.2 914.5,644.1 915.0,659.2 915.6,651.4 916.2,646.6 916.7,669.5 917.3,651.0 917.9,648.5 918.4,644.7 919.0,648.1 919.5,646.5 920.1,648.4 920.7,665.0 921.2,665.7 921.8,663.1 922.4,669.9 922.9,651.2 923.5,644.0 924.0,647.8 924.6,658.1 925.2,651.0 925.7,660.6 926.3,657.2 926.8,651.8 927.4,672.6 928.0,668.8 928.5,659.8 929.1,638.2 929.7,658.7 930.2,657.8 930.8,652.5 931.3,670.7 931.9,687.7 932.5,678.3 933.0,677.6 933.6,652.2 934.1,671.3 934.7,671.9 935.3,672.3 935.8,673.2 936.4,672.1 937.0,671.3 937.5,661.5 938.1,671.2 938.6,688.1 939.2,666.5 939.8,669.9 940.3,678.8 940.9,673.5 941.5,682.5 942.0,655.8 942.6,666.5 943.1,674.8 943.7,686.4 944.3,672.4 944.8,673.1 945.4,679.0 945.9,682.8 946.5,661.7 947.1,684.6 947.6,672.5 948.2,670.1 948.8,693.4 949.3,680.6 949.9,673.6 950.4,683.2 951.0,699.4 951.6,678.7 952.1,665.9 952.7,680.9 953.3,682.9 953.8,694.3 954.4,688.9 954.9,683.0 955.5,701.8 956.1,698.1 956.6,688.5 957.2,689.8 957.7,689.3 958.3,691.3 958.9,677.6 959.4,692.9 960.0,692.7 960.6,701.1 961.1,701.9 961.7,694.9 962.2,669.9 962.8,683.6 963.4,708.8 963.9,680.1 964.5,696.0 965.1,710.0 965.6,694.3 966.2,707.8 966.7,705.1 967.3,708.9 967.9,700.8 968.4,721.6 969.0,690.5 969.5,684.2 970.1,702.9 970.7,701.0 971.2,697.7 971.8,704.9 972.4,705.7 972.9,696.6 973.5,693.6 974.0,708.7 974.6,698.0 975.2,702.2 975.7,712.5 976.3,707.2 976.9,727.9 977.4,719.8 978.0,705.1 978.5,702.8 979.1,698.3 979.7,694.8 980.2,722.2 980.8,707.5 981.3,729.2 981.9,712.5 982.5,718.5 983.0,708.2 983.6,714.6 984.2,713.4 984.7,720.5 985.3,715.0 985.8,701.8 986.4,707.6 987.0,716.0 987.5,735.2 988.1,737.2 988.6,718.4 989.2,714.6 989.8,712.7 990.3,716.8 990.9,728.2 991.5,739.6 992.0,712.2 992.6,715.3 993.1,709.3 993.7,741.0 994.3,716.1 994.8,716.0 995.4,735.9 996.0,735.3 996.5,736.6 997.1,734.5 997.6,727.1 998.2,730.8 998.8,712.9 999.3,723.1 999.9,734.7 1000.4,726.0 1001.0,737.0 1001.6,755.4 1002.1,726.5 1002.7,736.8 1003.3,717.7 1003.8,732.5 1004.4,717.3 1004.9,723.5 1005.5,750.4 1006.1,715.7 1006.6,738.5 1007.2,734.9 1007.8,747.8 1008.3,741.7 1008.9,708.5 1009.4,734.6 1010.0,781.2 1010.6,718.5 1011.1,735.5 1011.7,745.5 1012.2,731.6 1012.8,735.2 1013.4,747.5 1013.9,723.6 1014.5,734.6 1015.1,729.0 1015.6,739.4 1016.2,742.8 1016.7,740.9 1017.3,754.9 1017.9,753.9 1018.4,734.5 1019.0,746.0 1019.6,738.9 1020.1,746.1 1020.7,751.8 1021.2,735.2 1021.8,754.2 1022.4,759.1 1022.9,748.8 1023.5,737.4 1024.0,738.1 1024.6,763.3 1025.2,763.2 1025.7,757.7 1026.3,764.1 1026.9,752.8 1027.4,743.3 1028.0,757.4 1028.5,775.9 1029.1,777.4 1029.7,775.5 1030.2,761.7 1030.8,751.1 1031.3,777.0 1031.9,753.5 1032.5,750.9 1033.0,731.5 1033.6,772.8 1034.2,758.7 1034.7,751.9 1035.3,755.4 1035.8,751.1 1036.4,756.9 1037.0,753.0 1037.5,764.0 1038.1,763.8 1038.7,784.9 1039.2,741.0 1039.8,781.3 1040.3,763.1 1040.9,763.4 1041.5,776.2 1042.0,786.5 1042.6,763.8 1043.1,788.5 1043.7,755.1 1044.3,737.9 1044.8,752.6 1045.4,803.5 1046.0,764.5 1046.5,769.2 1047.1,772.9 1047.6,760.7 1048.2,777.5 1048.8,765.4 1049.3,780.8 1049.9,785.8 1050.5,766.5 1051.0,761.3 1051.6,781.8 1052.1,756.2 1052.7,777.5 1053.3,787.3 1053.8,785.7 1054.4,784.7 1054.9,768.8 1055.5,768.8 1056.1,777.4 1056.6,762.6 1057.2,790.9 1057.8,774.3 1058.3,776.8 1058.9,809.6 1059.4,777.3 1060.0,787.8 1060.6,764.1 1061.1,788.7 1061.7,767.1 1062.3,777.3 1062.8,803.8 1063.4,771.0 1063.9,776.7 1064.5,781.1 1065.1,788.1 1065.6,764.3 1066.2,790.5 1066.7,773.3 1067.3,780.2 1067.9,790.3 1068.4,798.2 1069.0,784.7 1069.6,790.5 1070.1,805.5 1070.7,785.6 1071.2,784.2 1071.8,790.7 1072.4,815.3 1072.9,785.4 1073.5,797.1 1074.1,783.4 1074.6,798.5 1075.2,803.3 1075.7,797.2 1076.3,797.0 1076.9,770.8 1077.4,810.6 1078.0,818.0 1078.5,800.5 1079.1,799.9 1079.7,824.7 1080.2,823.3 1080.8,812.8 1081.4,805.0 1081.9,806.2 1082.5,792.3 1083.0,803.7 1083.6,814.0 1084.2,805.5 1084.7,801.3 1085.3,797.8 1085.8,846.9 1086.4,806.0 1087.0,803.2 1087.5,789.7 1088.1,812.8 1088.7,806.9 1089.2,831.4 1089.8,799.5 1090.3,797.4 1090.9,822.5 1091.5,810.0 1092.0,818.0 1092.6,798.6 1093.2,816.0 1093.7,810.7 1094.3,810.7 1094.8,818.8 1095.4,811.9 1096.0,794.7 1096.5,815.7 1097.1,826.3 1097.6,801.7 1098.2,793.2 1098.8,805.2 1099.3,817.4 1099.9,818.7 1100.5,810.6 1101.0,806.0 1101.6,784.6 1102.1,790.9 1102.7,835.3 1103.3,810.8 1103.8,803.3 1104.4,813.3 1105.0,823.8 1105.5,832.3 1106.1,815.4 1106.6,815.1 1107.2,820.3 1107.8,837.8 1108.3,853.7 1108.9,804.9 1109.4,840.7 1110.0,829.9 1110.6,847.6 1111.1,816.0 1111.7,835.6 1112.3,828.6 1112.8,798.1 1113.4,816.7 1113.9,826.4 1114.5,858.0 1115.1,819.1 1115.6,819.4 1116.2,817.6 1116.8,829.2 1117.3,852.7 1117.9,842.5 1118.4,821.6 1119.0,823.7 1119.6,827.5 1120.1,806.6 1120.7,821.9 1121.2,834.1 1121.8,834.0 1122.4,864.3 1122.9,846.6 1123.5,826.0 1124.1,866.2 1124.6,835.8 1125.2,827.8 1125.7,845.9 1126.3,833.6 1126.9,856.7 1127.4,819.3 1128.0,849.0 1128.5,879.6 1129.1,838.4 1129.7,852.3 1130.2,823.1 1130.8,836.3 1131.4,852.2 1131.9,825.8 1132.5,852.9 1133.0,868.7 1133.6,833.2 1134.2,829.9 1134.7,854.1 1135.3,836.6 1135.9,826.1 1136.4,862.0 1137.0,903.6 1137.5,844.9 1138.1,857.4 1138.7,840.6 1139.2,851.5 1139.8,861.6 1140.3,871.6 1140.9,874.7 1141.5,865.4 1142.0,872.0 1142.6,846.2 1143.2,848.0 1143.7,868.5 1144.3,841.8 1144.8,865.4 1145.4,868.0 1146.0,847.9 1146.5,857.2 1147.1,870.9 1147.7,849.9 1148.2,838.8 1148.8,884.4 1149.3,868.0 1149.9,899.5 1150.5,866.5 1151.0,830.6 1151.6,862.1 1152.1,868.7 1152.7,864.3 1153.3,883.3 1153.8,865.3 1154.4,874.1 1155.0,881.4 1155.5,856.3 1156.1,873.5 1156.6,866.6 1157.2,881.5 1157.8,869.1 1158.3,863.2 1158.9,873.1 1159.5,849.8 1160.0,874.1 1160.6,868.0 1161.1,876.1 1161.7,860.0 1162.3,884.9 1162.8,892.2 1163.4,875.5 1163.9,882.3 1164.5,887.6 1165.1,854.1 1165.6,882.7 1166.2,874.5 1166.8,900.0 1167.3,893.7 1167.9,884.1 1168.4,857.9 1169.0,887.6 1169.6,877.4 1170.1,916.4 1170.7,892.8 1171.3,886.9 1171.8,870.3 1172.4,875.8 1172.9,912.3 1173.5,869.5 1174.1,874.7 1174.6,873.3 1175.2,905.8 1175.7,860.9 1176.3,920.1 1176.9,889.0 1177.4,888.3 1178.0,880.2 1178.6,886.2 1179.1,899.5 1179.7,865.4 1180.2,925.4 1180.8,903.3 1181.4,898.8 1181.9,875.9 1182.5,887.2 1183.0,923.5 1183.6,860.3 1184.2,895.7 1184.7,875.0 1185.3,863.4 1185.9,902.0 1186.4,890.2 1187.0,923.1 1187.5,908.8 1188.1,872.5 1188.7,902.0 1189.2,882.4 1189.8,898.7 1190.4,887.3 1190.9,888.5 1191.5,867.4 1192.0,890.7 1192.6,897.8 1193.2,891.5 1193.7,912.1 1194.3,920.8 1194.8,950.7 1195.4,891.8 1196.0,899.3 1196.5,910.1 1197.1,889.5 1197.7,898.5 1198.2,910.7 1198.8,893.8 1199.3,896.5 1199.9,894.0 1200.5,888.3 1201.0,901.1 1201.6,896.1 1202.2,910.0 1202.7,926.4 1203.3,912.8 1203.8,909.4 1204.4,928.3 1205.0,912.1 1205.5,906.5 1206.1,928.5 1206.6,914.5 1207.2,909.4 1207.8,914.4 1208.3,893.4 1208.9,933.8 1209.5,880.5 1210.0,923.7 1210.6,887.8 1211.1,914.3 1211.7,885.6 1212.3,918.2 1212.8,922.6 1213.4,940.8 1214.0,929.0 1214.5,906.9 1215.1,917.1 1215.6,916.6 1216.2,921.3 1216.8,921.4 1217.3,910.0 1217.9,919.7 1218.4,936.9 1219.0,903.9 1219.6,924.2 1220.1,926.0 1220.7,921.1 1221.3,934.2 1221.8,936.4 1222.4,945.7 1222.9,909.8 1223.5,955.2 1224.1,923.8 1224.6,960.1 1225.2,955.5 1225.7,911.2 1226.3,929.8 1226.9,918.5 1227.4,929.5 1228.0,932.5 1228.6,916.6 1229.1,926.4 1229.7,912.7 1230.2,917.7 1230.8,951.0 1231.4,956.8 1231.9,910.2 1232.5,915.2 1233.1,946.5 1233.6,917.8 1234.2,959.2 1234.7,965.4 1235.3,917.5 1235.9,944.0 1236.4,962.5 1237.0,959.2 1237.5,918.1 1238.1,909.7 1238.7,946.2 1239.2,910.3 1239.8,962.2 1240.4,999.1 1240.9,946.6 1241.5,920.2 1242.0,940.1 1242.6,952.2 1243.2,929.8 1243.7,950.1 1244.3,939.2 1244.9,968.2 1245.4,931.2 1246.0,963.4 1246.5,957.4 1247.1,914.9 1247.7,946.1 1248.2,917.5 1248.8,977.4 1249.3,950.3 1249.9,942.1 1250.5,932.0 1251.0,925.4 1251.6,938.3 1252.2,930.8 1252.7,948.0 1253.3,931.8 1253.8,933.6 1254.4,943.3 1255.0,931.8 1255.5,951.2 1256.1,956.4 1256.7,971.4 1257.2,963.7 1257.8,946.2 1258.3,995.7 1258.9,947.3 1259.5,965.9 1260.0,940.2 1260.6,977.2 1261.1,957.1 1261.7,984.1 1262.3,971.6 1262.8,953.4 1263.4,927.3 1264.0,950.0 1264.5,957.9 1265.1,988.9 1265.6,951.9 1266.2,982.0 1266.8,944.1 1267.3,949.3 1267.9,945.2 1268.5,1023.9 1269.0,993.2 1269.6,983.4 1270.1,972.5 1270.7,973.1 1271.3,972.2 1271.8,957.6 1272.4,950.3 1272.9,978.3 1273.5,994.7 1274.1,971.2 1274.6,966.7 1275.2,968.7 1275.8,998.4 1276.3,959.0 1276.9,964.4 1277.4,964.0 1278.0,997.9 1278.6,955.5 1279.1,973.0 1279.7,965.8 1280.2,967.1 1280.8,999.5 1281.4,980.0 1281.9,960.2 1282.5,974.3 1283.1,969.8 1283.6,1002.2 1284.2,1013.7 1284.7,983.1 1285.3,1046.6 1285.9,961.1 1286.4,1000.9 1287.0,947.0 1287.6,1001.3 1288.1,987.9 1288.7,1015.8 1289.2,1020.6 1289.8,980.4 1290.4,973.9 1290.9,1022.0 1291.5,975.4 1292.0,1002.2 1292.6,1010.4 1293.2,985.6 1293.7,965.5 1294.3,997.1 1294.9,1004.6 1295.4,986.5 1296.0,1008.3 1296.5,978.5 1297.1,1007.1 1297.7,996.8 1298.2,1045.7 1298.8,1009.0 1299.4,1038.4 1299.9,963.2 1300.5,1014.6 1301.0,994.5 1301.6,993.3 1302.2,1005.1 1302.7,1007.9 1303.3,980.2 1303.8,971.7 1304.4,979.3 1305.0,992.3 1305.5,1012.3 1306.1,998.2 1306.7,988.2 1307.2,961.9 1307.8,991.9 1308.3,1018.7 1308.9,1020.0 1309.5,1006.5 1310.0,1005.5 1310.6,968.5 1311.2,993.4 1311.7,985.4 1312.3,1017.7 1312.8,1038.6 1313.4,949.4 1314.0,956.1 1314.5,987.5 1315.1,982.6 1315.6,1019.9 1316.2,972.3 1316.8,940.5 1317.3,1006.8 1317.9,995.8 1318.5,985.7 1319.0,1016.6 1319.6,1011.1 1320.1,1002.3 1320.7,1029.2 1321.3,995.0 1321.8,1040.6 1322.4,1010.1 1322.9,1012.9 1323.5,1002.0 1324.1,1026.2 1324.6,1051.8 1325.2,1020.0 1325.8,1016.7 1326.3,983.3 1326.9,1015.3 1327.4,994.6 1328.0,1015.0 1328.6,1014.8 1329.1,1025.1 1329.7,1061.5 1330.3,1058.6 1330.8,1062.6 1331.4,1025.0 1331.9,981.7 1332.5,1057.7 1333.1,996.1 1333.6,976.6 1334.2,1017.7 1334.7,1000.6 1335.3,1026.7 1335.9,1041.8 1336.4,1042.8 1337.0,1038.6 1337.6,1007.4 1338.1,1015.9 1338.7,1041.3 1339.2,996.8 1339.8,1017.8 1340.4,1050.7 1340.9,1016.9 1341.5,988.9 1342.1,991.8 1342.6,1053.1 1343.2,1011.4 1343.7,1022.6 1344.3,995.1 1344.9,979.2 1345.4,1062.6 1346.0,1006.6 1346.5,1062.6 1347.1,1024.0 1347.7,993.3 1348.2,995.3 1348.8,1048.1 1349.4,989.7 1349.9,1043.1 1350.5,1031.4 1351.0,1062.6 1351.6,1047.9 1352.2,1062.6 1352.7,1016.2 1353.3,1054.6 1353.9,1009.1 1354.4,1055.5 1355.0,1009.0 1355.5,1015.7 1356.1,1039.1 1356.7,1020.5 1357.2,1000.4 1357.8,996.7 1358.3,1045.2 1358.9,1039.8 1359.5,1010.1 1360.0,971.0 1360.6,1018.9 1361.2,1062.6 1361.7,1062.6 1362.3,1047.9 1362.8,1036.5 1363.4,1062.6 1364.0,1062.6 1364.5,1037.5 1365.1,1054.5 1365.7,1043.0 1366.2,1062.6 1366.8,1062.6 1367.3,1018.6 1367.9,1053.7 1368.5,1062.6 1369.0,1027.4 1369.6,1058.2 1370.1,1024.0 1370.7,1036.7 1371.3,1055.1 1371.8,1059.4 1372.4,1023.4 1373.0,1062.6 1373.5,1037.4 1374.1,1016.9 1374.6,1062.6 1375.2,1062.6 1375.8,1053.4 1376.3,1062.6 1376.9,1041.7 1377.4,1062.6 1378.0,1062.6 1378.6,1062.6 1379.1,1023.5 1379.7,1018.7 1380.3,1051.1 1380.8,1038.7 1381.4,1044.7 1381.9,1026.5 1382.5,1004.4 1383.1,995.7 1383.6,1040.5 1384.2,1030.4 1384.8,1062.6 1385.3,1034.8 1385.9,1026.0 1386.4,1062.6 1387.0,1062.6 1387.6,1062.6 1388.1,1062.6 1388.7,1062.6 1389.2,1062.6 1389.8,1062.6 1390.4,1062.6 1390.9,1062.6 1391.5,1043.3 1392.1,1062.6 1392.6,1062.6 1393.2,1060.4 1393.7,1058.8 1394.3,1062.6 1394.9,1047.5 1395.4,1056.1 1396.0,1053.5 1396.6,1019.0 1397.1,1062.6 1397.7,1062.6 1398.2,1062.6 1398.8,1059.2 1399.4,1062.6 1399.9,1062.6 1400.5,1062.6 1401.0,1062.6 1401.6,1062.6 1402.2,1062.6 1402.7,1062.6 1403.3,1062.6 1403.9,1029.9 1404.4,1062.6 1405.0,1062.6 1405.5,1062.6 1406.1,1062.6 1406.7,1062.6 1407.2,1062.6 1407.8,1062.6 1408.4,1062.6 1408.9,1062.6 1409.5,1062.6 1410.0,1062.6 1410.6,1045.9 1411.2,1062.6 1411.7,1029.1 1412.3,1062.6 1412.8,1062.6 1413.4,1062.6 1414.0,1062.6 1414.5,1062.6 1415.1,1062.6 1415.7,1042.9 1416.2,1062.6 1416.8,1062.6 1417.3,1058.0 1417.9,1062.6 1418.5,1062.6 1419.0,1062.6 1419.6,1053.4 1420.1,1062.6 1420.7,1062.6 1421.3,1059.3 1421.8,1062.6 1422.4,1062.6 1423.0,1062.6 1423.5,1042.2 1424.1,1062.6 1424.6,1062.6 1425.2,1062.6 1425.8,1062.6 1426.3,1062.6 1426.9,1062.6 1427.5,1062.6 1428.0,1033.1 1428.6,1062.6 1429.1,1058.9 1429.7,1062.6 1430.3,1062.6 1430.8,1062.6 1431.4,1062.6 1431.9,1062.6 1432.5,1062.6 1433.1,1062.6 1433.6,1062.6 1434.2,1062.6" stroke="#00ffff"/>
<polyline points="318.9,75.3 319.5,76.2 320.0,76.3 320.6,76.9 321.2,76.4 321.7,80.1 322.3,79.4 322.9,81.2 323.4,83.3 324.0,82.9 324.5,82.4 325.1,84.4 325.7,84.0 326.2,82.8 326.8,84.2 327.4,84.8 327.9,85.7 328.5,87.0 329.0,90.0 329.6,86.6 330.2,90.7 330.7,88.9 331.3,89.9 331.8,90.2 332.4,90.6 333.0,92.1 333.5,90.9 334.1,94.7 334.7,92.3 335.2,96.5 335.8,92.9 336.3,96.0 336.9,95.3 337.5,94.3 338.0,100.2 338.6,98.1 339.2,97.4 339.7,97.5 340.3,97.5 340.8,99.2 341.4,99.9 342.0,101.1 342.5,101.5 343.1,102.4 343.6,101.6 344.2,103.4 344.8,103.3 345.3,102.5 345.9,103.7 346.5,106.6 347.0,106.8 347.6,106.2 348.1,108.9 348.7,111.3 349.3,110.6 349.8,108.9 350.4,110.6 350.9,111.4 351.5,110.4 352.1,113.7 352.6,109.3 353.2,113.3 353.8,114.4 354.3,111.5 354.9,116.8 355.4,116.5 356.0,116.5 356.6,118.4 357.1,118.1 357.7,117.3 358.3,118.5 358.8,119.4 359.4,118.4 359.9,117.7 360.5,118.8 361.1,125.1 361.6,120.3 362.2,121.8 362.7,122.9 363.3,125.7 363.9,125.5 364.4,125.7 365.0,128.2 365.6,124.7 366.1,125.8 366.7,127.8 367.2,129.9 367.8,126.9 368.4,128.6 368.9,128.5 369.5,131.5 370.1,127.6 370.6,132.3 371.2,129.5 371.7,136.5 372.3,133.4 372.9,134.3 373.4,139.2 374.0,136.7 374.5,138.2 375.1,139.1 375.7,138.7 376.2,140.0 376.8,138.1 377.4,138.5 377.9,139.4 378.5,141.8 379.0,141.9 379.6,139.0 380.2,142.9 380.7,142.9 381.3,144.5 381.9,143.2 382.4,143.3 383.0,144.0 383.5,145.2 384.1,145.3 384.7,147.5 385.2,146.7 385.8,150.0 386.3,148.8 386.9,148.1 387.5,151.8 388.0,149.4 388.6,150.8 389.2,154.0 389.7,155.4 390.3,155.9 390.8,155.5 391.4,153.8 392.0,154.5 392.5,153.4 393.1,152.3 393.6,157.5 394.2,160.8 394.8,160.4 395.3,162.0 395.9,160.3 396.5,160.6 397.0,158.1 397.6,163.5 398.1,161.9 398.7,162.5 399.3,162.9 399.8,164.2 400.4,160.2 401.0,164.8 401.5,165.0 402.1,164.4 402.6,165.8 403.2,163.7 403.8,169.5 404.3,168.3 404.9,169.5 405.4,169.3 406.0,168.2 406.6,171.5 407.1,174.5 407.7,171.5 408.3,174.0 408.8,171.7 409.4,173.0 409.9,170.3 410.5,173.6 411.1,176.6 411.6,175.1 412.2,174.4 412.8,176.8 413.3,177.6 413.9,178.6 414.4,179.4 415.0,181.0 415.6,177.7 416.1,179.8 416.7,183.7 417.2,179.8 417.8,182.2 418.4,182.5 418.9,183.2 419.5,181.9 420.1,188.7 420.6,185.3 421.2,184.8 421.7,186.7 422.3,190.1 422.9,190.0 423.4,187.8 424.0,186.2 424.6,193.0 425.1,191.1 425.7,190.0 426.2,190.7 426.8,190.8 427.4,190.2 427.9,191.5 428.5,196.3 429.0,194.7 429.6,196.8 430.2,195.3 430.7,193.1 431.3,194.6 431.9,192.8 432.4,195.1 433.0,196.2 433.5,196.9 434.1,200.7 434.7,200.3 435.2,199.5 435.8,199.8 436.4,200.7 436.9,204.2 437.5,205.0 438.0,205.7 438.6,200.7 439.2,205.0 439.7,203.8 440.3,206.1 440.8,206.9 441.4,207.6 442.0,208.5 442.5,208.2 443.1,207.4 443.7,212.0 444.2,210.1 444.8,211.3 445.3,212.2 445.9,210.6 446.5,209.4 447.0,215.8 447.6,213.4 448.1,212.2 448.7,213.2 449.3,218.7 449.8,215.1 450.4,217.5 451.0,218.2 451.5,216.4 452.1,220.6 452.6,218.6 453.2,218.0 453.8,221.6 454.3,222.9 454.9,217.1 455.5,224.1 456.0,220.0 456.6,224.6 457.1,223.5 457.7,225.5 458.3,224.7 458.8,225.2 459.4,228.4 459.9,227.0 460.5,225.3 461.1,229.4 461.6,233.0 462.2,228.3 462.8,231.2 463.3,229.2 463.9,231.4 464.4,232.7 465.0,232.2 465.6,231.4 466.1,232.0 466.7,236.1 467.3,236.8 467.8,237.1 468.4,232.5 468.9,235.1 469.5,238.0 470.1,237.2 470.6,234.3 471.2,240.2 471.7,239.2 472.3,237.1 472.9,237.7 473.4,238.5 474.0,242.4 474.6,241.0 475.1,246.9 475.7,242.9 476.2,244.0 476.8,244.5 477.4,241.1 477.9,244.7 478.5,245.3 479.1,243.8 479.6,241.9 480.2,248.3 480.7,245.4 481.3,248.2 481.9,251.6 482.4,249.9 483.0,248.4 483.5,250.3 484.1,251.3 484.7,250.8 485.2,252.0 485.8,252.5 486.4,254.8 486.9,251.6 487.5,258.9 488.0,253.6 488.6,256.4 489.2,253.4 489.7,258.4 490.3,261.8 490.8,255.6 491.4,254.9 492.0,262.2 492.5,257.4 493.1,258.3 493.7,261.8 494.2,258.6 494.8,262.6 495.3,258.8 495.9,258.8 496.5,263.2 497.0,263.6 497.6,263.1 498.2,268.5 498.7,266.0 499.3,264.9 499.8,260.2 500.4,263.1 501.0,265.9 501.5,269.2 502.1,266.7 502.6,268.0 503.2,272.1 503.8,269.9 504.3,273.2 504.9,271.6 505.5,279.2 506.0,268.0 506.6,273.3 507.1,275.3 507.7,274.8 508.3,277.9 508.8,274.7 509.4,271.5 510.0,274.6 510.5,276.8 511.1,276.8 511.6,276.7 512.2,278.5 512.8,279.6 513.3,278.6 513.9,278.5 514.4,281.1 515.0,279.5 515.6,283.9 516.1,286.0 516.7,286.9 517.3,281.6 517.8,285.0 518.4,283.7 518.9,286.1 519.5,285.6 520.1,284.8 520.6,289.5 521.2,288.0 521.8,283.1 522.3,282.4 522.9,287.5 523.4,288.0 524.0,290.6 524.6,292.4 525.1,288.0 525.7,287.5 526.2,289.9 526.8,290.3 527.4,294.2 527.9,289.7 528.5,292.6 529.1,295.5 529.6,291.5 530.2,297.1 530.7,298.0 531.3,295.6 531.9,299.2 532.4,299.8 533.0,295.8 533.6,297.6 534.1,299.8 534.7,297.4 535.2,299.2 535.8,298.0 536.4,298.4 536.9,299.0 537.5,304.7 538.0,299.9 538.6,302.7 539.2,302.0 539.7,303.7 540.3,302.3 540.9,305.3 541.4,306.8 542.0,304.4 542.5,307.5 543.1,310.3 543.7,308.2 544.2,309.0 544.8,309.7 545.3,309.7 545.9,311.7 546.5,312.4 547.0,302.9 547.6,314.0 548.2,311.0 548.7,312.0 549.3,314.8 549.8,315.1 550.4,317.2 551.0,318.2 551.5,310.5 552.1,318.8 552.7,318.8 553.2,314.1 553.8,321.2 554.3,314.0 554.9,318.5 555.5,315.0 556.0,322.0 556.6,321.9 557.1,318.3 557.7,322.1 558.3,323.7 558.8,319.5 559.4,322.8 560.0,325.7 560.5,323.8 561.1,322.9 561.6,325.6 562.2,318.8 562.8,324.2 563.3,326.6 563.9,326.4 564.5,324.7 565.0,329.6 565.6,329.5 566.1,329.1 566.7,330.5 567.3,331.3 567.8,339.4 568.4,333.3 568.9,332.1 569.5,329.4 570.1,335.6 570.6,333.3 571.2,334.8 571.8,334.2 572.3,329.5 572.9,331.0 573.4,331.0 574.0,339.6 574.6,339.6 575.1,335.6 575.7,341.4 576.3,335.9 576.8,329.1 577.4,343.1 577.9,337.2 578.5,340.3 579.1,339.7 579.6,342.3 580.2,347.6 580.7,344.3 581.3,346.0 581.9,347.9 582.4,344.7 583.0,344.1 583.6,348.4 584.1,344.0 584.7,346.1 585.2,345.4 585.8,346.1 586.4,349.7 586.9,341.1 587.5,347.1 588.0,346.5 588.6,350.9 589.2,350.4 589.7,348.3 590.3,354.1 590.9,351.1 591.4,347.7 592.0,354.0 592.5,353.0 593.1,357.9 593.7,354.1 594.2,354.0 594.8,355.7 595.4,354.5 595.9,357.8 596.5,358.0 597.0,354.2 597.6,355.3 598.2,357.8 598.7,353.5 599.3,360.0 599.8,360.7 600.4,358.6 601.0,353.8 601.5,363.1 602.1,363.5 602.7,363.9 603.2,365.6 603.8,368.3 604.3,362.5 604.9,361.9 605.5,363.9 606.0,365.1 606.6,368.5 607.2,365.3 607.7,367.1 608.3,370.9 608.8,368.4 609.4,373.3 610.0,371.4 610.5,373.6 611.1,368.7 611.6,374.4 612.2,370.9 612.8,378.1 613.3,372.8 613.9,371.7 614.5,374.9 615.0,378.2 615.6,378.2 616.1,375.6 616.7,377.0 617.3,379.1 617.8,383.3 618.4,384.0 619.0,380.8 619.5,382.8 620.1,379.5 620.6,378.3 621.2,381.2 621.8,384.3 622.3,383.7 622.9,380.9 623.4,390.0 624.0,381.2 624.6,382.0 625.1,387.5 625.7,385.6 626.3,386.2 626.8,382.4 627.4,385.0 627.9,390.8 628.5,401.3 629.1,381.2 629.6,386.3 630.2,392.2 630.8,397.3 631.3,393.5 631.9,396.4 632.4,387.0 633.0,389.8 633.6,400.8 634.1,391.6 634.7,396.6 635.2,393.7 635.8,398.6 636.4,404.4 636.9,403.5 637.5,397.4 638.1,394.5 638.6,392.6 639.2,393.3 639.7,399.8 640.3,399.0 640.9,398.2 641.4,401.6 642.0,396.7 642.5,404.2 643.1,401.3 643.7,402.8 644.2,402.4 644.8,398.0 645.4,403.4 645.9,402.1 646.5,404.5 647.0,405.5 647.6,400.8 648.2,409.3 648.7,408.2 649.3,404.9 649.9,406.7 650.4,409.2 651.0,411.0 651.5,416.5 652.1,410.3 652.7,414.1 653.2,407.6 653.8,410.9 654.3,423.8 654.9,412.7 655.5,411.1 656.0,415.5 656.6,414.4 657.2,414.5 657.7,414.4 658.3,421.8 658.8,416.6 659.4,412.3 660.0,425.0 660.5,417.0 661.1,430.6 661.7,418.4 662.2,415.3 662.8,417.2 663.3,428.5 663.9,413.3 664.5,421.7 665.0,418.3 665.6,428.6 666.1,428.7 666.7,428.0 667.3,425.1 667.8,423.9 668.4,433.3 669.0,426.2 669.5,424.1 670.1,423.5 670.6,431.0 671.2,432.1 671.8,423.3 672.3,429.1 672.9,433.5 673.5,431.7 674.0,434.3 674.6,432.4 675.1,435.3 675.7,432.7 676.3,435.0 676.8,437.7 677.4,439.4 677.9,436.7 678.5,434.1 679.1,434.9 679.6,439.8 680.2,436.9 680.8,428.9 681.3,446.0 681.9,438.4 682.4,446.3 683.0,437.4 683.6,439.0 684.1,439.4 684.7,443.9 685.2,445.4 685.8,452.4 686.4,446.0 686.9,446.8 687.5,450.4 688.1,449.1 688.6,438.4 689.2,448.1 689.7,450.8 690.3,458.0 690.9,448.4 691.4,454.7 692.0,443.3 692.6,454.8 693.1,454.8 693.7,452.2 694.2,456.8 694.8,451.7 695.4,448.0 695.9,447.7 696.5,451.1 697.0,456.5 697.6,445.6 698.2,442.5 698.7,451.1 699.3,464.8 699.9,454.4 700.4,457.8 701.0,456.2 701.5,454.2 702.1,452.9 702.7,463.8 703.2,457.8 703.8,465.4 704.4,459.7 704.9,451.8 705.5,461.3 706.0,463.4 706.6,455.3 707.2,464.4 707.7,468.7 708.3,462.3 708.8,470.3 709.4,465.9 710.0,468.2 710.5,473.2 711.1,456.2 711.7,470.7 712.2,461.1 712.8,470.4 713.3,465.2 713.9,465.0 714.5,459.1 715.0,472.0 715.6,474.0 716.2,469.6 716.7,473.2 717.3,481.0 717.8,468.6 718.4,475.3 719.0,477.2 719.5,478.3 720.1,471.5 720.6,486.5 721.2,475.1 721.8,481.7 722.3,474.8 722.9,485.0 723.5,465.8 724.0,483.0 724.6,482.4 725.1,487.0 725.7,475.8 726.3,481.9 726.8,491.5 727.4,482.0 728.0,483.3 728.5,491.0 729.1,481.7 729.6,487.2 730.2,485.3 730.8,482.7 731.3,491.2 731.9,482.8 732.4,493.4 733.0,499.0 733.6,492.8 734.1,485.9 734.7,489.7 735.3,497.4 735.8,483.3 736.4,481.2 736.9,496.2 737.5,483.1 738.1,492.3 738.6,490.4 739.2,482.9 739.7,488.7 740.3,509.4 740.9,493.8 741.4,505.2 742.0,496.9 742.6,498.5 743.1,497.8 743.7,491.7 744.2,498.1 744.8,499.6 745.4,500.1 745.9,496.0 746.5,493.0 747.1,483.1 747.6,502.7 748.2,501.6 748.7,503.4 749.3,506.3 749.9,499.2 750.4,506.5 751.0,511.2 751.5,499.6 752.1,495.3 752.7,504.4 753.2,500.6 753.8,504.8 754.4,511.8 754.9,504.5 755.5,507.1 756.0,512.8 756.6,501.6 757.2,508.2 757.7,503.3 758.3,507.1 758.9,514.1 759.4,514.2 760.0,509.8 760.5,511.7 761.1,516.7 761.7,510.6 762.2,519.4 762.8,512.2 763.3,511.6 763.9,532.1 764.5,525.6 765.0,515.9 765.6,515.9 766.2,511.0 766.7,517.2 767.3,521.7 767.8,518.1 768.4,526.5 769.0,515.1 769.5,511.1 770.1,516.2 770.7,526.3 771.2,507.1 771.8,528.9 772.3,529.0 772.9,517.9 773.5,520.1 774.0,527.9 774.6,530.3 775.1,523.8 775.7,526.8 776.3,526.3 776.8,533.4 777.4,536.7 778.0,520.6 778.5,523.9 779.1,533.6 779.6,521.7 780.2,536.5 780.8,542.3 781.3,518.6 781.9,526.3 782.4,537.1 783.0,536.8 783.6,539.7 784.1,540.8 784.7,546.5 785.3,538.5 785.8,527.9 786.4,530.5 786.9,536.2 787.5,543.9 788.1,537.0 788.6,539.4 789.2,531.4 789.8,526.8 790.3,539.7 790.9,546.1 791.4,530.7 792.0,551.5 792.6,555.6 793.1,538.1 793.7,549.2 794.2,540.8 794.8,558.2 795.4,547.4 795.9,556.0 796.5,550.4 797.1,538.7 797.6,543.7 798.2,541.7 798.7,540.5 799.3,547.4 799.9,556.0 800.4,557.6 801.0,545.8 801.6,563.1 802.1,542.3 802.7,541.8 803.2,543.5 803.8,547.2 804.4,536.3 804.9,557.4 805.5,549.1 806.0,551.4 806.6,561.7 807.2,562.7 807.7,560.7 808.3,565.8 808.9,565.8 809.4,573.9 810.0,556.1 810.5,552.7 811.1,557.9 811.7,559.1 812.2,552.8 812.8,563.2 813.4,552.6 813.9,565.8 814.5,569.6 815.0,564.5 815.6,582.5 816.2,567.6 816.7,559.7 817.3,555.9 817.8,570.5 818.4,573.3 819.0,556.1 819.5,561.3 820.1,553.9 820.7,559.5 821.2,562.1 821.8,566.4 822.3,576.4 822.9,577.9 823.5,573.6 824.0,570.5 824.6,576.5 825.2,584.5 825.7,559.3 826.3,585.8 826.8,573.7 827.4,583.4 828.0,576.5 828.5,558.8 829.1,569.1 829.6,579.7 830.2,565.4 830.8,581.5 831.3,565.3 831.9,576.2 832.5,581.2 833.0,577.9 833.6,586.4 834.1,589.7 834.7,582.9 835.3,583.7 835.8,582.3 836.4,578.6 836.9,579.5 837.5,580.3 838.1,585.2 838.6,589.4 839.2,579.9 839.8,589.8 840.3,584.2 840.9,592.2 841.4,587.2 842.0,591.6 842.6,587.1 843.1,578.2 843.7,590.8 844.3,591.5 844.8,595.7 845.4,593.1 845.9,590.8 846.5,599.2 847.1,590.2 847.6,596.8 848.2,595.6 848.7,585.6 849.3,598.0 849.9,595.3 850.4,593.8 851.0,589.1 851.6,604.8 852.1,606.8 852.7,590.4 853.2,589.6 853.8,588.1 854.4,588.8 854.9,601.4 855.5,596.1 856.1,589.9 856.6,591.1 857.2,620.6 857.7,596.8 858.3,597.3 858.9,594.4 859.4,593.3 860.0,595.3 860.5,602.0 861.1,616.1 861.7,601.5 862.2,608.6 862.8,599.4 863.4,610.1 863.9,608.1 864.5,609.7 865.0,602.5 865.6,596.8 866.2,607.0 866.7,595.4 867.3,600.4 867.9,623.4 868.4,622.5 869.0,613.4 869.5,609.8 870.1,625.0 870.7,605.5 871.2,623.4 871.8,604.2 872.3,614.3 872.9,612.3 873.5,627.4 874.0,611.4 874.6,627.9 875.2,618.9 875.7,616.5 876.3,609.4 876.8,619.0 877.4,625.1 878.0,610.7 878.5,614.7 879.1,617.4 879.7,611.2 880.2,617.6 880.8,611.8 881.3,631.3 881.9,618.8 882.5,609.2 883.0,632.9 883.6,627.8 884.1,625.8 884.7,620.3 885.3,618.5 885.8,637.8 886.4,620.4 887.0,628.4 887.5,629.3 888.1,629.8 888.6,634.8 889.2,626.0 889.8,622.5 890.3,626.5 890.9,635.2 891.4,641.3 892.0,629.5 892.6,632.1 893.1,634.6 893.7,639.8 894.3,632.8 894.8,638.7 895.4,630.3 895.9,620.5 896.5,647.2 897.1,629.0 897.6,640.4 898.2,628.8 898.8,619.7 899.3,654.0 899.9,655.3 900.4,660.6 901.0,629.9 901.6,631.6 902.1,645.9 902.7,646.4 903.2,647.3 903.8,647.0 904.4,669.6 904.9,648.7 905.5,655.7 906.1,637.1 906.6,649.2 907.2,655.1 907.7,636.8 908.3,654.7 908.9,651.5 909.4,642.2 910.0,652.3 910.6,657.6 911.1,646.6 911.7,663.7 912.2,663.2 912.8,643.0 913.4,667.8 913.9,633.9 914.5,642.7 915.0,647.3 915.6,656.0 916.2,650.4 916.7,646.7 917.3,654.9 917.9,649.6 918.4,654.7 919.0,670.8 919.5,662.2 920.1,655.3 920.7,666.4 921.2,675.2 921.8,665.5 922.4,669.1 922.9,657.1 923.5,686.2 924.0,647.4 924.6,650.3 925.2,652.3 925.7,655.2 926.3,671.5 926.8,662.1 927.4,649.7 928.0,674.7 928.5,656.3 929.1,681.5 929.7,688.6 930.2,663.7 930.8,688.5 931.3,684.8 931.9,663.9 932.5,660.7 933.0,660.0 933.6,686.3 934.1,673.0 934.7,679.5 935.3,647.7 935.8,658.9 936.4,667.7 937.0,676.3 937.5,686.0 938.1,662.8 938.6,672.1 939.2,673.6 939.8,676.6 940.3,695.3 940.9,682.7 941.5,673.8 942.0,666.7 942.6,660.9 943.1,674.7 943.7,685.3 944.3,694.4 944.8,691.9 945.4,665.7 945.9,669.6 946.5,678.7 947.1,679.7 947.6,667.4 948.2,679.5 948.8,670.4 949.3,694.2 949.9,693.2 950.4,687.6 951.0,686.1 951.6,680.8 952.1,684.7 952.7,668.8 953.3,709.3 953.8,682.6 954.4,687.6 954.9,687.0 955.5,691.1 956.1,690.2 956.6,701.4 957.2,695.4 957.7,670.7 958.3,675.9 958.9,679.6 959.4,688.3 960.0,699.4 960.6,673.0 961.1,701.5 961.7,693.9 962.2,698.2 962.8,707.6 963.4,713.3 963.9,697.4 964.5,712.0 965.1,695.1 965.6,678.3 966.2,705.9 966.7,701.9 967.3,692.9 967.9,690.7 968.4,684.4 969.0,691.6 969.5,697.6 970.1,715.1 970.7,695.7 971.2,705.0 971.8,706.2 972.4,728.1 972.9,703.8 973.5,692.8 974.0,703.8 974.6,698.6 975.2,708.4 975.7,726.3 976.3,692.8 976.9,717.2 977.4,692.5 978.0,728.4 978.5,717.3 979.1,698.9 979.7,720.4 980.2,717.4 980.8,701.3 981.3,702.3 981.9,688.2 982.5,702.7 983.0,711.2 983.6,697.2 984.2,727.1 984.7,704.9 985.3,723.4 985.8,705.5 986.4,714.1 987.0,731.3 987.5,696.0 988.1,706.1 988.6,719.9 989.2,727.9 989.8,722.9 990.3,724.5 990.9,716.7 991.5,722.3 992.0,717.4 992.6,728.1 993.1,700.1 993.7,704.2 994.3,702.6 994.8,726.9 995.4,721.2 996.0,720.2 996.5,732.6 997.1,731.9 997.6,735.8 998.2,729.5 998.8,732.1 999.3,744.5 999.9,716.9 1000.4,727.8 1001.0,717.3 1001.6,721.8 1002.1,709.4 1002.7,716.5 1003.3,737.5 1003.8,725.0 1004.4,727.1 1004.9,731.3 1005.5,741.4 1006.1,732.7 1006.6,735.6 1007.2,731.9 1007.8,727.0 1008.3,768.1 1008.9,745.7 1009.4,747.5 1010.0,726.5 1010.6,727.2 1011.1,734.4 1011.7,725.7 1012.2,734.2 1012.8,726.8 1013.4,746.2 1013.9,748.1 1014.5,718.0 1015.1,735.6 1015.6,738.1 1016.2,734.2 1016.7,733.0 1017.3,748.4 1017.9,745.6 1018.4,725.0 1019.0,739.0 1019.6,742.3 1020.1,771.2 1020.7,758.7 1021.2,736.2 1021.8,739.9 1022.4,752.1 1022.9,735.7 1023.5,740.0 1024.0,768.8 1024.6,739.1 1025.2,751.9 1025.7,758.5 1026.3,741.7 1026.9,734.1 1027.4,749.1 1028.0,750.2 1028.5,748.1 1029.1,756.5 1029.7,759.1 1030.2,763.9 1030.8,772.5 1031.3,746.6 1031.9,750.4 1032.5,753.0 1033.0,757.4 1033.6,747.4 1034.2,747.5 1034.7,778.8 1035.3,742.7 1035.8,763.2 1036.4,768.7 1037.0,754.0 1037.5,758.4 1038.1,772.7 1038.7,750.2 1039.2,765.0 1039.8,782.9 1040.3,765.1 1040.9,770.5 1041.5,766.4 1042.0,769.8 1042.6,757.1 1043.1,757.8 1043.7,778.5 1044.3,749.2 1044.8,766.2 1045.4,777.7 1046.0,762.3 1046.5,784.0 1047.1,778.1 1047.6,779.8 1048.2,763.3 1048.8,752.8 1049.3,779.1 1049.9,783.7 1050.5,775.7 1051.0,761.9 1051.6,776.3 1052.1,773.6 1052.7,784.0 1053.3,753.7 1053.8,802.2 1054.4,780.5 1054.9,789.0 1055.5,778.3 1056.1,763.7 1056.6,758.5 1057.2,796.7 1057.8,788.8 1058.3,789.8 1058.9,793.9 1059.4,788.1 1060.0,792.5 1060.6,794.3 1061.1,766.2 1061.7,779.9 1062.3,773.1 1062.8,781.0 1063.4,789.0 1063.9,795.4 1064.5,776.9 1065.1,785.1 1065.6,795.9 1066.2,788.6 1066.7,768.6 1067.3,809.9 1067.9,780.9 1068.4,784.7 1069.0,788.2 1069.6,806.3 1070.1,789.7 1070.7,788.9 1071.2,784.3 1071.8,807.8 1072.4,788.7 1072.9,764.7 1073.5,793.7 1074.1,789.2 1074.6,780.7 1075.2,818.8 1075.7,781.9 1076.3,802.7 1076.9,826.3 1077.4,801.8 1078.0,800.8 1078.5,787.1 1079.1,808.1 1079.7,816.3 1080.2,793.1 1080.8,804.2 1081.4,800.2 1081.9,788.8 1082.5,813.8 1083.0,809.1 1083.6,812.7 1084.2,815.2 1084.7,806.0 1085.3,817.5 1085.8,816.9 1086.4,782.5 1087.0,801.6 1087.5,792.7 1088.1,810.3 1088.7,799.3 1089.2,827.0 1089.8,806.9 1090.3,818.4 1090.9,811.6 1091.5,803.6 1092.0,805.2 1092.6,847.8 1093.2,814.2 1093.7,801.2 1094.3,818.3 1094.8,831.8 1095.4,817.1 1096.0,803.0 1096.5,806.2 1097.1,805.3 1097.6,813.6 1098.2,820.6 1098.8,849.8 1099.3,819.7 1099.9,807.4 1100.5,810.7 1101.0,796.2 1101.6,814.1 1102.1,834.7 1102.7,847.6 1103.3,816.5 1103.8,810.6 1104.4,828.7 1105.0,805.3 1105.5,820.1 1106.1,835.4 1106.6,814.1 1107.2,810.1 1107.8,830.6 1108.3,825.9 1108.9,867.3 1109.4,828.2 1110.0,821.1 1110.6,830.8 1111.1,826.3 1111.7,831.2 1112.3,850.0 1112.8,818.1 1113.4,825.7 1113.9,825.4 1114.5,856.4 1115.1,826.7 1115.6,816.9 1116.2,843.8 1116.8,814.3 1117.3,844.6 1117.9,810.3 1118.4,850.6 1119.0,839.8 1119.6,832.8 1120.1,828.1 1120.7,896.0 1121.2,822.0 1121.8,851.0 1122.4,841.6 1122.9,807.8 1123.5,842.1 1124.1,851.6 1124.6,812.7 1125.2,822.4 1125.7,832.1 1126.3,814.7 1126.9,829.4 1127.4,824.9 1128.0,840.6 1128.5,830.5 1129.1,840.0 1129.7,869.6 1130.2,812.8 1130.8,850.1 1131.4,865.0 1131.9,846.6 1132.5,842.6 1133.0,865.7 1133.6,857.3 1134.2,854.1 1134.7,852.2 1135.3,844.7 1135.9,839.9 1136.4,844.5 1137.0,849.4 1137.5,844.5 1138.1,855.8 1138.7,875.7 1139.2,866.0 1139.8,839.7 1140.3,871.2 1140.9,875.5 1141.5,839.6 1142.0,864.9 1142.6,857.9 1143.2,869.7 1143.7,861.1 1144.3,872.6 1144.8,857.7 1145.4,849.4 1146.0,873.0 1146.5,853.7 1147.1,882.6 1147.7,848.5 1148.2,852.1 1148.8,873.9 1149.3,865.9 1149.9,867.2 1150.5,910.3 1151.0,882.3 1151.6,879.4 1152.1,871.3 1152.7,883.6 1153.3,875.7 1153.8,867.0 1154.4,871.4 1155.0,880.3 1155.5,848.9 1156.1,867.4 1156.6,886.0 1157.2,888.8 1157.8,864.1 1158.3,894.7 1158.9,889.7 1159.5,866.5 1160.0,873.6 1160.6,905.1 1161.1,838.2 1161.7,875.1 1162.3,898.9 1162.8,883.1 1163.4,873.9 1163.9,880.7 1164.5,892.5 1165.1,863.9 1165.6,899.2 1166.2,897.2 1166.8,899.4 1167.3,867.4 1167.9,868.6 1168.4,892.8 1169.0,879.5 1169.6,877.0 1170.1,895.9 1170.7,898.7 1171.3,867.6 1171.8,904.5 1172.4,877.8 1172.9,885.5 1173.5,872.7 1174.1,892.1 1174.6,895.2 1175.2,910.2 1175.7,883.7 1176.3,879.4 1176.9,912.2 1177.4,886.4 1178.0,892.5 1178.6,957.1 1179.1,906.7 1179.7,900.0 1180.2,919.3 1180.8,881.1 1181.4,902.6 1181.9,900.9 1182.5,867.9 1183.0,901.6 1183.6,869.0 1184.2,893.5 1184.7,898.7 1185.3,877.1 1185.9,934.6 1186.4,914.0 1187.0,920.0 1187.5,913.3 1188.1,940.2 1188.7,916.8 1189.2,910.6 1189.8,898.2 1190.4,869.0 1190.9,936.1 1191.5,917.0 1192.0,895.0 1192.6,880.9 1193.2,901.0 1193.7,923.9 1194.3,892.2 1194.8,915.6 1195.4,900.1 1196.0,896.5 1196.5,906.5 1197.1,901.4 1197.7,923.0 1198.2,892.4 1198.8,925.1 1199.3,906.1 1199.9,892.9 1200.5,922.3 1201.0,910.7 1201.6,904.0 1202.2,921.5 1202.7,907.3 1203.3,915.5 1203.8,945.8 1204.4,927.0 1205.0,924.4 1205.5,901.0 1206.1,932.6 1206.6,899.9 1207.2,907.9 1207.8,922.1 1208.3,903.9 1208.9,941.2 1209.5,916.1 1210.0,921.6 1210.6,932.6 1211.1,918.4 1211.7,900.8 1212.3,913.0 1212.8,945.2 1213.4,912.2 1214.0,909.9 1214.5,932.0 1215.1,965.7 1215.6,920.6 1216.2,925.7 1216.8,911.6 1217.3,886.6 1217.9,955.7 1218.4,937.4 1219.0,937.3 1219.6,966.9 1220.1,931.9 1220.7,949.6 1221.3,907.5 1221.8,913.2 1222.4,912.9 1222.9,927.8 1223.5,931.7 1224.1,918.1 1224.6,900.1 1225.2,910.4 1225.7,929.3 1226.3,925.6 1226.9,964.3 1227.4,934.4 1228.0,977.7 1228.6,938.5 1229.1,942.2 1229.7,925.3 1230.2,913.2 1230.8,939.7 1231.4,959.9 1231.9,951.2 1232.5,962.0 1233.1,977.9 1233.6,978.6 1234.2,948.7 1234.7,961.6 1235.3,924.6 1235.9,927.2 1236.4,955.0 1237.0,934.5 1237.5,936.5 1238.1,942.5 1238.7,952.2 1239.2,913.8 1239.8,911.3 1240.4,925.2 1240.9,943.5 1241.5,928.7 1242.0,911.0 1242.6,964.1 1243.2,949.4 1243.7,945.0 1244.3,950.1 1244.9,925.4 1245.4,923.8 1246.0,934.6 1246.5,953.4 1247.1,963.1 1247.7,965.9 1248.2,928.8 1248.8,909.6 1249.3,938.3 1249.9,937.1 1250.5,952.4 1251.0,958.7 1251.6,966.4 1252.2,951.2 1252.7,946.6 1253.3,926.9 1253.8,945.9 1254.4,956.9 1255.0,984.7 1255.5,921.5 1256.1,939.9 1256.7,971.8 1257.2,943.3 1257.8,937.4 1258.3,934.3 1258.9,950.7 1259.5,934.6 1260.0,949.2 1260.6,968.7 1261.1,954.6 1261.7,943.3 1262.3,961.1 1262.8,953.3 1263.4,972.3 1264.0,974.9 1264.5,1003.0 1265.1,967.1 1265.6,962.0 1266.2,959.5 1266.8,951.3 1267.3,1041.0 1267.9,984.2 1268.5,936.7 1269.0,1014.0 1269.6,956.3 1270.1,966.3 1270.7,1005.0 1271.3,1006.3 1271.8,948.2 1272.4,996.9 1272.9,933.2 1273.5,964.0 1274.1,951.7 1274.6,1000.1 1275.2,980.6 1275.8,962.6 1276.3,943.5 1276.9,1010.1 1277.4,980.7 1278.0,971.1 1278.6,979.5 1279.1,933.2 1279.7,1024.2 1280.2,968.6 1280.8,1036.5 1281.4,971.2 1281.9,1015.7 1282.5,970.0 1283.1,964.7 1283.6,939.6 1284.2,974.2 1284.7,981.1 1285.3,998.5 1285.9,1025.4 1286.4,991.1 1287.0,980.5 1287.6,978.5 1288.1,965.5 1288.7,1001.0 1289.2,1018.9 1289.8,966.8 1290.4,1030.4 1290.9,1022.5 1291.5,984.4 1292.0,967.2 1292.6,958.6 1293.2,963.3 1293.7,973.9 1294.3,998.6 1294.9,984.3 1295.4,1006.5 1296.0,1037.1 1296.5,1008.0 1297.1,971.4 1297.7,985.5 1298.2,994.0 1298.8,988.3 1299.4,962.2 1299.9,969.7 1300.5,1016.3 1301.0,976.0 1301.6,977.0 1302.2,1001.6 1302.7,1002.2 1303.3,968.9 1303.8,1026.2 1304.4,977.1 1305.0,1001.1 1305.5,984.8 1306.1,1024.7 1306.7,1009.5 1307.2,1009.5 1307.8,1011.0 1308.3,1027.4 1308.9,996.8 1309.5,1014.6 1310.0,1006.9 1310.6,983.2 1311.2,1046.6 1311.7,992.7 1312.3,1029.6 1312.8,995.6 1313.4,990.0 1314.0,996.5 1314.5,1003.0 1315.1,1002.0 1315.6,979.5 1316.2,1031.5 1316.8,1033.6 1317.3,998.0 1317.9,1049.3 1318.5,996.5 1319.0,1003.3 1319.6,1020.5 1320.1,1020.3 1320.7,1003.1 1321.3,1011.5 1321.8,1062.6 1322.4,1004.6 1322.9,1004.1 1323.5,1038.5 1324.1,989.9 1324.6,1026.5 1325.2,1006.4 1325.8,993.4 1326.3,1004.9 1326.9,984.7 1327.4,991.8 1328.0,1062.6 1328.6,1062.3 1329.1,995.1 1329.7,966.4 1330.3,983.9 1330.8,1003.8 1331.4,1044.0 1331.9,1019.4 1332.5,1027.4 1333.1,979.6 1333.6,1028.8 1334.2,1036.0 1334.7,1025.8 1335.3,1045.7 1335.9,1062.6 1336.4,991.9 1337.0,1024.1 1337.6,1037.2 1338.1,1020.5 1338.7,1016.6 1339.2,1046.9 1339.8,1041.7 1340.4,1038.1 1340.9,1041.3 1341.5,1042.0 1342.1,1062.6 1342.6,1061.9 1343.2,999.6 1343.7,1012.1 1344.3,1027.0 1344.9,1005.9 1345.4,1018.2 1346.0,1055.4 1346.5,1018.1 1347.1,1045.0 1347.7,1062.6 1348.2,1053.8 1348.8,1047.1 1349.4,1057.6 1349.9,1055.1 1350.5,1049.7 1351.0,1016.8 1351.6,1017.4 1352.2,1013.8 1352.7,1048.7 1353.3,1025.3 1353.9,1031.1 1354.4,1062.6 1355.0,1039.5 1355.5,1018.1 1356.1,1062.6 1356.7,1062.6 1357.2,1021.2 1357.8,1019.3 1358.3,1032.3 1358.9,1020.0 1359.5,1052.4 1360.0,1054.6 1360.6,1039.3 1361.2,1029.8 1361.7,1035.7 1362.3,1059.6 1362.8,1026.0 1363.4,1047.8 1364.0,1062.6 1364.5,1062.6 1365.1,1027.2 1365.7,1062.6 1366.2,1050.7 1366.8,1052.7 1367.3,1062.6 1367.9,1002.7 1368.5,1010.4 1369.0,1062.6 1369.6,1044.8 1370.1,1062.6 1370.7,1062.6 1371.3,1062.5 1371.8,1062.6 1372.4,1057.3 1373.0,1062.6 1373.5,1062.6 1374.1,1062.6 1374.6,1062.6 1375.2,1048.6 1375.8,1056.0 1376.3,1026.9 1376.9,1043.6 1377.4,1062.6 1378.0,1062.6 1378.6,1056.1 1379.1,1062.6 1379.7,1062.6 1380.3,1059.0 1380.8,1062.6 1381.4,1062.6 1381.9,1062.6 1382.5,1044.1 1383.1,1017.9 1383.6,997.0 1384.2,1038.2 1384.8,1047.5 1385.3,1062.6 1385.9,1062.6 1386.4,1006.7 1387.0,1062.6 1387.6,1062.6 1388.1,1062.6 1388.7,1061.1 1389.2,1033.7 1389.8,1062.6 1390.4,1062.6 1390.9,1062.6 1391.5,1062.6 1392.1,1018.7 1392.6,1062.6 1393.2,1056.4 1393.7,1047.8 1394.3,1062.6 1394.9,1056.6 1395.4,1032.6 1396.0,1062.6 1396.6,1062.6 1397.1,1047.2 1397.7,1062.6 1398.2,1062.6 1398.8,1062.6 1399.4,1062.6 1399.9,1062.6 1400.5,1062.6 1401.0,1062.6 1401.6,1062.6 1402.2,1040.5 1402.7,1062.6 1403.3,1062.6 1403.9,1062.6 1404.4,1049.2 1405.0,1062.6 1405.5,1054.8 1406.1,1062.6 1406.7,1062.6 1407.2,1040.3 1407.8,1045.4 1408.4,1060.1 1408.9,1062.6 1409.5,1062.6 1410.0,1062.6 1410.6,1062.6 1411.2,1050.2 1411.7,1062.6 1412.3,1062.6 1412.8,1062.6 1413.4,1062.6 1414.0,1062.6 1414.5,1062.6 1415.1,1062.6 1415.7,1041.8 1416.2,1062.6 1416.8,1062.6 1417.3,1062.6 1417.9,1062.6 1418.5,1062.6 1419.0,1062.6 1419.6,1062.6 1420.1,1062.6 1420.7,1062.6 1421.3,1062.6 1421.8,1062.6 1422.4,1042.4 1423.0,1062.6 1423.5,1062.6 1424.1,1062.6 1424.6,1062.6 1425.2,1057.9 1425.8,1062.6 1426.3,1062.6 1426.9,1062.6 1427.5,1062.6 1428.0,1062.6 1428.6,1062.6 1429.1,1062.6 1429.7,1062.6 1430.3,1062.6 1430.8,1062.6 1431.4,1062.6 1431.9,1062.6 1432.5,1062.6 1433.1,1062.6 1433.6,1062.6 1434.2,1062.6" stroke="#ff00ff"/>
<polyline points="318.9,75.3 319.5,76.2 320.0,77.9 320.6,79.3 321.2,80.7 321.7,78.4 322.3,80.1 322.9,80.6 323.4,80.1 324.0,80.3 324.5,84.0 325.1,79.8 325.7,84.5 326.2,79.4 326.8,81.7 327.4,83.6 327.9,81.5 328.5,83.8 329.0,83.3 329.6,84.6 330.2,83.6 330.7,84.1 331.3,87.4 331.8,87.5 332.4,86.5 333.0,87.8 333.5,91.3 334.1,85.4 334.7,92.0 335.2,92.3 335.8,91.6 336.3,89.4 336.9,88.0 337.5,91.4 338.0,92.1 338.6,91.7 339.2,93.0 339.7,92.8 340.3,95.0 340.8,93.1 341.4,93.7 342.0,98.3 342.5,95.3 343.1,95.3 343.6,95.2 344.2,97.7 344.8,98.9 345.3,98.8 345.9,97.0 346.5,99.6 347.0,99.9 347.6,97.5 348.1,100.8 348.7,101.5 349.3,100.7 349.8,100.7 350.4,99.9 350.9,103.2 351.5,104.7 352.1,103.0 352.6,102.3 353.2,106.0 353.8,104.9 354.3,104.1 354.9,104.7 355.4,105.4 356.0,106.3 356.6,107.6 357.1,108.3 357.7,105.5 358.3,109.5 358.8,106.3 359.4,110.7 359.9,104.7 360.5,112.3 361.1,107.5 361.6,111.9 362.2,111.1 362.7,111.5 363.3,112.8 363.9,108.8 364.4,112.6 365.0,115.2 365.6,112.6 366.1,113.0 366.7,116.3 367.2,114.1 367.8,115.3 368.4,114.6 368.9,115.2 369.5,116.8 370.1,117.9 370.6,116.2 371.2,117.6 371.7,121.0 372.3,119.9 372.9,120.2 373.4,120.3 374.0,116.8 374.5,121.4 375.1,120.5 375.7,119.1 376.2,121.4 376.8,121.9 377.4,121.0 377.9,123.2 378.5,123.7 379.0,123.3 379.6,124.2 380.2,126.4 380.7,127.7 381.3,126.4 381.9,124.4 382.4,127.5 383.0,125.7 383.5,127.4 384.1,129.0 384.7,133.3 385.2,129.0 385.8,130.3 386.3,132.9 386.9,129.9 387.5,131.2 388.0,131.0 388.6,133.2 389.2,132.4 389.7,134.0 390.3,132.0 390.8,134.1 391.4,137.1 392.0,135.0 392.5,135.7 393.1,136.7 393.6,139.2 394.2,135.7 394.8,139.2 395.3,135.9 395.9,140.1 396.5,139.5 397.0,140.1 397.6,140.3 398.1,136.7 398.7,142.5 399.3,138.7 399.8,141.6 400.4,144.4 401.0,141.6 401.5,142.8 402.1,143.2 402.6,147.6 403.2,145.0 403.8,147.0 404.3,147.1 404.9,147.6 405.4,147.9 406.0,145.8 406.6,148.3 407.1,152.7 407.7,147.9 408.3,150.4 408.8,150.9 409.4,154.8 409.9,151.4 410.5,153.5 411.1,151.5 411.6,152.9 412.2,152.8 412.8,155.4 413.3,158.5 413.9,154.1 414.4,155.6 415.0,157.4 415.6,158.4 416.1,159.5 416.7,161.6 417.2,161.0 417.8,159.6 418.4,157.2 418.9,159.7 419.5,158.2 420.1,163.4 420.6,159.9 421.2,163.4 421.7,160.6 422.3,161.5 422.9,164.2 423.4,164.5 424.0,163.1 424.6,167.2 425.1,170.2 425.7,165.4 426.2,163.5 426.8,171.3 427.4,168.0 427.9,171.1 428.5,170.0 429.0,171.8 429.6,168.9 430.2,172.0 430.7,171.9 431.3,174.1 431.9,171.3 432.4,174.1 433.0,174.4 433.5,174.3 434.1,177.4 434.7,175.3 435.2,178.7 435.8,176.7 436.4,177.2 436.9,178.1 437.5,178.2 438.0,179.6 438.6,178.0 439.2,179.5 439.7,180.9 440.3,180.9 440.8,182.3 441.4,181.8 442.0,182.7 442.5,186.0 443.1,180.1 443.7,184.5 444.2,185.4 444.8,184.1 445.3,189.2 445.9,186.5 446.5,185.7 447.0,187.3 447.6,187.2 448.1,188.7 448.7,189.1 449.3,189.0 449.8,189.1 450.4,192.0 451.0,190.0 451.5,190.4 452.1,192.7 452.6,193.2 453.2,192.4 453.8,190.9 454.3,191.6 454.9,195.8 455.5,195.7 456.0,196.3 456.6,195.0 457.1,196.6 457.7,196.2 458.3,194.9 458.8,197.4 459.4,197.6 459.9,198.3 460.5,201.0 461.1,200.3 461.6,201.0 462.2,202.1 462.8,198.7 463.3,201.1 463.9,208.0 464.4,204.8 465.0,204.0 465.6,204.3 466.1,206.5 466.7,206.0 467.3,206.7 467.8,207.4 468.4,205.7 468.9,207.6 469.5,209.2 470.1,209.2 470.6,209.1 471.2,211.9 471.7,211.3 472.3,209.5 472.9,209.3 473.4,216.6 474.0,207.4 474.6,214.1 475.1,211.7 475.7,216.6 476.2,213.0 476.8,214.8 477.4,215.6 477.9,216.6 478.5,217.0 479.1,215.5 479.6,219.1 480.2,218.6 480.7,219.4 481.3,222.6 481.9,219.5 482.4,220.3 483.0,221.8 483.5,224.2 484.1,222.6 484.7,222.7 485.2,222.9 485.8,223.3 486.4,226.5 486.9,222.3 487.5,223.3 488.0,223.9 488.6,225.1 489.2,223.8 489.7,225.6 490.3,225.3 490.8,227.5 491.4,228.4 492.0,227.9 492.5,231.3 493.1,230.8 493.7,230.4 494.2,232.7 494.8,237.4 495.3,233.8 495.9,234.7 496.5,231.7 497.0,238.3 497.6,236.3 498.2,231.6 498.7,241.0 499.3,236.8 499.8,238.2 500.4,241.2 501.0,237.8 501.5,240.4 502.1,245.1 502.6,240.8 503.2,243.0 503.8,238.1 504.3,241.0 504.9,244.1 505.5,241.6 506.0,238.3 506.6,246.1 507.1,246.0 507.7,244.5 508.3,244.6 508.8,244.9 509.4,249.3 510.0,246.1 510.5,249.6 511.1,249.3 511.6,245.9 512.2,250.2 512.8,247.6 513.3,250.4 513.9,249.7 514.4,250.3 515.0,249.7 515.6,250.0 516.1,254.0 516.7,248.9 517.3,251.9 517.8,251.6 518.4,252.0 518.9,256.0 519.5,255.6 520.1,255.7 520.6,255.8 521.2,252.9 521.8,253.1 522.3,249.8 522.9,254.2 523.4,255.0 524.0,259.8 524.6,262.2 525.1,260.6 525.7,261.9 526.2,264.3 526.8,262.9 527.4,261.8 527.9,263.2 528.5,261.7 529.1,262.9 529.6,263.9 530.2,262.4 530.7,266.3 531.3,266.4 531.9,263.5 532.4,265.3 533.0,272.1 533.6,268.5 534.1,265.5 534.7,268.7 535.2,267.3 535.8,274.8 536.4,270.4 536.9,277.2 537.5,270.8 538.0,276.3 538.6,270.1 539.2,276.0 539.7,274.4 540.3,274.6 540.9,275.9 541.4,280.4 542.0,275.1 542.5,278.8 543.1,271.8 543.7,279.3 544.2,278.6 544.8,280.6 545.3,275.8 545.9,276.9 546.5,279.7 547.0,279.1 547.6,284.8 548.2,285.5 548.7,280.1 549.3,286.4 549.8,285.4 550.4,289.4 551.0,286.8 551.5,285.2 552.1,287.0 552.7,291.5 553.2,285.8 553.8,288.0 554.3,296.0 554.9,292.6 555.5,291.1 556.0,292.2 556.6,290.8 557.1,288.9 557.7,292.6 558.3,293.2 558.8,289.8 559.4,289.6 560.0,295.4 560.5,290.7 561.1,300.5 561.6,291.9 562.2,295.4 562.8,299.6 563.3,299.2 563.9,298.0 564.5,295.3 565.0,297.1 565.6,299.2 566.1,301.7 566.7,300.9 567.3,305.1 567.8,303.4 568.4,305.2 568.9,304.4 569.5,302.6 570.1,305.4 570.6,310.1 571.2,302.5 571.8,306.2 572.3,305.5 572.9,309.3 573.4,308.5 574.0,309.2 574.6,304.8 575.1,313.0 575.7,307.5 576.3,310.8 576.8,309.1 577.4,313.4 577.9,317.1 578.5,310.1 579.1,314.4 579.6,312.5 580.2,312.4 580.7,320.1 581.3,317.0 581.9,316.6 582.4,314.9 583.0,315.4 583.6,315.4 584.1,318.9 584.7,314.8 585.2,319.2 585.8,320.0 586.4,321.8 586.9,324.3 587.5,321.5 588.0,321.2 588.6,321.7 589.2,316.7 589.7,322.7 590.3,323.1 590.9,328.7 591.4,326.0 592.0,325.7 592.5,324.9 593.1,327.5 593.7,326.4 594.2,331.1 594.8,325.2 595.4,326.0 595.9,333.2 596.5,334.9 597.0,332.9 597.6,330.9 598.2,334.6 598.7,331.9 599.3,330.6 599.8,330.4 600.4,330.5 601.0,339.0 601.5,341.2 602.1,333.9 602.7,338.3 603.2,338.8 603.8,340.3 604.3,339.4 604.9,336.2 605.5,343.1 606.0,343.3 606.6,336.3 607.2,338.0 607.7,345.9 608.3,346.9 608.8,340.4 609.4,339.4 610.0,336.1 610.5,341.0 611.1,341.5 611.6,344.9 612.2,344.4 612.8,346.4 613.3,341.9 613.9,344.9 614.5,343.2 615.0,346.1 615.6,350.6 616.1,348.1 616.7,345.1 617.3,347.8 617.8,355.2 618.4,346.6 619.0,352.0 619.5,346.6 620.1,352.6 620.6,354.8 621.2,349.8 621.8,356.9 622.3,349.5 622.9,355.6 623.4,352.4 624.0,359.8 624.6,355.3 625.1,357.7 625.7,351.0 626.3,359.5 626.8,357.9 627.4,360.6 627.9,358.3 628.5,358.3 629.1,355.3 629.6,357.3 630.2,365.6 630.8,354.2 631.3,360.7 631.9,357.7 632.4,363.3 633.0,359.9 633.6,363.4 634.1,364.6 634.7,364.4 635.2,367.6 635.8,363.3 636.4,364.1 636.9,363.6 637.5,362.0 638.1,363.3 638.6,365.8 639.2,364.1 639.7,367.7 640.3,365.4 640.9,369.6 641.4,376.5 642.0,372.9 642.5,374.3 643.1,373.0 643.7,372.3 644.2,371.8 644.8,370.7 645.4,377.1 645.9,375.4 646.5,371.6 647.0,372.3 647.6,370.4 648.2,376.5 648.7,367.7 649.3,379.1 649.9,383.0 650.4,378.9 651.0,383.4 651.5,376.2 652.1,379.6 652.7,385.6 653.2,379.5 653.8,376.8 654.3,383.5 654.9,383.2 655.5,385.2 656.0,385.0 656.6,388.7 657.2,384.7 657.7,388.5 658.3,384.1 658.8,380.8 659.4,382.7 660.0,385.1 660.5,382.3 661.1,384.6 661.7,390.1 662.2,386.6 662.8,386.1 663.3,390.2 663.9,387.2 664.5,393.7 665.0,389.0 665.6,388.7 666.1,390.9 666.7,393.3 667.3,391.4 667.8,396.6 668.4,395.9 669.0,391.7 669.5,390.4 670.1,391.5 670.6,395.7 671.2,394.0 671.8,399.1 672.3,396.0 672.9,400.1 673.5,403.1 674.0,397.1 674.6,400.3 675.1,400.3 675.7,403.5 676.3,393.9 676.8,398.9 677.4,404.9 677.9,399.1 678.5,402.2 679.1,406.2 679.6,406.8 680.2,399.7 680.8,405.8 681.3,403.1 681.9,408.1 682.4,403.7 683.0,404.3 683.6,404.7 684.1,405.5 684.7,403.3 685.2,404.9 685.8,411.4 686.4,401.9 686.9,411.9 687.5,413.0 688.1,410.7 688.6,407.5 689.2,409.6 689.7,417.3 690.3,414.9 690.9,408.9 691.4,412.6 692.0,413.2 692.6,422.1 693.1,415.2 693.7,414.5 694.2,421.3 694.8,425.7 695.4,416.3 695.9,414.1 696.5,424.6 697.0,420.3 697.6,413.0 698.2,412.3 698.7,419.8 699.3,431.9 699.9,420.5 700.4,417.4 701.0,410.4 701.5,417.9 702.1,419.6 702.7,425.0 703.2,431.3 703.8,428.6 704.4,429.5 704.9,428.6 705.5,422.6 706.0,426.2 706.6,437.4 707.2,429.3 707.7,422.4 708.3,424.6 708.8,421.8 709.4,435.1 710.0,428.3 710.5,432.4 711.1,436.7 711.7,435.3 712.2,441.4 712.8,441.3 713.3,432.4 713.9,434.7 714.5,436.6 715.0,428.4 715.6,437.1 716.2,432.9 716.7,441.9 717.3,443.0 717.8,439.6 718.4,440.7 719.0,439.9 719.5,438.6 720.1,430.7 720.6,444.6 721.2,447.0 721.8,438.2 722.3,434.9 722.9,432.8 723.5,448.0 724.0,440.1 724.6,453.0 725.1,444.1 725.7,450.1 726.3,447.7 726.8,453.3 727.4,439.2 728.0,441.2 728.5,444.2 729.1,452.4 729.6,438.9 730.2,442.6 730.8,450.1 731.3,443.4 731.9,447.0 732.4,446.8 733.0,446.4 733.6,447.0 734.1,451.6 734.7,459.5 735.3,458.4 735.8,450.7 736.4,456.0 736.9,452.3 737.5,465.2 738.1,457.6 738.6,458.0 739.2,447.9 739.7,458.4 740.3,460.8 740.9,457.2 741.4,451.7 742.0,445.0 742.6,467.3 743.1,450.3 743.7,471.9 744.2,453.5 744.8,453.5 745.4,455.9 745.9,476.1 746.5,468.8 747.1,453.8 747.6,461.8 748.2,458.9 748.7,465.2 749.3,464.3 749.9,464.6 750.4,470.8 751.0,462.0 751.5,455.1 752.1,475.2 752.7,475.1 753.2,475.6 753.8,475.3 754.4,470.1 754.9,468.7 755.5,468.9 756.0,471.2 756.6,480.5 757.2,474.7 757.7,480.6 758.3,475.6 758.9,472.4 759.4,475.6 760.0,468.7 760.5,476.2 761.1,471.3 761.7,461.4 762.2,473.7 762.8,488.8 763.3,487.2 763.9,481.2 764.5,476.1 765.0,483.7 765.6,478.2 766.2,485.3 766.7,484.6 767.3,485.2 767.8,472.4 768.4,478.9 769.0,493.8 769.5,486.5 770.1,476.3 770.7,486.0 771.2,473.5 771.8,486.2 772.3,486.9 772.9,490.8 773.5,490.6 774.0,491.1 774.6,486.9 775.1,483.8 775.7,493.7 776.3,488.6 776.8,500.9 777.4,492.7 778.0,490.1 778.5,494.9 779.1,499.9 779.6,491.6 780.2,489.6 780.8,489.0 781.3,493.5 781.9,486.6 782.4,500.0 783.0,495.2 783.6,509.6 784.1,499.9 784.7,499.9 785.3,487.7 785.8,493.4 786.4,494.3 786.9,508.9 787.5,505.0 788.1,502.7 788.6,512.6 789.2,507.5 789.8,500.6 790.3,506.3 790.9,512.4 791.4,494.9 792.0,504.5 792.6,508.2 793.1,517.2 793.7,503.4 794.2,511.5 794.8,513.3 795.4,515.3 795.9,503.3 796.5,524.7 797.1,519.5 797.6,507.9 798.2,511.4 798.7,510.9 799.3,516.9 799.9,512.3 800.4,520.7 801.0,520.8 801.6,518.4 802.1,521.0 802.7,515.1 803.2,518.5 803.8,523.8 804.4,527.9 804.9,508.7 805.5,527.7 806.0,520.6 806.6,531.8 807.2,531.2 807.7,521.3 808.3,512.7 808.9,513.7 809.4,527.7 810.0,531.4 810.5,520.6 811.1,517.2 811.7,532.1 812.2,532.2 812.8,517.8 813.4,534.3 813.9,523.3 814.5,534.6 815.0,527.2 815.6,540.1 816.2,527.9 816.7,539.1 817.3,540.8 817.8,536.5 818.4,524.9 819.0,531.6 819.5,534.1 820.1,529.6 820.7,539.9 821.2,528.4 821.8,546.1 822.3,523.4 822.9,534.3 823.5,536.8 824.0,555.9 824.6,539.1 825.2,540.1 825.7,535.4 826.3,549.0 826.8,529.8 827.4,543.3 828.0,540.2 828.5,547.3 829.1,526.6 829.6,548.3 830.2,543.8 830.8,538.3 831.3,529.5 831.9,545.9 832.5,550.4 833.0,549.3 833.6,547.2 834.1,543.8 834.7,548.4 835.3,557.4 835.8,549.5 836.4,549.2 836.9,555.0 837.5,544.9 838.1,543.0 838.6,570.6 839.2,548.8 839.8,548.9 840.3,543.2 840.9,548.9 841.4,543.6 842.0,547.6 842.6,563.5 843.1,560.9 843.7,562.7 844.3,553.8 844.8,561.5 845.4,566.3 845.9,556.2 846.5,549.9 847.1,560.4 847.6,565.7 848.2,567.8 848.7,564.0 849.3,562.9 849.9,562.0 850.4,558.8 851.0,563.6 851.6,580.4 852.1,558.5 852.7,544.4 853.2,573.2 853.8,577.8 854.4,558.1 854.9,555.8 855.5,567.0 856.1,554.5 856.6,556.7 857.2,563.7 857.7,552.9 858.3,586.4 858.9,564.2 859.4,582.0 860.0,579.4 860.5,576.1 861.1,577.7 861.7,575.8 862.2,559.1 862.8,573.7 863.4,580.5 863.9,581.9 864.5,579.7 865.0,592.4 865.6,564.1 866.2,585.8 866.7,566.2 867.3,592.1 867.9,588.3 868.4,588.0 869.0,578.9 869.5,577.1 870.1,593.6 870.7,596.6 871.2,586.0 871.8,583.2 872.3,582.3 872.9,603.1 873.5,575.8 874.0,588.3 874.6,585.0 875.2,584.6 875.7,596.7 876.3,582.1 876.8,576.8 877.4,587.3 878.0,597.6 878.5,596.0 879.1,590.8 879.7,591.6 880.2,585.0 880.8,600.6 881.3,596.4 881.9,592.0 882.5,594.8 883.0,597.5 883.6,603.8 884.1,600.7 884.7,597.6 885.3,588.9 885.8,599.4 886.4,587.6 887.0,593.4 887.5,597.6 888.1,597.1 888.6,599.5 889.2,604.5 889.8,607.3 890.3,591.8 890.9,608.7 891.4,594.9 892.0,609.9 892.6,602.8 893.1,599.0 893.7,594.8 894.3,602.8 894.8,613.7 895.4,616.9 895.9,613.6 896.5,601.4 897.1,617.4 897.6,601.5 898.2,609.8 898.8,624.9 899.3,616.3 899.9,607.4 900.4,619.3 901.0,610.1 901.6,608.8 902.1,633.2 902.7,633.0 903.2,622.2 903.8,628.9 904.4,612.1 904.9,616.7 905.5,622.9 906.1,615.2 906.6,613.6 907.2,635.9 907.7,626.9 908.3,622.1 908.9,606.0 909.4,621.8 910.0,609.3 910.6,632.8 911.1,632.0 911.7,616.9 912.2,626.8 912.8,610.7 913.4,616.0 913.9,633.0 914.5,636.4 915.0,616.6 915.6,621.9 916.2,622.1 916.7,636.6 917.3,623.9 917.9,640.5 918.4,624.3 919.0,623.4 919.5,635.5 920.1,635.2 920.7,601.9 921.2,627.8 921.8,629.8 922.4,641.2 922.9,626.0 923.5,630.4 924.0,629.8 924.6,622.2 925.2,628.2 925.7,611.5 926.3,639.2 926.8,641.8 927.4,627.2 928.0,643.9 928.5,628.5 929.1,648.3 929.7,636.6 930.2,619.2 930.8,637.5 931.3,634.8 931.9,621.9 932.5,634.5 933.0,644.5 933.6,642.2 934.1,625.9 934.7,627.2 935.3,628.8 935.8,641.7 936.4,649.5 937.0,640.4 937.5,659.7 938.1,658.9 938.6,652.4 939.2,646.5 939.8,641.2 940.3,670.1 940.9,630.9 941.5,649.0 942.0,640.8 942.6,633.1 943.1,644.2 943.7,632.3 944.3,653.7 944.8,661.5 945.4,651.0 945.9,660.3 946.5,637.7 947.1,673.0 947.6,648.3 948.2,650.8 948.8,650.2 949.3,658.7 949.9,663.6 950.4,657.5 951.0,674.2 951.6,668.9 952.1,662.5 952.7,668.7 953.3,665.4 953.8,654.4 954.4,685.7 954.9,669.0 955.5,677.9 956.1,658.1 956.6,652.9 957.2,661.1 957.7,679.4 958.3,669.8 958.9,671.4 959.4,663.4 960.0,653.6 960.6,670.5 961.1,648.7 961.7,661.1 962.2,652.9 962.8,670.4 963.4,682.7 963.9,640.9 964.5,667.3 965.1,676.5 965.6,684.8 966.2,694.1 966.7,655.8 967.3,668.3 967.9,670.4 968.4,679.5 969.0,667.8 969.5,661.3 970.1,683.2 970.7,678.4 971.2,692.5 971.8,690.3 972.4,681.8 972.9,674.0 973.5,654.8 974.0,671.3 974.6,673.7 975.2,676.9 975.7,667.8 976.3,681.4 976.9,690.4 977.4,687.4 978.0,679.8 978.5,674.3 979.1,674.8 979.7,678.7 980.2,683.5 980.8,674.9 981.3,679.1 981.9,667.7 982.5,689.7 983.0,681.3 983.6,687.6 984.2,690.9 984.7,674.7 985.3,681.7 985.8,690.6 986.4,689.5 987.0,694.2 987.5,679.7 988.1,685.9 988.6,683.3 989.2,688.6 989.8,679.3 990.3,675.5 990.9,698.3 991.5,698.2 992.0,693.2 992.6,700.7 993.1,695.3 993.7,683.3 994.3,701.2 994.8,705.8 995.4,694.6 996.0,686.8 996.5,697.2 997.1,708.5 997.6,693.1 998.2,699.4 998.8,703.5 999.3,697.8 999.9,693.4 1000.4,706.5 1001.0,699.1 1001.6,695.8 1002.1,711.8 1002.7,702.2 1003.3,707.1 1003.8,705.1 1004.4,695.1 1004.9,693.2 1005.5,701.7 1006.1,691.0 1006.6,716.7 1007.2,697.7 1007.8,712.7 1008.3,712.7 1008.9,691.1 1009.4,697.6 1010.0,693.3 1010.6,691.9 1011.1,736.4 1011.7,699.6 1012.2,722.3 1012.8,700.5 1013.4,684.6 1013.9,711.9 1014.5,736.5 1015.1,708.4 1015.6,713.8 1016.2,696.4 1016.7,689.9 1017.3,715.5 1017.9,730.0 1018.4,727.8 1019.0,733.2 1019.6,734.4 1020.1,722.9 1020.7,713.3 1021.2,732.0 1021.8,721.2 1022.4,687.9 1022.9,741.7 1023.5,712.9 1024.0,718.6 1024.6,723.9 1025.2,715.2 1025.7,726.9 1026.3,734.4 1026.9,720.6 1027.4,725.0 1028.0,717.8 1028.5,738.0 1029.1,739.2 1029.7,707.2 1030.2,726.8 1030.8,719.6 1031.3,734.3 1031.9,726.9 1032.5,727.8 1033.0,739.2 1033.6,721.7 1034.2,715.0 1034.7,726.0 1035.3,717.9 1035.8,722.1 1036.4,733.0 1037.0,730.3 1037.5,745.5 1038.1,730.2 1038.7,732.8 1039.2,718.3 1039.8,748.1 1040.3,750.4 1040.9,728.3 1041.5,758.6 1042.0,735.0 1042.6,727.1 1043.1,756.6 1043.7,732.0 1044.3,735.4 1044.8,725.4 1045.4,750.2 1046.0,746.7 1046.5,749.9 1047.1,752.2 1047.6,730.7 1048.2,731.9 1048.8,720.8 1049.3,727.0 1049.9,759.7 1050.5,742.7 1051.0,736.1 1051.6,729.8 1052.1,748.6 1052.7,765.8 1053.3,753.1 1053.8,758.4 1054.4,744.7 1054.9,735.8 1055.5,732.5 1056.1,746.0 1056.6,744.7 1057.2,742.6 1057.8,754.0 1058.3,741.2 1058.9,728.3 1059.4,763.3 1060.0,736.7 1060.6,740.7 1061.1,739.3 1061.7,737.9 1062.3,712.9 1062.8,754.6 1063.4,751.7 1063.9,769.4 1064.5,755.0 1065.1,745.1 1065.6,762.2 1066.2,767.2 1066.7,765.9 1067.3,777.1 1067.9,729.1 1068.4,753.1 1069.0,773.9 1069.6,760.4 1070.1,754.8 1070.7,763.5 1071.2,765.1 1071.8,756.3 1072.4,774.5 1072.9,761.2 1073.5,773.9 1074.1,776.7 1074.6,757.7 1075.2,776.1 1075.7,771.6 1076.3,764.7 1076.9,752.5 1077.4,769.2 1078.0,758.4 1078.5,786.2 1079.1,781.2 1079.7,747.6 1080.2,766.6 1080.8,772.9 1081.4,783.9 1081.9,775.1 1082.5,766.4 1083.0,773.4 1083.6,765.5 1084.2,775.3 1084.7,783.4 1085.3,741.6 1085.8,775.1 1086.4,774.3 1087.0,769.2 1087.5,775.1 1088.1,746.1 1088.7,770.9 1089.2,764.8 1089.8,773.2 1090.3,756.6 1090.9,757.2 1091.5,777.1 1092.0,794.0 1092.6,771.7 1093.2,806.0 1093.7,778.2 1094.3,766.6 1094.8,778.0 1095.4,792.8 1096.0,755.0 1096.5,771.9 1097.1,795.2 1097.6,806.1 1098.2,798.6 1098.8,770.6 1099.3,787.5 1099.9,776.6 1100.5,784.7 1101.0,778.9 1101.6,795.1 1102.1,767.2 1102.7,791.7 1103.3,789.4 1103.8,783.6 1104.4,779.0 1105.0,791.3 1105.5,796.2 1106.1,791.6 1106.6,761.7 1107.2,819.0 1107.8,784.3 1108.3,789.2 1108.9,807.6 1109.4,809.8 1110.0,802.9 1110.6,811.8 1111.1,798.5 1111.7,791.5 1112.3,793.1 1112.8,820.7 1113.4,815.8 1113.9,774.5 1114.5,814.8 1115.1,808.0 1115.6,779.7 1116.2,809.1 1116.8,800.5 1117.3,785.9 1117.9,782.5 1118.4,792.7 1119.0,808.8 1119.6,834.0 1120.1,810.1 1120.7,798.7 1121.2,808.2 1121.8,808.4 1122.4,797.1 1122.9,813.1 1123.5,826.2 1124.1,810.7 1124.6,804.8 1125.2,798.5 1125.7,809.7 1126.3,807.3 1126.9,822.6 1127.4,815.4 1128.0,817.4 1128.5,821.6 1129.1,814.7 1129.7,791.7 1130.2,817.4 1130.8,811.7 1131.4,839.6 1131.9,808.3 1132.5,795.8 1133.0,812.1 1133.6,808.0 1134.2,807.4 1134.7,799.1 1135.3,816.8 1135.9,817.0 1136.4,804.1 1137.0,823.4 1137.5,822.7 1138.1,822.9 1138.7,815.4 1139.2,822.8 1139.8,800.8 1140.3,821.5 1140.9,830.1 1141.5,802.3 1142.0,806.2 1142.6,797.1 1143.2,810.5 1143.7,837.6 1144.3,800.5 1144.8,810.1 1145.4,837.8 1146.0,829.6 1146.5,845.7 1147.1,822.5 1147.7,841.6 1148.2,819.7 1148.8,862.5 1149.3,812.7 1149.9,807.1 1150.5,824.8 1151.0,848.5 1151.6,843.3 1152.1,820.3 1152.7,873.1 1153.3,821.8 1153.8,855.0 1154.4,839.9 1155.0,841.7 1155.5,834.1 1156.1,827.1 1156.6,842.4 1157.2,832.6 1157.8,858.1 1158.3,835.9 1158.9,856.1 1159.5,837.8 1160.0,839.4 1160.6,836.8 1161.1,837.6 1161.7,841.9 1162.3,829.0 1162.8,850.7 1163.4,840.8 1163.9,842.7 1164.5,830.1 1165.1,844.3 1165.6,849.9 1166.2,820.6 1166.8,850.0 1167.3,865.9 1167.9,820.4 1168.4,849.9 1169.0,844.7 1169.6,847.1 1170.1,847.4 1170.7,851.6 1171.3,874.3 1171.8,844.8 1172.4,816.6 1172.9,835.6 1173.5,844.0 1174.1,855.1 1174.6,867.2 1175.2,863.1 1175.7,863.4 1176.3,870.2 1176.9,830.3 1177.4,851.3 1178.0,863.3 1178.6,854.3 1179.1,830.2 1179.7,842.8 1180.2,836.9 1180.8,865.4 1181.4,876.5 1181.9,852.4 1182.5,850.1 1183.0,842.7 1183.6,877.7 1184.2,861.3 1184.7,833.1 1185.3,881.4 1185.9,864.2 1186.4,863.0 1187.0,877.1 1187.5,845.1 1188.1,862.8 1188.7,882.6 1189.2,874.7 1189.8,873.6 1190.4,836.5 1190.9,868.0 1191.5,873.5 1192.0,842.7 1192.6,858.9 1193.2,830.7 1193.7,872.7 1194.3,895.9 1194.8,844.0 1195.4,873.8 1196.0,866.3 1196.5,869.3 1197.1,877.7 1197.7,856.3 1198.2,880.5 1198.8,861.9 1199.3,873.7 1199.9,860.0 1200.5,842.3 1201.0,867.7 1201.6,876.4 1202.2,831.9 1202.7,843.8 1203.3,874.6 1203.8,858.3 1204.4,866.2 1205.0,876.9 1205.5,888.4 1206.1,872.3 1206.6,894.6 1207.2,851.8 1207.8,850.4 1208.3,889.6 1208.9,887.7 1209.5,898.4 1210.0,857.7 1210.6,876.9 1211.1,897.6 1211.7,885.0 1212.3,864.1 1212.8,875.0 1213.4,862.7 1214.0,921.0 1214.5,876.1 1215.1,874.7 1215.6,876.6 1216.2,878.3 1216.8,892.3 1217.3,887.4 1217.9,897.9 1218.4,908.7 1219.0,860.9 1219.6,899.8 1220.1,896.4 1220.7,945.9 1221.3,876.9 1221.8,892.3 1222.4,898.4 1222.9,893.6 1223.5,895.0 1224.1,903.4 1224.6,903.2 1225.2,883.7 1225.7,876.1 1226.3,874.4 1226.9,891.4 1227.4,873.0 1228.0,875.2 1228.6,872.6 1229.1,878.1 1229.7,920.7 1230.2,893.6 1230.8,888.4 1231.4,871.0 1231.9,904.1 1232.5,888.6 1233.1,893.9 1233.6,926.0 1234.2,907.4 1234.7,917.9 1235.3,866.3 1235.9,891.8 1236.4,880.1 1237.0,892.9 1237.5,890.9 1238.1,881.6 1238.7,910.6 1239.2,920.9 1239.8,917.8 1240.4,885.5 1240.9,902.6 1241.5,918.8 1242.0,928.4 1242.6,915.7 1243.2,899.2 1243.7,906.3 1244.3,917.3 1244.9,926.0 1245.4,916.1 1246.0,883.3 1246.5,870.1 1247.1,904.8 1247.7,883.3 1248.2,907.5 1248.8,934.1 1249.3,916.7 1249.9,934.6 1250.5,905.9 1251.0,911.1 1251.6,954.0 1252.2,932.4 1252.7,885.0 1253.3,925.2 1253.8,912.7 1254.4,922.8 1255.0,931.9 1255.5,912.1 1256.1,926.9 1256.7,930.5 1257.2,920.9 1257.8,958.6 1258.3,954.8 1258.9,958.2 1259.5,901.4 1260.0,912.9 1260.6,921.8 1261.1,914.3 1261.7,909.8 1262.3,974.3 1262.8,961.4 1263.4,921.7 1264.0,907.3 1264.5,913.4 1265.1,954.3 1265.6,927.2 1266.2,911.3 1266.8,928.5 1267.3,941.1 1267.9,939.6 1268.5,909.8 1269.0,956.7 1269.6,942.0 1270.1,913.2 1270.7,945.6 1271.3,992.3 1271.8,924.7 1272.4,938.9 1272.9,964.0 1273.5,960.5 1274.1,923.5 1274.6,919.0 1275.2,957.2 1275.8,926.2 1276.3,941.7 1276.9,935.3 1277.4,921.5 1278.0,968.6 1278.6,948.6 1279.1,886.2 1279.7,963.9 1280.2,934.8 1280.8,961.4 1281.4,923.7 1281.9,931.4 1282.5,955.1 1283.1,941.3 1283.6,931.2 1284.2,919.0 1284.7,933.1 1285.3,918.1 1285.9,937.6 1286.4,922.1 1287.0,935.2 1287.6,940.4 1288.1,933.9 1288.7,934.3 1289.2,943.0 1289.8,966.3 1290.4,951.4 1290.9,924.6 1291.5,945.6 1292.0,964.0 1292.6,956.6 1293.2,926.0 1293.7,979.1 1294.3,983.7 1294.9,965.2 1295.4,970.0 1296.0,933.6 1296.5,947.0 1297.1,940.1 1297.7,960.3 1298.2,939.0 1298.8,956.9 1299.4,975.1 1299.9,972.6 1300.5,943.2 1301.0,945.1 1301.6,969.3 1302.2,937.7 1302.7,948.0 1303.3,964.4 1303.8,984.4 1304.4,931.7 1305.0,952.2 1305.5,942.9 1306.1,979.3 1306.7,954.6 1307.2,943.3 1307.8,956.7 1308.3,961.9 1308.9,988.7 1309.5,937.7 1310.0,947.6 1310.6,977.9 1311.2,1005.6 1311.7,943.0 1312.3,988.7 1312.8,971.4 1313.4,969.2 1314.0,924.2 1314.5,957.5 1315.1,933.9 1315.6,960.1 1316.2,985.0 1316.8,944.2 1317.3,928.6 1317.9,979.2 1318.5,979.8 1319.0,946.0 1319.6,932.4 1320.1,978.6 1320.7,985.6 1321.3,975.9 1321.8,979.3 1322.4,988.3 1322.9,962.9 1323.5,976.8 1324.1,985.0 1324.6,960.0 1325.2,1015.9 1325.8,944.7 1326.3,942.2 1326.9,963.5 1327.4,988.4 1328.0,999.3 1328.6,997.7 1329.1,967.0 1329.7,988.9 1330.3,962.5 1330.8,982.3 1331.4,971.5 1331.9,952.8 1332.5,973.9 1333.1,1006.5 1333.6,987.8 1334.2,1037.7 1334.7,977.9 1335.3,1044.3 1335.9,997.0 1336.4,1004.2 1337.0,994.2 1337.6,962.6 1338.1,991.4 1338.7,988.0 1339.2,1027.6 1339.8,985.5 1340.4,971.2 1340.9,1021.2 1341.5,1005.4 1342.1,1062.6 1342.6,968.8 1343.2,985.6 1343.7,1039.3 1344.3,976.7 1344.9,1008.2 1345.4,1019.9 1346.0,952.5 1346.5,992.3 1347.1,1017.1 1347.7,1047.3 1348.2,980.3 1348.8,1004.1 1349.4,1034.6 1349.9,998.6 1350.5,1022.7 1351.0,986.9 1351.6,976.9 1352.2,1001.9 1352.7,987.5 1353.3,985.7 1353.9,967.7 1354.4,990.8 1355.0,1031.7 1355.5,973.0 1356.1,1011.4 1356.7,1007.9 1357.2,996.1 1357.8,992.4 1358.3,1015.5 1358.9,1008.7 1359.5,1000.6 1360.0,1033.2 1360.6,1052.6 1361.2,1006.1 1361.7,1003.7 1362.3,1021.7 1362.8,1025.0 1363.4,1014.1 1364.0,1011.8 1364.5,1019.1 1365.1,1014.3 1365.7,1013.4 1366.2,1034.7 1366.8,1062.6 1367.3,1029.7 1367.9,1010.0 1368.5,1062.6 1369.0,1045.4 1369.6,1062.6 1370.1,1028.2 1370.7,1004.0 1371.3,1005.3 1371.8,1001.1 1372.4,980.3 1373.0,1018.6 1373.5,997.8 1374.1,992.4 1374.6,1056.2 1375.2,993.2 1375.8,998.2 1376.3,1020.0 1376.9,996.3 1377.4,1002.2 1378.0,1017.2 1378.6,1011.5 1379.1,999.5 1379.7,1004.1 1380.3,1061.4 1380.8,1000.3 1381.4,997.1 1381.9,1002.2 1382.5,1026.0 1383.1,1011.9 1383.6,1043.6 1384.2,1026.9 1384.8,1021.3 1385.3,1003.9 1385.9,1055.4 1386.4,1050.8 1387.0,1036.9 1387.6,1008.3 1388.1,1021.0 1388.7,998.0 1389.2,1009.7 1389.8,1046.5 1390.4,1062.6 1390.9,1062.6 1391.5,1052.2 1392.1,999.1 1392.6,1030.8 1393.2,1014.7 1393.7,1062.6 1394.3,1055.2 1394.9,1059.7 1395.4,1058.3 1396.0,1035.4 1396.6,1041.0 1397.1,1061.6 1397.7,1058.0 1398.2,1039.7 1398.8,1062.6 1399.4,1001.2 1399.9,1051.1 1400.5,1055.8 1401.0,1029.9 1401.6,1012.2 1402.2,1033.7 1402.7,1034.9 1403.3,1020.9 1403.9,1055.6 1404.4,1061.1 1405.0,1054.7 1405.5,1061.8 1406.1,1062.6 1406.7,1000.8 1407.2,1014.8 1407.8,1043.3 1408.4,1013.2 1408.9,1062.6 1409.5,1059.2 1410.0,1007.7 1410.6,1025.0 1411.2,1054.0 1411.7,1062.6 1412.3,1012.7 1412.8,1062.6 1413.4,1062.6 1414.0,1050.5 1414.5,1050.2 1415.1,1044.6 1415.7,1040.3 1416.2,1039.6 1416.8,988.0 1417.3,1038.8 1417.9,1051.9 1418.5,1062.6 1419.0,1025.8 1419.6,1062.6 1420.1,1030.7 1420.7,1051.3 1421.3,1028.8 1421.8,1022.6 1422.4,1007.2 1423.0,1061.0 1423.5,1062.6 1424.1,1056.0 1424.6,1062.6 1425.2,1062.6 1425.8,1059.1 1426.3,1062.6 1426.9,1030.1 1427.5,1062.6 1428.0,1062.6 1428.6,1054.4 1429.1,1062.6 1429.7,1049.7 1430.3,1062.6 1430.8,1055.1 1431.4,1062.6 1431.9,1040.6 1432.5,1062.6 1433.1,1062.6 1433.6,1062.6 1434.2,1062.6" stroke="#ffff00"/>
<polyline points="318.9,75.3 319.5,79.1 320.0,76.0 320.6,80.1 321.2,74.4 321.7,77.1 322.3,80.2 322.9,78.8 323.4,77.2 324.0,75.3 324.5,83.4 325.1,79.9 325.7,81.5 326.2,83.6 326.8,81.4 327.4,83.1 327.9,82.4 328.5,86.2 329.0,85.7 329.6,85.4 330.2,86.7 330.7,87.2 331.3,89.3 331.8,88.0 332.4,88.4 333.0,89.4 333.5,89.8 334.1,88.9 334.7,92.2 335.2,89.9 335.8,92.2 336.3,92.3 336.9,93.3 337.5,91.5 338.0,92.3 338.6,94.4 339.2,95.9 339.7,91.6 340.3,94.9 340.8,99.0 341.4,97.1 342.0,97.8 342.5,96.5 343.1,99.1 343.6,100.7 344.2,96.8 344.8,104.5 345.3,103.7 345.9,102.3 346.5,102.8 347.0,102.5 347.6,102.8 348.1,101.1 348.7,107.1 349.3,97.9 349.8,103.5 350.4,107.0 350.9,107.1 351.5,107.4 352.1,111.8 352.6,106.5 353.2,110.4 353.8,109.6 354.3,111.4 354.9,110.8 355.4,109.9 356.0,113.4 356.6,107.7 357.1,114.4 357.7,113.2 358.3,112.6 358.8,111.7 359.4,113.2 359.9,114.1 360.5,113.6 361.1,114.4 361.6,117.9 362.2,114.9 362.7,118.2 363.3,119.9 363.9,118.0 364.4,119.5 365.0,118.3 365.6,118.7 366.1,121.3 366.7,119.7 367.2,121.1 367.8,125.2 368.4,118.5 368.9,122.5 369.5,123.4 370.1,121.6 370.6,127.3 371.2,126.2 371.7,123.0 372.3,130.1 372.9,128.1 373.4,122.9 374.0,125.8 374.5,130.0 375.1,128.1 375.7,127.0 376.2,131.1 376.8,129.7 377.4,129.5 377.9,130.7 378.5,127.8 379.0,131.6 379.6,132.7 380.2,132.3 380.7,134.3 381.3,135.8 381.9,135.0 382.4,136.5 383.0,131.1 383.5,130.9 384.1,137.4 384.7,143.7 385.2,138.4 385.8,136.4 386.3,140.0 386.9,137.4 387.5,138.0 388.0,141.6 388.6,141.2 389.2,143.6 389.7,142.8 390.3,145.1 390.8,144.3 391.4,140.0 392.0,144.9 392.5,142.1 393.1,144.5 393.6,149.6 394.2,146.7 394.8,148.2 395.3,150.7 395.9,149.4 396.5,145.8 397.0,146.4 397.6,151.0 398.1,152.3 398.7,151.2 399.3,150.9 399.8,149.1 400.4,154.3 401.0,155.8 401.5,154.2 402.1,159.6 402.6,155.6 403.2,154.8 403.8,161.2 404.3,154.8 404.9,159.1 405.4,158.7 406.0,159.4 406.6,159.7 407.1,160.0 407.7,162.0 408.3,166.2 408.8,159.5 409.4,162.6 409.9,161.5 410.5,162.8 411.1,160.9 411.6,164.6 412.2,166.5 412.8,158.9 413.3,162.5 413.9,164.7 414.4,164.4 415.0,164.5 415.6,174.2 416.1,170.6 416.7,169.4 417.2,168.8 417.8,172.7 418.4,171.2 418.9,174.9 419.5,173.5 420.1,178.5 420.6,175.1 421.2,170.4 421.7,178.4 422.3,174.0 422.9,179.7 423.4,179.6 424.0,171.4 424.6,180.3 425.1,178.9 425.7,180.3 426.2,187.2 426.8,180.9 427.4,179.2 427.9,185.1 428.5,185.6 429.0,185.0 429.6,182.1 430.2,186.3 430.7,182.3 431.3,183.2 431.9,190.6 432.4,189.9 433.0,187.0 433.5,189.9 434.1,185.8 434.7,185.3 435.2,190.8 435.8,186.9 436.4,188.3 436.9,190.6 437.5,188.5 438.0,192.9 438.6,191.4 439.2,194.8 439.7,196.1 440.3,189.9 440.8,190.2 441.4,194.8 442.0,192.8 442.5,197.4 443.1,198.8 443.7,196.0 444.2,194.0 444.8,198.7 445.3,198.9 445.9,199.9 446.5,203.0 447.0,206.4 447.6,201.4 448.1,206.1 448.7,198.4 449.3,203.0 449.8,202.4 450.4,202.4 451.0,208.2 451.5,209.0 452.1,202.5 452.6,205.6 453.2,207.3 453.8,205.9 454.3,214.7 454.9,206.4 455.5,209.4 456.0,209.3 456.6,209.0 457.1,205.8 457.7,210.2 458.3,213.0 458.8,215.8 459.4,206.4 459.9,220.2 460.5,215.8 461.1,216.3 461.6,219.0 462.2,218.8 462.8,218.0 463.3,222.0 463.9,220.1 464.4,218.7 465.0,225.0 465.6,221.0 466.1,221.0 466.7,222.4 467.3,222.9 467.8,223.3 468.4,224.9 468.9,226.3 469.5,222.4 470.1,224.6 470.6,224.9 471.2,220.9 471.7,222.4 472.3,227.7 472.9,221.6 473.4,227.3 474.0,224.3 474.6,233.9 475.1,223.6 475.7,229.8 476.2,232.2 476.8,233.1 477.4,238.9 477.9,235.7 478.5,234.5 479.1,228.0 479.6,233.1 480.2,235.1 480.7,230.7 481.3,233.7 481.9,237.5 482.4,238.7 483.0,242.2 483.5,237.6 484.1,244.7 484.7,235.5 485.2,244.0 485.8,239.1 486.4,236.4 486.9,243.0 487.5,241.1 488.0,235.1 488.6,243.3 489.2,239.2 489.7,240.0 490.3,249.5 490.8,243.0 491.4,248.7 492.0,244.3 492.5,244.6 493.1,242.3 493.7,246.7 494.2,246.6 494.8,246.5 495.3,240.6 495.9,247.4 496.5,242.7 497.0,251.8 497.6,253.4 498.2,248.4 498.7,254.0 499.3,251.0 499.8,252.5 500.4,245.6 501.0,247.7 501.5,246.4 502.1,251.7 502.6,255.4 503.2,255.9 503.8,249.3 504.3,260.4 504.9,258.8 505.5,260.9 506.0,254.3 506.6,258.9 507.1,256.1 507.7,255.2 508.3,250.5 508.8,257.6 509.4,269.8 510.0,269.4 510.5,263.2 511.1,257.7 511.6,266.7 512.2,265.3 512.8,269.7 513.3,267.4 513.9,264.6 514.4,266.5 515.0,266.2 515.6,264.1 516.1,268.7 516.7,271.2 517.3,279.2 517.8,273.7 518.4,265.8 518.9,275.4 519.5,273.6 520.1,275.3 520.6,272.6 521.2,270.9 521.8,276.4 522.3,277.4 522.9,272.5 523.4,281.0 524.0,274.6 524.6,279.2 525.1,277.6 525.7,274.3 526.2,275.3 526.8,274.8 527.4,281.4 527.9,279.4 528.5,282.8 529.1,284.5 529.6,282.4 530.2,280.4 530.7,281.8 531.3,282.8 531.9,287.1 532.4,283.6 533.0,282.7 533.6,277.7 534.1,286.7 534.7,281.8 535.2,285.8 535.8,275.4 536.4,284.1 536.9,280.8 537.5,284.7 538.0,291.8 538.6,292.3 539.2,289.4 539.7,293.9 540.3,289.1 540.9,293.6 541.4,292.6 542.0,298.4 542.5,285.3 543.1,297.6 543.7,294.1 544.2,297.5 544.8,293.8 545.3,290.1 545.9,292.6 546.5,303.2 547.0,295.6 547.6,293.3 548.2,292.6 548.7,300.6 549.3,301.3 549.8,306.7 550.4,291.0 551.0,301.5 551.5,302.5 552.1,304.2 552.7,301.7 553.2,299.5 553.8,299.5 554.3,305.7 554.9,308.9 555.5,301.1 556.0,307.9 556.6,298.0 557.1,303.7 557.7,308.5 558.3,301.4 558.8,314.9 559.4,307.8 560.0,307.8 560.5,307.5 561.1,313.8 561.6,309.6 562.2,308.4 562.8,307.7 563.3,312.3 563.9,318.6 564.5,311.0 565.0,319.2 565.6,314.4 566.1,315.1 566.7,303.9 567.3,316.4 567.8,322.2 568.4,318.8 568.9,313.8 569.5,319.6 570.1,310.9 570.6,318.4 571.2,313.9 571.8,315.3 572.3,324.1 572.9,319.0 573.4,324.1 574.0,320.1 574.6,323.3 575.1,320.7 575.7,325.9 576.3,323.8 576.8,328.6 577.4,328.8 577.9,321.7 578.5,328.0 579.1,332.5 579.6,332.8 580.2,328.4 580.7,323.4 581.3,329.7 581.9,327.4 582.4,330.8 583.0,332.5 583.6,329.7 584.1,332.4 584.7,323.5 585.2,331.2 585.8,329.4 586.4,335.6 586.9,335.1 587.5,341.2 588.0,336.9 588.6,341.9 589.2,340.6 589.7,338.1 590.3,346.2 590.9,347.0 591.4,345.0 592.0,334.6 592.5,337.9 593.1,332.2 593.7,337.3 594.2,344.4 594.8,339.8 595.4,343.5 595.9,350.0 596.5,343.8 597.0,343.0 597.6,338.3 598.2,340.0 598.7,351.1 599.3,350.3 599.8,343.9 600.4,345.4 601.0,348.3 601.5,348.2 602.1,343.1 602.7,343.9 603.2,351.5 603.8,351.8 604.3,350.7 604.9,355.2 605.5,354.0 606.0,344.7 606.6,346.8 607.2,353.4 607.7,352.3 608.3,346.5 608.8,357.1 609.4,359.0 610.0,351.2 610.5,354.0 611.1,362.6 611.6,354.6 612.2,360.0 612.8,358.1 613.3,348.0 613.9,358.3 614.5,361.2 615.0,365.4 615.6,356.4 616.1,361.8 616.7,357.7 617.3,353.4 617.8,358.1 618.4,356.8 619.0,356.2 619.5,371.7 620.1,365.7 620.6,371.7 621.2,361.7 621.8,366.9 622.3,363.8 622.9,366.2 623.4,370.7 624.0,370.8 624.6,366.1 625.1,365.3 625.7,372.0 626.3,379.4 626.8,383.4 627.4,367.7 627.9,368.2 628.5,376.5 629.1,372.4 629.6,366.2 630.2,371.8 630.8,366.5 631.3,369.8 631.9,378.0 632.4,382.5 633.0,371.0 633.6,374.7 634.1,369.8 634.7,376.8 635.2,373.9 635.8,381.5 636.4,391.2 636.9,381.6 637.5,390.0 638.1,384.5 638.6,383.5 639.2,372.3 639.7,384.9 640.3,375.3 640.9,391.8 641.4,373.1 642.0,395.5 642.5,387.7 643.1,374.6 643.7,376.2 644.2,383.0 644.8,384.7 645.4,381.6 645.9,393.6 646.5,385.4 647.0,378.8 647.6,379.9 648.2,400.9 648.7,385.0 649.3,392.4 649.9,396.9 650.4,397.9 651.0,398.2 651.5,402.1 652.1,386.3 652.7,407.5 653.2,397.1 653.8,400.2 654.3,388.0 654.9,399.3 655.5,396.7 656.0,405.4 656.6,399.8 657.2,393.9 657.7,405.7 658.3,395.3 658.8,399.4 659.4,397.4 660.0,397.1 660.5,395.5 661.1,416.5 661.7,393.8 662.2,409.9 662.8,412.7 663.3,404.5 663.9,401.3 664.5,395.2 665.0,408.5 665.6,393.5 666.1,407.4 666.7,399.8 667.3,413.0 667.8,405.1 668.4,408.9 669.0,403.6 669.5,405.8 670.1,407.7 670.6,412.6 671.2,410.5 671.8,412.7 672.3,420.1 672.9,423.2 673.5,415.7 674.0,417.5 674.6,413.2 675.1,410.2 675.7,408.9 676.3,424.6 676.8,418.8 677.4,422.4 677.9,415.1 678.5,421.9 679.1,413.7 679.6,414.8 680.2,409.2 680.8,409.3 681.3,429.0 681.9,422.9 682.4,426.9 683.0,424.1 683.6,418.0 684.1,421.5 684.7,427.8 685.2,420.0 685.8,430.8 686.4,431.1 686.9,433.7 687.5,422.9 688.1,423.7 688.6,424.9 689.2,423.9 689.7,418.5 690.3,433.1 690.9,422.3 691.4,418.5 692.0,427.8 692.6,441.1 693.1,443.1 693.7,430.0 694.2,425.0 694.8,439.1 695.4,432.4 695.9,429.5 696.5,424.4 697.0,442.1 697.6,429.7 698.2,436.8 698.7,439.0 699.3,433.0 699.9,427.7 700.4,441.8 701.0,448.7 701.5,437.1 702.1,446.6 702.7,447.2 703.2,447.6 703.8,446.3 704.4,436.5 704.9,441.8 705.5,443.9 706.0,440.8 706.6,447.0 707.2,444.2 707.7,431.6 708.3,442.4 708.8,446.9 709.4,444.8 710.0,440.9 710.5,443.1 711.1,448.1 711.7,447.5 712.2,452.6 712.8,433.5 713.3,444.1 713.9,441.5 714.5,451.5 715.0,445.1 715.6,458.2 716.2,460.2 716.7,438.9 717.3,445.3 717.8,456.3 718.4,471.3 719.0,449.3 719.5,446.5 720.1,460.2 720.6,451.8 721.2,466.2 721.8,463.0 722.3,458.8 722.9,454.0 723.5,454.1 724.0,446.3 724.6,454.4 725.1,463.0 725.7,455.1 726.3,458.2 726.8,460.8 727.4,460.5 728.0,462.2 728.5,462.1 729.1,488.4 729.6,453.9 730.2,463.1 730.8,464.3 731.3,463.9 731.9,464.7 732.4,474.0 733.0,456.6 733.6,469.0 734.1,460.6 734.7,473.9 735.3,473.3 735.8,468.0 736.4,465.6 736.9,451.6 737.5,483.4 738.1,480.6 738.6,473.1 739.2,475.7 739.7,458.5 740.3,473.6 740.9,481.3 741.4,485.8 742.0,478.4 742.6,489.4 743.1,472.5 743.7,460.4 744.2,485.8 744.8,473.8 745.4,471.2 745.9,477.5 746.5,479.5 747.1,475.0 747.6,467.5 748.2,482.5 748.7,485.8 749.3,482.9 749.9,489.0 750.4,467.0 751.0,479.9 751.5,484.4 752.1,479.1 752.7,485.4 753.2,474.3 753.8,505.5 754.4,495.5 754.9,477.8 755.5,478.7 756.0,483.6 756.6,485.4 757.2,480.3 757.7,489.6 758.3,491.9 758.9,485.6 759.4,498.5 760.0,496.8 760.5,477.8 761.1,481.0 761.7,487.4 762.2,494.3 762.8,482.4 763.3,484.6 763.9,495.3 764.5,491.9 765.0,488.7 765.6,516.5 766.2,497.8 766.7,510.3 767.3,505.6 767.8,494.4 768.4,493.7 769.0,509.2 769.5,497.4 770.1,501.3 770.7,487.1 771.2,498.0 771.8,507.5 772.3,497.9 772.9,489.7 773.5,505.2 774.0,503.9 774.6,496.6 775.1,512.3 775.7,496.2 776.3,516.3 776.8,499.2 777.4,508.6 778.0,505.1 778.5,520.1 779.1,510.2 779.6,514.9 780.2,518.1 780.8,526.0 781.3,509.0 781.9,514.3 782.4,524.8 783.0,516.0 783.6,512.5 784.1,510.9 784.7,503.0 785.3,518.0 785.8,520.8 786.4,521.6 786.9,501.5 787.5,525.2 788.1,534.5 788.6,526.8 789.2,527.1 789.8,525.9 790.3,500.6 790.9,509.7 791.4,526.8 792.0,511.2 792.6,522.2 793.1,511.9 793.7,499.2 794.2,517.4 794.8,523.4 795.4,510.6 795.9,519.2 796.5,530.7 797.1,525.5 797.6,524.0 798.2,518.0 798.7,517.2 799.3,518.6 799.9,517.8 800.4,559.2 801.0,539.6 801.6,515.6 802.1,526.9 802.7,542.2 803.2,538.3 803.8,525.2 804.4,533.6 804.9,513.5 805.5,549.7 806.0,546.4 806.6,520.8 807.2,515.9 807.7,526.5 808.3,535.7 808.9,543.9 809.4,545.6 810.0,534.9 810.5,538.8 811.1,533.7 811.7,515.5 812.2,538.2 812.8,533.7 813.4,518.5 813.9,545.4 814.5,531.2 815.0,549.8 815.6,555.5 816.2,511.9 816.7,543.2 817.3,537.9 817.8,557.8 818.4,537.1 819.0,538.4 819.5,548.2 820.1,536.0 820.7,544.1 821.2,543.6 821.8,543.2 822.3,545.8 822.9,568.7 823.5,537.3 824.0,537.9 824.6,559.0 825.2,547.6 825.7,576.5 826.3,538.3 826.8,540.3 827.4,557.1 828.0,545.0 828.5,535.0 829.1,557.8 829.6,565.9 830.2,558.7 830.8,541.4 831.3,544.1 831.9,554.7 832.5,561.5 833.0,543.9 833.6,571.1 834.1,558.6 834.7,562.9 835.3,545.5 835.8,547.2 836.4,570.8 836.9,543.2 837.5,545.0 838.1,556.1 838.6,556.9 839.2,556.2 839.8,554.4 840.3,552.7 840.9,575.2 841.4,532.7 842.0,556.7 842.6,563.9 843.1,558.5 843.7,551.8 844.3,560.3 844.8,573.7 845.4,566.7 845.9,551.0 846.5,576.5 847.1,576.0 847.6,573.6 848.2,561.3 848.7,560.5 849.3,584.5 849.9,573.2 850.4,553.1 851.0,563.7 851.6,564.8 852.1,572.5 852.7,592.8 853.2,567.7 853.8,584.1 854.4,597.7 854.9,545.1 855.5,559.9 856.1,562.8 856.6,565.7 857.2,579.9 857.7,592.5 858.3,571.0 858.9,561.8 859.4,571.1 860.0,587.4 860.5,590.4 861.1,586.9 861.7,581.5 862.2,584.1 862.8,577.0 863.4,588.4 863.9,581.7 864.5,578.6 865.0,588.0 865.6,586.4 866.2,577.5 866.7,603.9 867.3,593.4 867.9,573.7 868.4,594.7 869.0,599.4 869.5,613.5 870.1,597.6 870.7,592.6 871.2,589.4 871.8,585.8 872.3,587.7 872.9,602.7 873.5,594.2 874.0,587.2 874.6,590.0 875.2,583.4 875.7,577.6 876.3,586.9 876.8,581.3 877.4,593.3 878.0,584.9 878.5,605.9 879.1,576.1 879.7,589.2 880.2,599.4 880.8,626.2 881.3,598.1 881.9,601.3 882.5,605.1 883.0,613.3 883.6,601.0 884.1,607.8 884.7,593.2 885.3,596.7 885.8,600.4 886.4,600.3 887.0,596.1 887.5,595.4 888.1,588.5 888.6,601.6 889.2,604.5 889.8,591.2 890.3,611.1 890.9,605.6 891.4,601.1 892.0,593.4 892.6,595.3 893.1,612.6 893.7,609.6 894.3,638.3 894.8,599.1 895.4,616.0 895.9,609.1 896.5,622.0 897.1,624.7 897.6,618.6 898.2,615.3 898.8,598.7 899.3,606.5 899.9,617.9 900.4,599.9 901.0,611.0 901.6,590.8 902.1,597.1 902.7,612.4 903.2,635.6 903.8,610.9 904.4,637.2 904.9,606.8 905.5,623.3 906.1,598.6 906.6,614.5 907.2,617.7 907.7,605.8 908.3,624.2 908.9,601.0 909.4,606.0 910.0,613.9 910.6,628.2 911.1,626.7 911.7,615.5 912.2,607.8 912.8,621.5 913.4,619.6 913.9,641.2 914.5,642.2 915.0,641.1 915.6,627.5 916.2,613.3 916.7,609.3 917.3,612.8 917.9,617.4 918.4,638.7 919.0,621.3 919.5,616.9 920.1,638.2 920.7,633.3 921.2,616.0 921.8,625.1 922.4,612.7 922.9,642.7 923.5,651.1 924.0,612.6 924.6,614.4 925.2,626.0 925.7,637.3 926.3,644.1 926.8,622.8 927.4,640.2 928.0,650.2 928.5,637.9 929.1,621.5 929.7,631.2 930.2,661.2 930.8,629.5 931.3,630.1 931.9,632.9 932.5,661.6 933.0,655.1 933.6,656.2 934.1,641.0 934.7,642.4 935.3,643.1 935.8,666.1 936.4,643.7 937.0,637.3 937.5,631.4 938.1,639.8 938.6,654.6 939.2,650.5 939.8,653.4 940.3,646.3 940.9,650.0 941.5,665.8 942.0,643.8 942.6,642.1 943.1,668.8 943.7,667.5 944.3,636.1 944.8,653.8 945.4,658.4 945.9,672.2 946.5,665.7 947.1,655.5 947.6,693.9 948.2,654.4 948.8,650.1 949.3,665.9 949.9,673.1 950.4,679.4 951.0,633.9 951.6,652.4 952.1,677.1 952.7,649.7 953.3,659.7 953.8,674.1 954.4,650.0 954.9,671.6 955.5,644.6 956.1,657.6 956.6,652.5 957.2,663.0 957.7,692.5 958.3,678.6 958.9,680.8 959.4,664.2 960.0,648.4 960.6,665.8 961.1,659.7 961.7,678.0 962.2,675.2 962.8,678.5 963.4,658.5 963.9,711.0 964.5,669.5 965.1,666.3 965.6,662.9 966.2,661.8 966.7,679.0 967.3,682.6 967.9,697.5 968.4,644.8 969.0,659.3 969.5,684.5 970.1,687.9 970.7,663.5 971.2,680.7 971.8,673.4 972.4,702.4 972.9,702.8 973.5,657.9 974.0,707.6 974.6,676.0 975.2,672.5 975.7,674.1 976.3,680.7 976.9,715.1 977.4,686.9 978.0,690.6 978.5,699.5 979.1,712.1 979.7,690.9 980.2,669.6 980.8,696.0 981.3,693.6 981.9,664.7 982.5,703.3 983.0,679.9 983.6,714.0 984.2,713.1 984.7,694.4 985.3,692.6 985.8,692.3 986.4,712.4 987.0,688.6 987.5,679.1 988.1,724.0 988.6,690.6 989.2,699.3 989.8,686.4 990.3,689.2 990.9,690.3 991.5,676.4 992.0,694.5 992.6,693.5 993.1,704.6 993.7,704.3 994.3,686.8 994.8,705.5 995.4,690.0 996.0,705.0 996.5,685.6 997.1,709.4 997.6,694.2 998.2,679.4 998.8,710.2 999.3,720.9 999.9,676.2 1000.4,698.5 1001.0,704.6 1001.6,677.4 1002.1,704.3 1002.7,704.1 1003.3,688.5 1003.8,707.9 1004.4,733.8 1004.9,704.6 1005.5,710.2 1006.1,705.1 1006.6,691.2 1007.2,708.5 1007.8,718.2 1008.3,719.8 1008.9,731.7 1009.4,714.3 1010.0,724.0 1010.6,707.8 1011.1,702.9 1011.7,692.5 1012.2,740.9 1012.8,711.4 1013.4,720.8 1013.9,708.8 1014.5,721.6 1015.1,711.5 1015.6,685.1 1016.2,712.0 1016.7,722.7 1017.3,684.5 1017.9,706.8 1018.4,726.4 1019.0,735.5 1019.6,734.9 1020.1,701.2 1020.7,704.4 1021.2,717.6 1021.8,689.6 1022.4,709.4 1022.9,709.4 1023.5,694.8 1024.0,673.8 1024.6,727.7 1025.2,715.8 1025.7,782.3 1026.3,707.6 1026.9,712.9 1027.4,728.4 1028.0,717.3 1028.5,715.4 1029.1,722.0 1029.7,723.3 1030.2,751.3 1030.8,706.6 1031.3,729.1 1031.9,751.6 1032.5,716.7 1033.0,744.0 1033.6,736.4 1034.2,734.4 1034.7,690.9 1035.3,706.3 1035.8,728.7 1036.4,737.0 1037.0,722.2 1037.5,734.9 1038.1,725.7 1038.7,752.3 1039.2,744.3 1039.8,721.7 1040.3,736.7 1040.9,733.7 1041.5,731.4 1042.0,743.5 1042.6,759.4 1043.1,733.2 1043.7,726.0 1044.3,727.9 1044.8,731.2 1045.4,737.8 1046.0,722.4 1046.5,741.1 1047.1,716.1 1047.6,781.9 1048.2,721.2 1048.8,734.6 1049.3,727.2 1049.9,754.7 1050.5,715.9 1051.0,762.0 1051.6,732.9 1052.1,754.4 1052.7,717.5 1053.3,756.6 1053.8,761.3 1054.4,766.4 1054.9,725.1 1055.5,737.9 1056.1,732.4 1056.6,745.0 1057.2,719.9 1057.8,760.4 1058.3,762.4 1058.9,730.7 1059.4,748.7 1060.0,758.8 1060.6,737.2 1061.1,766.6 1061.7,739.8 1062.3,756.6 1062.8,738.7 1063.4,744.0 1063.9,714.4 1064.5,745.0 1065.1,744.4 1065.6,761.6 1066.2,743.8 1066.7,743.1 1067.3,745.9 1067.9,730.4 1068.4,766.4 1069.0,743.0 1069.6,751.3 1070.1,727.9 1070.7,766.2 1071.2,737.1 1071.8,755.7 1072.4,785.3 1072.9,735.1 1073.5,766.2 1074.1,757.9 1074.6,767.6 1075.2,762.5 1075.7,773.9 1076.3,779.3 1076.9,773.1 1077.4,754.5 1078.0,814.9 1078.5,799.9 1079.1,764.3 1079.7,770.0 1080.2,775.6 1080.8,758.1 1081.4,775.7 1081.9,770.2 1082.5,764.2 1083.0,782.2 1083.6,774.9 1084.2,757.1 1084.7,781.4 1085.3,786.3 1085.8,805.6 1086.4,780.0 1087.0,807.2 1087.5,778.5 1088.1,765.4 1088.7,739.0 1089.2,763.8 1089.8,748.3 1090.3,769.5 1090.9,762.8 1091.5,798.4 1092.0,775.9 1092.6,845.2 1093.2,794.0 1093.7,779.7 1094.3,758.1 1094.8,796.0 1095.4,804.2 1096.0,776.0 1096.5,771.7 1097.1,760.7 1097.6,764.3 1098.2,801.4 1098.8,790.0 1099.3,775.7 1099.9,766.9 1100.5,770.8 1101.0,779.5 1101.6,825.6 1102.1,757.5 1102.7,818.9 1103.3,784.7 1103.8,765.2 1104.4,759.2 1105.0,803.5 1105.5,774.6 1106.1,801.8 1106.6,783.6 1107.2,782.1 1107.8,795.7 1108.3,779.4 1108.9,812.6 1109.4,791.1 1110.0,802.9 1110.6,778.1 1111.1,783.0 1111.7,782.6 1112.3,802.0 1112.8,814.7 1113.4,787.3 1113.9,786.0 1114.5,778.8 1115.1,797.0 1115.6,782.7 1116.2,779.1 1116.8,812.2 1117.3,811.5 1117.9,796.8 1118.4,801.5 1119.0,823.9 1119.6,797.6 1120.1,828.8 1120.7,820.2 1121.2,760.2 1121.8,776.9 1122.4,804.5 1122.9,804.0 1123.5,803.3 1124.1,779.2 1124.6,797.8 1125.2,785.9 1125.7,791.3 1126.3,825.7 1126.9,803.7 1127.4,794.9 1128.0,837.0 1128.5,793.3 1129.1,802.2 1129.7,785.0 1130.2,801.2 1130.8,805.6 1131.4,828.0 1131.9,824.0 1132.5,809.3 1133.0,800.5 1133.6,771.9 1134.2,778.8 1134.7,825.5 1135.3,785.9 1135.9,835.7 1136.4,830.3 1137.0,795.3 1137.5,788.3 1138.1,834.3 1138.7,798.5 1139.2,818.4 1139.8,781.3 1140.3,819.1 1140.9,824.6 1141.5,818.0 1142.0,801.3 1142.6,791.0 1143.2,807.6 1143.7,803.0 1144.3,827.4 1144.8,793.7 1145.4,826.8 1146.0,816.1 1146.5,825.7 1147.1,830.0 1147.7,834.3 1148.2,834.8 1148.8,797.3 1149.3,884.9 1149.9,808.5 1150.5,860.0 1151.0,808.8 1151.6,848.2 1152.1,827.0 1152.7,823.8 1153.3,855.8 1153.8,805.6 1154.4,836.0 1155.0,824.8 1155.5,783.7 1156.1,831.0 1156.6,806.8 1157.2,843.0 1157.8,798.5 1158.3,854.0 1158.9,817.2 1159.5,854.2 1160.0,820.3 1160.6,797.2 1161.1,783.4 1161.7,847.3 1162.3,807.9 1162.8,895.6 1163.4,851.8 1163.9,812.7 1164.5,836.3 1165.1,829.8 1165.6,845.3 1166.2,825.4 1166.8,814.1 1167.3,796.4 1167.9,824.1 1168.4,821.0 1169.0,814.6 1169.6,839.7 1170.1,810.6 1170.7,846.9 1171.3,801.6 1171.8,838.8 1172.4,835.7 1172.9,834.8 1173.5,834.6 1174.1,823.1 1174.6,844.3 1175.2,851.9 1175.7,863.5 1176.3,851.2 1176.9,861.1 1177.4,820.4 1178.0,839.8 1178.6,844.0 1179.1,873.7 1179.7,826.0 1180.2,931.1 1180.8,838.4 1181.4,844.1 1181.9,859.3 1182.5,842.4 1183.0,871.0 1183.6,848.8 1184.2,855.8 1184.7,855.8 1185.3,845.3 1185.9,812.7 1186.4,834.2 1187.0,830.7 1187.5,864.6 1188.1,843.1 1188.7,853.3 1189.2,858.0 1189.8,869.5 1190.4,844.7 1190.9,823.6 1191.5,838.2 1192.0,817.8 1192.6,845.2 1193.2,869.1 1193.7,858.6 1194.3,863.3 1194.8,895.8 1195.4,893.5 1196.0,849.0 1196.5,843.0 1197.1,809.9 1197.7,834.2 1198.2,833.3 1198.8,848.3 1199.3,829.8 1199.9,887.1 1200.5,859.0 1201.0,813.1 1201.6,848.1 1202.2,846.3 1202.7,870.1 1203.3,909.3 1203.8,838.0 1204.4,913.3 1205.0,826.1 1205.5,896.2 1206.1,841.0 1206.6,876.0 1207.2,847.0 1207.8,893.4 1208.3,898.6 1208.9,844.5 1209.5,847.9 1210.0,856.8 1210.6,855.8 1211.1,879.8 1211.7,834.4 1212.3,874.9 1212.8,890.0 1213.4,867.8 1214.0,878.5 1214.5,888.9 1215.1,917.8 1215.6,835.9 1216.2,880.8 1216.8,826.3 1217.3,881.6 1217.9,876.5 1218.4,870.8 1219.0,895.5 1219.6,889.9 1220.1,893.2 1220.7,890.4 1221.3,854.9 1221.8,914.2 1222.4,886.5 1222.9,815.8 1223.5,893.8 1224.1,872.4 1224.6,900.4 1225.2,883.1 1225.7,886.3 1226.3,856.3 1226.9,884.4 1227.4,892.5 1228.0,899.8 1228.6,904.9 1229.1,934.8 1229.7,859.0 1230.2,924.4 1230.8,936.3 1231.4,899.1 1231.9,964.1 1232.5,906.0 1233.1,884.1 1233.6,898.5 1234.2,875.9 1234.7,879.9 1235.3,867.3 1235.9,870.1 1236.4,865.6 1237.0,894.8 1237.5,913.9 1238.1,907.3 1238.7,913.5 1239.2,901.0 1239.8,919.5 1240.4,901.0 1240.9,869.8 1241.5,893.1 1242.0,904.1 1242.6,888.0 1243.2,884.2 1243.7,896.6 1244.3,886.1 1244.9,900.5 1245.4,899.1 1246.0,900.6 1246.5,938.5 1247.1,896.8 1247.7,921.9 1248.2,905.3 1248.8,886.4 1249.3,886.7 1249.9,846.6 1250.5,940.9 1251.0,872.5 1251.6,886.1 1252.2,905.1 1252.7,884.7 1253.3,923.5 1253.8,898.7 1254.4,908.8 1255.0,860.1 1255.5,905.4 1256.1,901.6 1256.7,889.5 1257.2,913.2 1257.8,895.2 1258.3,894.0 1258.9,884.8 1259.5,901.9 1260.0,893.1 1260.6,928.2 1261.1,867.6 1261.7,925.4 1262.3,950.8 1262.8,917.7 1263.4,911.7 1264.0,979.0 1264.5,908.3 1265.1,880.9 1265.6,902.4 1266.2,860.5 1266.8,927.9 1267.3,939.5 1267.9,894.4 1268.5,868.4 1269.0,884.2 1269.6,949.6 1270.1,957.6 1270.7,913.1 1271.3,916.1 1271.8,887.8 1272.4,920.3 1272.9,929.8 1273.5,904.5 1274.1,906.8 1274.6,893.5 1275.2,887.1 1275.8,949.0 1276.3,910.1 1276.9,930.6 1277.4,928.3 1278.0,904.0 1278.6,944.3 1279.1,955.6 1279.7,885.1 1280.2,885.7 1280.8,955.1 1281.4,895.4 1281.9,924.4 1282.5,907.8 1283.1,962.8 1283.6,960.5 1284.2,937.3 1284.7,929.7 1285.3,937.6 1285.9,898.0 1286.4,929.4 1287.0,910.5 1287.6,896.2 1288.1,911.2 1288.7,947.4 1289.2,913.4 1289.8,932.6 1290.4,931.6 1290.9,928.7 1291.5,934.7 1292.0,960.5 1292.6,924.4 1293.2,938.8 1293.7,910.1 1294.3,963.4 1294.9,941.6 1295.4,944.6 1296.0,958.8 1296.5,947.0 1297.1,923.3 1297.7,927.4 1298.2,958.7 1298.8,994.9 1299.4,949.3 1299.9,943.9 1300.5,935.4 1301.0,982.5 1301.6,897.6 1302.2,875.5 1302.7,975.2 1303.3,926.5 1303.8,987.1 1304.4,968.0 1305.0,951.3 1305.5,940.4 1306.1,930.0 1306.7,916.8 1307.2,911.9 1307.8,934.7 1308.3,916.1 1308.9,941.6 1309.5,926.5 1310.0,888.3 1310.6,972.9 1311.2,990.1 1311.7,954.4 1312.3,958.6 1312.8,892.4 1313.4,993.3 1314.0,981.7 1314.5,968.4 1315.1,973.9 1315.6,915.8 1316.2,969.6 1316.8,941.1 1317.3,966.5 1317.9,901.3 1318.5,940.9 1319.0,954.5 1319.6,904.2 1320.1,980.8 1320.7,994.4 1321.3,962.0 1321.8,941.5 1322.4,954.6 1322.9,950.4 1323.5,930.8 1324.1,949.8 1324.6,902.2 1325.2,1034.4 1325.8,939.4 1326.3,923.4 1326.9,1035.2 1327.4,1004.0 1328.0,986.0 1328.6,917.2 1329.1,1025.3 1329.7,935.3 1330.3,1002.3 1330.8,979.5 1331.4,965.3 1331.9,976.9 1332.5,965.2 1333.1,984.3 1333.6,963.7 1334.2,970.0 1334.7,932.2 1335.3,996.2 1335.9,936.7 1336.4,985.2 1337.0,919.5 1337.6,1019.7 1338.1,975.5 1338.7,956.6 1339.2,993.4 1339.8,993.9 1340.4,983.7 1340.9,977.3 1341.5,952.5 1342.1,960.4 1342.6,957.2 1343.2,960.8 1343.7,939.7 1344.3,993.9 1344.9,951.9 1345.4,992.4 1346.0,984.5 1346.5,1011.9 1347.1,946.8 1347.7,1015.5 1348.2,974.6 1348.8,981.3 1349.4,1016.1 1349.9,1003.6 1350.5,995.9 1351.0,928.5 1351.6,947.4 1352.2,941.6 1352.7,975.5 1353.3,967.7 1353.9,971.8 1354.4,934.6 1355.0,998.7 1355.5,990.4 1356.1,950.0 1356.7,928.3 1357.2,971.2 1357.8,956.1 1358.3,960.9 1358.9,960.5 1359.5,979.5 1360.0,1027.2 1360.6,974.4 1361.2,984.6 1361.7,982.8 1362.3,980.1 1362.8,982.9 1363.4,938.5 1364.0,1042.1 1364.5,930.3 1365.1,1000.5 1365.7,975.7 1366.2,996.9 1366.8,946.6 1367.3,977.8 1367.9,952.1 1368.5,1006.5 1369.0,983.3 1369.6,1014.5 1370.1,984.4 1370.7,988.2 1371.3,1057.8 1371.8,1043.0 1372.4,1009.9 1373.0,913.0 1373.5,972.7 1374.1,996.1 1374.6,947.2 1375.2,1011.2 1375.8,1026.8 1376.3,1021.9 1376.9,950.1 1377.4,1009.1 1378.0,968.7 1378.6,946.2 1379.1,968.0 1379.7,977.4 1380.3,986.7 1380.8,997.9 1381.4,1002.0 1381.9,1023.3 1382.5,998.3 1383.1,1042.6 1383.6,960.5 1384.2,1005.7 1384.8,994.9 1385.3,1010.7 1385.9,1015.6 1386.4,984.4 1387.0,994.8 1387.6,934.8 1388.1,984.1 1388.7,964.4 1389.2,1038.1 1389.8,1062.6 1390.4,989.1 1390.9,1012.7 1391.5,984.8 1392.1,1042.3 1392.6,1036.4 1393.2,1062.6 1393.7,965.5 1394.3,960.9 1394.9,1048.8 1395.4,1002.1 1396.0,950.0 1396.6,997.3 1397.1,1013.5 1397.7,1021.7 1398.2,995.1 1398.8,979.0 1399.4,995.4 1399.9,1062.6 1400.5,1021.8 1401.0,999.6 1401.6,1062.6 1402.2,999.2 1402.7,1062.6 1403.3,1021.1 1403.9,985.1 1404.4,1022.5 1405.0,1030.7 1405.5,986.7 1406.1,1029.4 1406.7,954.9 1407.2,1062.6 1407.8,1039.1 1408.4,988.5 1408.9,1062.6 1409.5,1008.8 1410.0,1026.3 1410.6,1041.7 1411.2,1062.6 1411.7,1036.6 1412.3,1002.0 1412.8,1052.3 1413.4,1045.5 1414.0,987.4 1414.5,995.1 1415.1,981.3 1415.7,970.9 1416.2,1022.0 1416.8,1042.6 1417.3,1049.1 1417.9,1062.6 1418.5,1022.3 1419.0,981.3 1419.6,1020.9 1420.1,1062.6 1420.7,1023.2 1421.3,997.5 1421.8,1013.1 1422.4,1057.0 1423.0,1030.2 1423.5,1015.3 1424.1,1010.0 1424.6,1059.4 1425.2,1062.6 1425.8,993.5 1426.3,967.8 1426.9,1012.0 1427.5,1062.6 1428.0,1022.2 1428.6,1029.2 1429.1,1028.9 1429.7,1049.0 1430.3,1046.6 1430.8,1062.3 1431.4,1027.1 1431.9,1029.5 1432.5,994.9 1433.1,1062.6 1433.6,1020.3 1434.2,1016.6" stroke="#808000"/>
</g>
<g stroke="#000" stroke-width="4.00" fill="none" stroke-linecap="butt">
<rect x="260.6" y="55.5" width="1180.9" height="951.2"/>
<line x1="242.8" y1="75.3" x2="260.6" y2="75.3"/>
<line x1="252.2" y1="400.8" x2="260.6" y2="400.8"/>
<line x1="252.2" y1="318.8" x2="260.6" y2="318.8"/>
<line x1="252.2" y1="260.6" x2="260.6" y2="260.6"/>
<line x1="252.2" y1="215.5" x2="260.6" y2="215.5"/>
<line x1="252.2" y1="178.6" x2="260.6" y2="178.6"/>
<line x1="252.2" y1="147.4" x2="260.6" y2="147.4"/>
<line x1="252.2" y1="120.4" x2="260.6" y2="120.4"/>
<line x1="252.2" y1="96.6" x2="260.6" y2="96.6"/>
<line x1="242.8" y1="541.0" x2="260.6" y2="541.0"/>
<line x1="252.2" y1="866.5" x2="260.6" y2="866.5"/>
<line x1="252.2" y1="784.5" x2="260.6" y2="784.5"/>
<line x1="252.2" y1="726.3" x2="260.6" y2="726.3"/>
<line x1="252.2" y1="681.2" x2="260.6" y2="681.2"/>
<line x1="252.2" y1="644.3" x2="260.6" y2="644.3"/>
<line x1="252.2" y1="613.1" x2="260.6" y2="613.1"/>
<line x1="252.2" y1="586.1" x2="260.6" y2="586.1"/>
<line x1="252.2" y1="562.3" x2="260.6" y2="562.3"/>
<line x1="242.8" y1="1006.7" x2="260.6" y2="1006.7"/>
<line x1="317.8" y1="1006.7" x2="317.8" y2="1024.4"/>
<line x1="458.3" y1="1006.7" x2="458.3" y2="1013.6"/>
<line x1="598.7" y1="1006.7" x2="598.7" y2="1024.4"/>
<line x1="739.2" y1="1006.7" x2="739.2" y2="1013.6"/>
<line x1="879.7" y1="1006.7" x2="879.7" y2="1024.4"/>
<line x1="1020.1" y1="1006.7" x2="1020.1" y2="1013.6"/>
<line x1="1160.6" y1="1006.7" x2="1160.6" y2="1024.4"/>
<line x1="1301.0" y1="1006.7" x2="1301.0" y2="1013.6"/>
<line x1="1441.5" y1="1006.7" x2="1441.5" y2="1024.4"/>
</g>
<text transform="translate(317.0,1100.8) scale(1,1.035)" font-size="82.0" text-anchor="middle">0</text>
<text transform="translate(597.9,1100.8) scale(1,1.035)" font-size="82.0" text-anchor="middle">1</text>
<text transform="translate(878.9,1100.8) scale(1,1.035)" font-size="82.0" text-anchor="middle">2</text>
<text transform="translate(1159.8,1100.8) scale(1,1.035)" font-size="82.0" text-anchor="middle">3</text>
<text transform="translate(1440.7,1100.8) scale(1,1.035)" font-size="82.0" text-anchor="middle">4</text>
<text transform="translate(231.6,98.5) scale(1,1.035)" font-size="82.0" text-anchor="end">1</text>
<text transform="translate(231.6,564.2) scale(1,1.035)" font-size="82.0" text-anchor="end">0.1</text>
<text transform="translate(231.6,1029.9) scale(1,1.035)" font-size="82.0" text-anchor="end">0.01</text>
<text transform="translate(852.8,1181.6) scale(1,1.000)" font-size="82.0" text-anchor="middle">Time(ms)</text>
<text transform="translate(80.6,478.3) rotate(-90) scale(1,1.030)" font-size="81.2" text-anchor="middle">Intensity(a.u.)</text>
<line x1="989.3" y1="106.0" x2="1127.2" y2="106.0" stroke="#000000" stroke-width="4" stroke-linecap="round"/>
<text class="it" transform="translate(1143.7,127.1) scale(1.07,1)" font-size="62.6">x</text>
<text transform="translate(1189.9,127.1) scale(1,1.03)" font-size="63.3">=0.0001</text>
<line x1="989.3" y1="183.4" x2="1127.2" y2="183.4" stroke="#ff0000" stroke-width="4" stroke-linecap="round"/>
<text class="it" transform="translate(1143.7,204.5) scale(1.07,1)" font-size="62.6">x</text>
<text transform="translate(1189.9,204.5) scale(1,1.03)" font-size="63.3">=0.0002</text>
<line x1="989.3" y1="260.9" x2="1127.2" y2="260.9" stroke="#0000ff" stroke-width="4" stroke-linecap="round"/>
<text class="it" transform="translate(1143.7,282.0) scale(1.07,1)" font-size="62.6">x</text>
<text transform="translate(1189.9,282.0) scale(1,1.03)" font-size="63.3">=0.0005</text>
<line x1="989.3" y1="338.3" x2="1127.2" y2="338.3" stroke="#00ff00" stroke-width="4" stroke-linecap="round"/>
<text class="it" transform="translate(1143.7,359.4) scale(1.07,1)" font-size="62.6">x</text>
<text transform="translate(1189.9,359.4) scale(1,1.03)" font-size="63.3">=0.001</text>
<line x1="989.3" y1="415.7" x2="1127.2" y2="415.7" stroke="#00ffff" stroke-width="4" stroke-linecap="round"/>
<text class="it" transform="translate(1143.7,436.8) scale(1.07,1)" font-size="62.6">x</text>
<text transform="translate(1189.9,436.8) scale(1,1.03)" font-size="63.3">=0.002</text>
<line x1="989.3" y1="493.2" x2="1127.2" y2="493.2" stroke="#ff00ff" stroke-width="4" stroke-linecap="round"/>
<text class="it" transform="translate(1143.7,514.2) scale(1.07,1)" font-size="62.6">x</text>
<text transform="translate(1189.9,514.2) scale(1,1.03)" font-size="63.3">=0.005</text>
<line x1="989.3" y1="570.6" x2="1127.2" y2="570.6" stroke="#ffff00" stroke-width="4" stroke-linecap="round"/>
<text class="it" transform="translate(1143.7,591.7) scale(1.07,1)" font-size="62.6">x</text>
<text transform="translate(1189.9,591.7) scale(1,1.03)" font-size="63.3">=0.01</text>
<line x1="989.3" y1="648.0" x2="1127.2" y2="648.0" stroke="#808000" stroke-width="4" stroke-linecap="round"/>
<text class="it" transform="translate(1143.7,669.1) scale(1.07,1)" font-size="62.6">x</text>
<text transform="translate(1189.9,669.1) scale(1,1.03)" font-size="63.3">=0.05</text>
</svg></body></html>
